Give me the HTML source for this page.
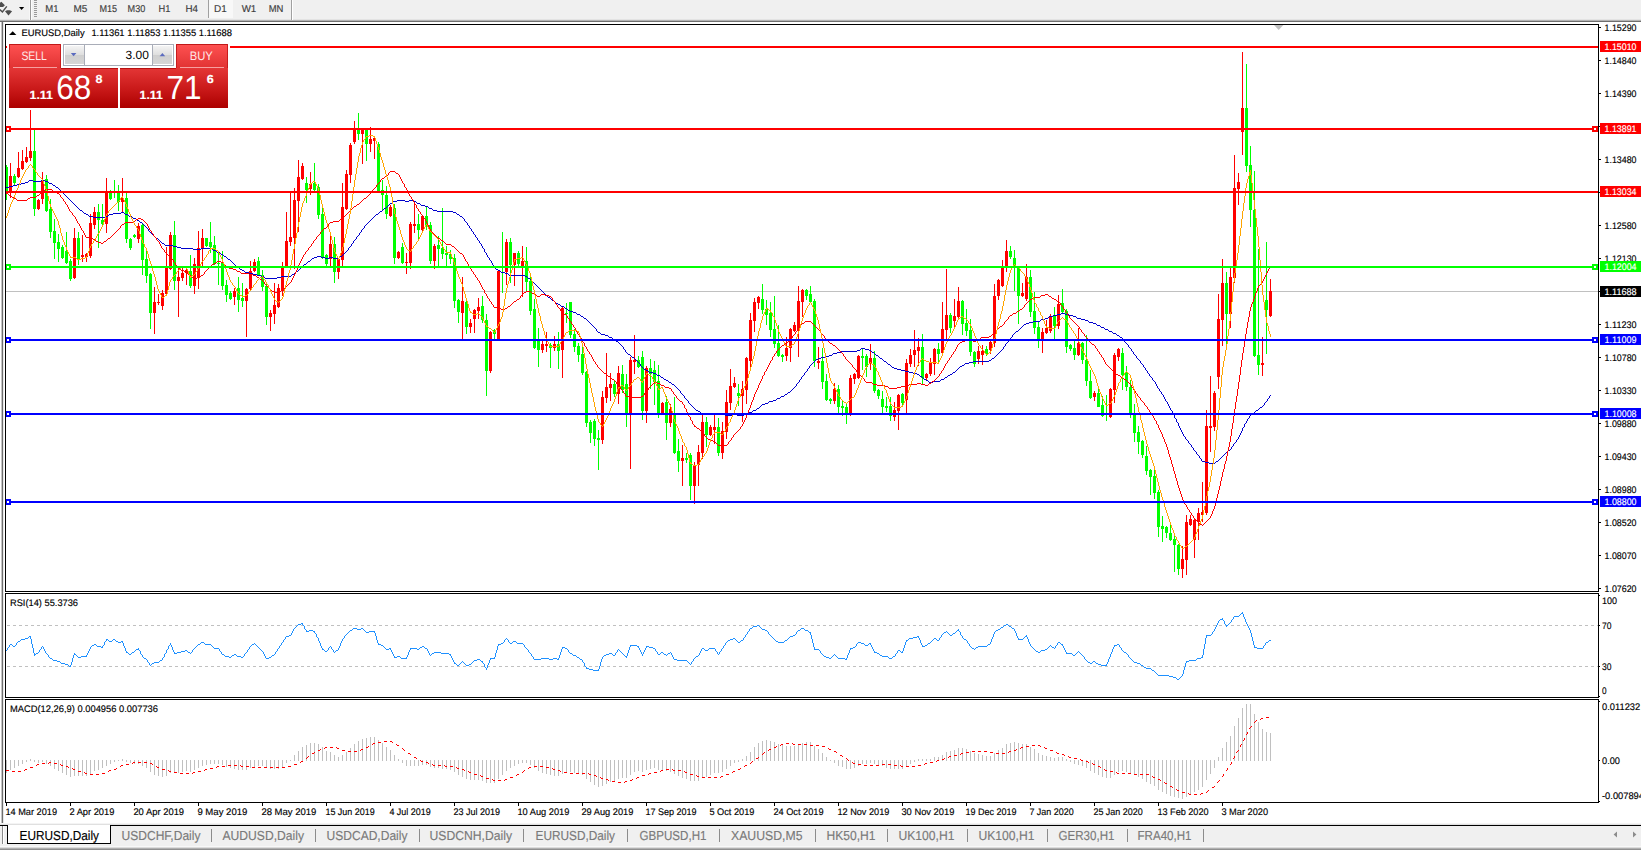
<!DOCTYPE html>
<html lang="en"><head><meta charset="utf-8"><title>EURUSD,Daily</title>
<style>
html,body{margin:0;padding:0;background:#fff;overflow:hidden}
svg{display:block;font-family:"Liberation Sans", sans-serif;}
svg text{white-space:pre}
</style></head><body>
<svg width="1641" height="850" viewBox="0 0 1641 850" shape-rendering="crispEdges" text-rendering="geometricPrecision">
<rect x="0" y="0" width="1641" height="850" fill="#ffffff" />
<clipPath id="cpMain"><rect x="6" y="25" width="1592" height="566"/></clipPath>
<g clip-path="url(#cpMain)">
<rect x="6" y="291" width="1592" height="1" fill="#c0c0c0" />
<rect x="6" y="165" width="1" height="35" fill="#00ff00" />
<rect x="5" y="167" width="3" height="26" fill="#00ff00" />
<rect x="10" y="163" width="1" height="35" fill="#ff0000" />
<rect x="9" y="176" width="3" height="17" fill="#ff0000" />
<rect x="14" y="174" width="1" height="11" fill="#00ff00" />
<rect x="13" y="176" width="3" height="7" fill="#00ff00" />
<rect x="18" y="152" width="1" height="26" fill="#ff0000" />
<rect x="17" y="168" width="3" height="9" fill="#ff0000" />
<rect x="22" y="150" width="1" height="20" fill="#ff0000" />
<rect x="21" y="161" width="3" height="8" fill="#ff0000" />
<rect x="26" y="147" width="1" height="16" fill="#ff0000" />
<rect x="25" y="157" width="3" height="5" fill="#ff0000" />
<rect x="30" y="110" width="1" height="51" fill="#ff0000" />
<rect x="29" y="151" width="3" height="7" fill="#ff0000" />
<rect x="34" y="130" width="1" height="86" fill="#00ff00" />
<rect x="33" y="151" width="3" height="58" fill="#00ff00" />
<rect x="38" y="199" width="1" height="11" fill="#ff0000" />
<rect x="37" y="200" width="3" height="9" fill="#ff0000" />
<rect x="42" y="172" width="1" height="32" fill="#ff0000" />
<rect x="41" y="180" width="3" height="19" fill="#ff0000" />
<rect x="46" y="175" width="1" height="37" fill="#00ff00" />
<rect x="45" y="179" width="3" height="32" fill="#00ff00" />
<rect x="50" y="199" width="1" height="39" fill="#00ff00" />
<rect x="49" y="209" width="3" height="23" fill="#00ff00" />
<rect x="54" y="219" width="1" height="40" fill="#00ff00" />
<rect x="53" y="231" width="3" height="12" fill="#00ff00" />
<rect x="58" y="234" width="1" height="28" fill="#00ff00" />
<rect x="57" y="242" width="3" height="7" fill="#00ff00" />
<rect x="62" y="245" width="1" height="14" fill="#00ff00" />
<rect x="61" y="247" width="3" height="11" fill="#00ff00" />
<rect x="66" y="232" width="1" height="32" fill="#00ff00" />
<rect x="65" y="251" width="3" height="12" fill="#00ff00" />
<rect x="70" y="259" width="1" height="22" fill="#00ff00" />
<rect x="69" y="261" width="3" height="18" fill="#00ff00" />
<rect x="74" y="228" width="1" height="51" fill="#ff0000" />
<rect x="73" y="238" width="3" height="40" fill="#ff0000" />
<rect x="78" y="232" width="1" height="33" fill="#00ff00" />
<rect x="77" y="238" width="3" height="21" fill="#00ff00" />
<rect x="82" y="235" width="1" height="27" fill="#ff0000" />
<rect x="81" y="255" width="3" height="2" fill="#ff0000" />
<rect x="86" y="253" width="1" height="9" fill="#ff0000" />
<rect x="85" y="254" width="3" height="3" fill="#ff0000" />
<rect x="90" y="214" width="1" height="44" fill="#ff0000" />
<rect x="89" y="223" width="3" height="33" fill="#ff0000" />
<rect x="94" y="207" width="1" height="22" fill="#ff0000" />
<rect x="93" y="212" width="3" height="13" fill="#ff0000" />
<rect x="98" y="204" width="1" height="44" fill="#00ff00" />
<rect x="97" y="212" width="3" height="8" fill="#00ff00" />
<rect x="102" y="204" width="1" height="21" fill="#00ff00" />
<rect x="101" y="220" width="3" height="4" fill="#00ff00" />
<rect x="106" y="178" width="1" height="55" fill="#ff0000" />
<rect x="105" y="192" width="3" height="32" fill="#ff0000" />
<rect x="110" y="190" width="1" height="10" fill="#00ff00" />
<rect x="109" y="191" width="3" height="8" fill="#00ff00" />
<rect x="114" y="180" width="1" height="18" fill="#00ff00" />
<rect x="113" y="192" width="3" height="1" fill="#00ff00" />
<rect x="118" y="185" width="1" height="26" fill="#00ff00" />
<rect x="117" y="193" width="3" height="9" fill="#00ff00" />
<rect x="122" y="178" width="1" height="34" fill="#ff0000" />
<rect x="121" y="198" width="3" height="4" fill="#ff0000" />
<rect x="126" y="193" width="1" height="50" fill="#00ff00" />
<rect x="125" y="198" width="3" height="41" fill="#00ff00" />
<rect x="130" y="238" width="1" height="12" fill="#00ff00" />
<rect x="129" y="239" width="3" height="9" fill="#00ff00" />
<rect x="134" y="234" width="1" height="4" fill="#00ff00" />
<rect x="133" y="235" width="3" height="2" fill="#00ff00" />
<rect x="138" y="223" width="1" height="20" fill="#ff0000" />
<rect x="137" y="226" width="3" height="13" fill="#ff0000" />
<rect x="142" y="224" width="1" height="51" fill="#00ff00" />
<rect x="141" y="225" width="3" height="35" fill="#00ff00" />
<rect x="146" y="248" width="1" height="35" fill="#00ff00" />
<rect x="145" y="259" width="3" height="17" fill="#00ff00" />
<rect x="150" y="273" width="1" height="56" fill="#00ff00" />
<rect x="149" y="274" width="3" height="39" fill="#00ff00" />
<rect x="154" y="287" width="1" height="47" fill="#ff0000" />
<rect x="153" y="302" width="3" height="11" fill="#ff0000" />
<rect x="158" y="294" width="1" height="11" fill="#ff0000" />
<rect x="157" y="302" width="3" height="1" fill="#ff0000" />
<rect x="162" y="290" width="1" height="20" fill="#ff0000" />
<rect x="161" y="293" width="3" height="13" fill="#ff0000" />
<rect x="166" y="247" width="1" height="48" fill="#ff0000" />
<rect x="165" y="267" width="3" height="27" fill="#ff0000" />
<rect x="170" y="232" width="1" height="38" fill="#ff0000" />
<rect x="169" y="235" width="3" height="34" fill="#ff0000" />
<rect x="174" y="221" width="1" height="69" fill="#00ff00" />
<rect x="173" y="235" width="3" height="46" fill="#00ff00" />
<rect x="178" y="268" width="1" height="49" fill="#ff0000" />
<rect x="177" y="277" width="3" height="4" fill="#ff0000" />
<rect x="182" y="268" width="1" height="13" fill="#ff0000" />
<rect x="181" y="273" width="3" height="5" fill="#ff0000" />
<rect x="186" y="269" width="1" height="16" fill="#ff0000" />
<rect x="185" y="270" width="3" height="3" fill="#ff0000" />
<rect x="190" y="255" width="1" height="33" fill="#00ff00" />
<rect x="189" y="271" width="3" height="15" fill="#00ff00" />
<rect x="194" y="258" width="1" height="36" fill="#ff0000" />
<rect x="193" y="264" width="3" height="22" fill="#ff0000" />
<rect x="198" y="231" width="1" height="58" fill="#ff0000" />
<rect x="197" y="248" width="3" height="30" fill="#ff0000" />
<rect x="202" y="229" width="1" height="37" fill="#ff0000" />
<rect x="201" y="238" width="3" height="10" fill="#ff0000" />
<rect x="206" y="238" width="1" height="9" fill="#00ff00" />
<rect x="205" y="238" width="3" height="8" fill="#00ff00" />
<rect x="210" y="222" width="1" height="31" fill="#00ff00" />
<rect x="209" y="242" width="3" height="5" fill="#00ff00" />
<rect x="214" y="236" width="1" height="29" fill="#00ff00" />
<rect x="213" y="245" width="3" height="19" fill="#00ff00" />
<rect x="218" y="252" width="1" height="33" fill="#00ff00" />
<rect x="217" y="263" width="3" height="1" fill="#00ff00" />
<rect x="222" y="251" width="1" height="39" fill="#00ff00" />
<rect x="221" y="262" width="3" height="24" fill="#00ff00" />
<rect x="226" y="280" width="1" height="22" fill="#00ff00" />
<rect x="225" y="285" width="3" height="10" fill="#00ff00" />
<rect x="230" y="291" width="1" height="9" fill="#00ff00" />
<rect x="229" y="293" width="3" height="6" fill="#00ff00" />
<rect x="234" y="288" width="1" height="17" fill="#ff0000" />
<rect x="233" y="291" width="3" height="6" fill="#ff0000" />
<rect x="238" y="277" width="1" height="35" fill="#00ff00" />
<rect x="237" y="288" width="3" height="12" fill="#00ff00" />
<rect x="242" y="283" width="1" height="24" fill="#00ff00" />
<rect x="241" y="298" width="3" height="3" fill="#00ff00" />
<rect x="246" y="288" width="1" height="49" fill="#ff0000" />
<rect x="245" y="289" width="3" height="12" fill="#ff0000" />
<rect x="250" y="261" width="1" height="29" fill="#ff0000" />
<rect x="249" y="271" width="3" height="18" fill="#ff0000" />
<rect x="254" y="259" width="1" height="13" fill="#ff0000" />
<rect x="253" y="262" width="3" height="9" fill="#ff0000" />
<rect x="258" y="257" width="1" height="19" fill="#00ff00" />
<rect x="257" y="261" width="3" height="14" fill="#00ff00" />
<rect x="262" y="270" width="1" height="21" fill="#00ff00" />
<rect x="261" y="275" width="3" height="12" fill="#00ff00" />
<rect x="266" y="284" width="1" height="41" fill="#00ff00" />
<rect x="265" y="286" width="3" height="31" fill="#00ff00" />
<rect x="270" y="310" width="1" height="21" fill="#ff0000" />
<rect x="269" y="313" width="3" height="4" fill="#ff0000" />
<rect x="274" y="283" width="1" height="41" fill="#ff0000" />
<rect x="273" y="305" width="3" height="9" fill="#ff0000" />
<rect x="278" y="284" width="1" height="24" fill="#ff0000" />
<rect x="277" y="288" width="3" height="19" fill="#ff0000" />
<rect x="282" y="262" width="1" height="34" fill="#ff0000" />
<rect x="281" y="266" width="3" height="25" fill="#ff0000" />
<rect x="286" y="212" width="1" height="55" fill="#ff0000" />
<rect x="285" y="241" width="3" height="25" fill="#ff0000" />
<rect x="290" y="193" width="1" height="53" fill="#ff0000" />
<rect x="289" y="237" width="3" height="5" fill="#ff0000" />
<rect x="294" y="188" width="1" height="81" fill="#ff0000" />
<rect x="293" y="200" width="3" height="38" fill="#ff0000" />
<rect x="298" y="160" width="1" height="72" fill="#ff0000" />
<rect x="297" y="177" width="3" height="24" fill="#ff0000" />
<rect x="302" y="163" width="1" height="17" fill="#ff0000" />
<rect x="301" y="166" width="3" height="13" fill="#ff0000" />
<rect x="306" y="177" width="1" height="26" fill="#00ff00" />
<rect x="305" y="183" width="3" height="7" fill="#00ff00" />
<rect x="310" y="172" width="1" height="23" fill="#ff0000" />
<rect x="309" y="184" width="3" height="5" fill="#ff0000" />
<rect x="314" y="163" width="1" height="28" fill="#00ff00" />
<rect x="313" y="183" width="3" height="7" fill="#00ff00" />
<rect x="318" y="184" width="1" height="35" fill="#00ff00" />
<rect x="317" y="187" width="3" height="28" fill="#00ff00" />
<rect x="322" y="208" width="1" height="51" fill="#00ff00" />
<rect x="321" y="214" width="3" height="43" fill="#00ff00" />
<rect x="326" y="254" width="1" height="12" fill="#00ff00" />
<rect x="325" y="255" width="3" height="9" fill="#00ff00" />
<rect x="330" y="236" width="1" height="30" fill="#ff0000" />
<rect x="329" y="244" width="3" height="15" fill="#ff0000" />
<rect x="334" y="237" width="1" height="46" fill="#00ff00" />
<rect x="333" y="244" width="3" height="28" fill="#00ff00" />
<rect x="338" y="258" width="1" height="21" fill="#ff0000" />
<rect x="337" y="259" width="3" height="13" fill="#ff0000" />
<rect x="342" y="183" width="1" height="84" fill="#ff0000" />
<rect x="341" y="207" width="3" height="53" fill="#ff0000" />
<rect x="346" y="170" width="1" height="40" fill="#ff0000" />
<rect x="345" y="174" width="3" height="35" fill="#ff0000" />
<rect x="350" y="143" width="1" height="40" fill="#ff0000" />
<rect x="349" y="145" width="3" height="30" fill="#ff0000" />
<rect x="354" y="121" width="1" height="23" fill="#ff0000" />
<rect x="353" y="129" width="3" height="13" fill="#ff0000" />
<rect x="358" y="113" width="1" height="27" fill="#00ff00" />
<rect x="357" y="129" width="3" height="5" fill="#00ff00" />
<rect x="362" y="128" width="1" height="36" fill="#ff0000" />
<rect x="361" y="129" width="3" height="5" fill="#ff0000" />
<rect x="366" y="128" width="1" height="33" fill="#00ff00" />
<rect x="365" y="129" width="3" height="15" fill="#00ff00" />
<rect x="370" y="127" width="1" height="25" fill="#ff0000" />
<rect x="369" y="139" width="3" height="5" fill="#ff0000" />
<rect x="374" y="137" width="1" height="22" fill="#ff0000" />
<rect x="373" y="138" width="3" height="3" fill="#ff0000" />
<rect x="378" y="142" width="1" height="50" fill="#00ff00" />
<rect x="377" y="144" width="3" height="47" fill="#00ff00" />
<rect x="382" y="180" width="1" height="31" fill="#00ff00" />
<rect x="381" y="190" width="3" height="5" fill="#00ff00" />
<rect x="386" y="186" width="1" height="33" fill="#00ff00" />
<rect x="385" y="195" width="3" height="19" fill="#00ff00" />
<rect x="390" y="205" width="1" height="12" fill="#ff0000" />
<rect x="389" y="207" width="3" height="9" fill="#ff0000" />
<rect x="394" y="204" width="1" height="60" fill="#00ff00" />
<rect x="393" y="208" width="3" height="50" fill="#00ff00" />
<rect x="398" y="251" width="1" height="8" fill="#ff0000" />
<rect x="397" y="252" width="3" height="6" fill="#ff0000" />
<rect x="402" y="243" width="1" height="21" fill="#00ff00" />
<rect x="401" y="247" width="3" height="16" fill="#00ff00" />
<rect x="406" y="253" width="1" height="21" fill="#ff0000" />
<rect x="405" y="262" width="3" height="1" fill="#ff0000" />
<rect x="410" y="222" width="1" height="47" fill="#ff0000" />
<rect x="409" y="224" width="3" height="39" fill="#ff0000" />
<rect x="414" y="202" width="1" height="31" fill="#ff0000" />
<rect x="413" y="224" width="3" height="2" fill="#ff0000" />
<rect x="418" y="214" width="1" height="25" fill="#00ff00" />
<rect x="417" y="224" width="3" height="6" fill="#00ff00" />
<rect x="422" y="215" width="1" height="16" fill="#ff0000" />
<rect x="421" y="216" width="3" height="14" fill="#ff0000" />
<rect x="426" y="207" width="1" height="23" fill="#00ff00" />
<rect x="425" y="216" width="3" height="10" fill="#00ff00" />
<rect x="430" y="222" width="1" height="42" fill="#00ff00" />
<rect x="429" y="225" width="3" height="36" fill="#00ff00" />
<rect x="434" y="244" width="1" height="25" fill="#ff0000" />
<rect x="433" y="246" width="3" height="15" fill="#ff0000" />
<rect x="438" y="236" width="1" height="30" fill="#00ff00" />
<rect x="437" y="245" width="3" height="4" fill="#00ff00" />
<rect x="442" y="208" width="1" height="51" fill="#00ff00" />
<rect x="441" y="248" width="3" height="6" fill="#00ff00" />
<rect x="446" y="246" width="1" height="20" fill="#00ff00" />
<rect x="445" y="253" width="3" height="2" fill="#00ff00" />
<rect x="450" y="250" width="1" height="14" fill="#00ff00" />
<rect x="449" y="254" width="3" height="5" fill="#00ff00" />
<rect x="454" y="254" width="1" height="54" fill="#00ff00" />
<rect x="453" y="258" width="3" height="43" fill="#00ff00" />
<rect x="458" y="299" width="1" height="24" fill="#00ff00" />
<rect x="457" y="300" width="3" height="12" fill="#00ff00" />
<rect x="462" y="277" width="1" height="62" fill="#ff0000" />
<rect x="461" y="301" width="3" height="12" fill="#ff0000" />
<rect x="466" y="301" width="1" height="33" fill="#00ff00" />
<rect x="465" y="302" width="3" height="25" fill="#00ff00" />
<rect x="470" y="319" width="1" height="14" fill="#ff0000" />
<rect x="469" y="323" width="3" height="4" fill="#ff0000" />
<rect x="474" y="309" width="1" height="24" fill="#ff0000" />
<rect x="473" y="310" width="3" height="9" fill="#ff0000" />
<rect x="478" y="298" width="1" height="21" fill="#ff0000" />
<rect x="477" y="307" width="3" height="4" fill="#ff0000" />
<rect x="482" y="296" width="1" height="27" fill="#00ff00" />
<rect x="481" y="306" width="3" height="14" fill="#00ff00" />
<rect x="486" y="314" width="1" height="82" fill="#00ff00" />
<rect x="485" y="320" width="3" height="51" fill="#00ff00" />
<rect x="490" y="331" width="1" height="42" fill="#ff0000" />
<rect x="489" y="332" width="3" height="39" fill="#ff0000" />
<rect x="494" y="329" width="1" height="10" fill="#00ff00" />
<rect x="493" y="330" width="3" height="4" fill="#00ff00" />
<rect x="498" y="270" width="1" height="70" fill="#ff0000" />
<rect x="497" y="271" width="3" height="68" fill="#ff0000" />
<rect x="502" y="232" width="1" height="61" fill="#00ff00" />
<rect x="501" y="267" width="3" height="1" fill="#00ff00" />
<rect x="506" y="239" width="1" height="46" fill="#ff0000" />
<rect x="505" y="242" width="3" height="30" fill="#ff0000" />
<rect x="510" y="238" width="1" height="45" fill="#00ff00" />
<rect x="509" y="242" width="3" height="23" fill="#00ff00" />
<rect x="514" y="253" width="1" height="33" fill="#ff0000" />
<rect x="513" y="253" width="3" height="12" fill="#ff0000" />
<rect x="518" y="251" width="1" height="15" fill="#00ff00" />
<rect x="517" y="253" width="3" height="11" fill="#00ff00" />
<rect x="522" y="246" width="1" height="51" fill="#ff0000" />
<rect x="521" y="261" width="3" height="5" fill="#ff0000" />
<rect x="526" y="247" width="1" height="45" fill="#00ff00" />
<rect x="525" y="261" width="3" height="21" fill="#00ff00" />
<rect x="530" y="276" width="1" height="39" fill="#00ff00" />
<rect x="529" y="281" width="3" height="30" fill="#00ff00" />
<rect x="534" y="299" width="1" height="50" fill="#00ff00" />
<rect x="533" y="309" width="3" height="39" fill="#00ff00" />
<rect x="538" y="328" width="1" height="39" fill="#00ff00" />
<rect x="537" y="341" width="3" height="9" fill="#00ff00" />
<rect x="542" y="340" width="1" height="13" fill="#ff0000" />
<rect x="541" y="344" width="3" height="6" fill="#ff0000" />
<rect x="546" y="332" width="1" height="20" fill="#ff0000" />
<rect x="545" y="344" width="3" height="2" fill="#ff0000" />
<rect x="550" y="343" width="1" height="25" fill="#00ff00" />
<rect x="549" y="345" width="3" height="3" fill="#00ff00" />
<rect x="554" y="336" width="1" height="15" fill="#ff0000" />
<rect x="553" y="344" width="3" height="4" fill="#ff0000" />
<rect x="558" y="332" width="1" height="37" fill="#00ff00" />
<rect x="557" y="344" width="3" height="7" fill="#00ff00" />
<rect x="562" y="307" width="1" height="71" fill="#ff0000" />
<rect x="561" y="308" width="3" height="42" fill="#ff0000" />
<rect x="566" y="303" width="1" height="20" fill="#00ff00" />
<rect x="565" y="313" width="3" height="1" fill="#00ff00" />
<rect x="570" y="302" width="1" height="36" fill="#00ff00" />
<rect x="569" y="302" width="3" height="33" fill="#00ff00" />
<rect x="574" y="329" width="1" height="23" fill="#00ff00" />
<rect x="573" y="334" width="3" height="13" fill="#00ff00" />
<rect x="578" y="343" width="1" height="19" fill="#00ff00" />
<rect x="577" y="346" width="3" height="9" fill="#00ff00" />
<rect x="582" y="347" width="1" height="28" fill="#00ff00" />
<rect x="581" y="354" width="3" height="19" fill="#00ff00" />
<rect x="586" y="371" width="1" height="56" fill="#00ff00" />
<rect x="585" y="372" width="3" height="51" fill="#00ff00" />
<rect x="590" y="420" width="1" height="23" fill="#00ff00" />
<rect x="589" y="422" width="3" height="11" fill="#00ff00" />
<rect x="594" y="419" width="1" height="27" fill="#00ff00" />
<rect x="593" y="421" width="3" height="18" fill="#00ff00" />
<rect x="598" y="430" width="1" height="40" fill="#00ff00" />
<rect x="597" y="438" width="3" height="2" fill="#00ff00" />
<rect x="602" y="391" width="1" height="53" fill="#ff0000" />
<rect x="601" y="397" width="3" height="43" fill="#ff0000" />
<rect x="606" y="353" width="1" height="50" fill="#ff0000" />
<rect x="605" y="387" width="3" height="11" fill="#ff0000" />
<rect x="610" y="373" width="1" height="28" fill="#ff0000" />
<rect x="609" y="384" width="3" height="4" fill="#ff0000" />
<rect x="614" y="381" width="1" height="16" fill="#00ff00" />
<rect x="613" y="384" width="3" height="10" fill="#00ff00" />
<rect x="618" y="366" width="1" height="38" fill="#ff0000" />
<rect x="617" y="373" width="3" height="21" fill="#ff0000" />
<rect x="622" y="365" width="1" height="28" fill="#00ff00" />
<rect x="621" y="374" width="3" height="16" fill="#00ff00" />
<rect x="626" y="374" width="1" height="53" fill="#00ff00" />
<rect x="625" y="384" width="3" height="29" fill="#00ff00" />
<rect x="630" y="357" width="1" height="112" fill="#ff0000" />
<rect x="629" y="360" width="3" height="53" fill="#ff0000" />
<rect x="634" y="335" width="1" height="39" fill="#ff0000" />
<rect x="633" y="360" width="3" height="2" fill="#ff0000" />
<rect x="638" y="356" width="1" height="12" fill="#00ff00" />
<rect x="637" y="360" width="3" height="7" fill="#00ff00" />
<rect x="642" y="351" width="1" height="69" fill="#00ff00" />
<rect x="641" y="357" width="3" height="54" fill="#00ff00" />
<rect x="646" y="366" width="1" height="57" fill="#ff0000" />
<rect x="645" y="368" width="3" height="43" fill="#ff0000" />
<rect x="650" y="359" width="1" height="30" fill="#00ff00" />
<rect x="649" y="368" width="3" height="6" fill="#00ff00" />
<rect x="654" y="361" width="1" height="44" fill="#00ff00" />
<rect x="653" y="370" width="3" height="12" fill="#00ff00" />
<rect x="658" y="365" width="1" height="53" fill="#00ff00" />
<rect x="657" y="381" width="3" height="32" fill="#00ff00" />
<rect x="662" y="402" width="1" height="12" fill="#ff0000" />
<rect x="661" y="403" width="3" height="10" fill="#ff0000" />
<rect x="666" y="396" width="1" height="44" fill="#00ff00" />
<rect x="665" y="402" width="3" height="21" fill="#00ff00" />
<rect x="670" y="404" width="1" height="23" fill="#ff0000" />
<rect x="669" y="409" width="3" height="14" fill="#ff0000" />
<rect x="674" y="397" width="1" height="57" fill="#00ff00" />
<rect x="673" y="415" width="3" height="38" fill="#00ff00" />
<rect x="678" y="439" width="1" height="33" fill="#00ff00" />
<rect x="677" y="451" width="3" height="10" fill="#00ff00" />
<rect x="682" y="445" width="1" height="41" fill="#ff0000" />
<rect x="681" y="458" width="3" height="3" fill="#ff0000" />
<rect x="686" y="453" width="1" height="10" fill="#00ff00" />
<rect x="685" y="458" width="3" height="2" fill="#00ff00" />
<rect x="690" y="453" width="1" height="47" fill="#00ff00" />
<rect x="689" y="455" width="3" height="31" fill="#00ff00" />
<rect x="694" y="462" width="1" height="42" fill="#ff0000" />
<rect x="693" y="465" width="3" height="21" fill="#ff0000" />
<rect x="698" y="445" width="1" height="41" fill="#ff0000" />
<rect x="697" y="452" width="3" height="13" fill="#ff0000" />
<rect x="702" y="415" width="1" height="44" fill="#ff0000" />
<rect x="701" y="422" width="3" height="31" fill="#ff0000" />
<rect x="706" y="417" width="1" height="30" fill="#00ff00" />
<rect x="705" y="422" width="3" height="13" fill="#00ff00" />
<rect x="710" y="425" width="1" height="11" fill="#ff0000" />
<rect x="709" y="427" width="3" height="8" fill="#ff0000" />
<rect x="714" y="415" width="1" height="29" fill="#ff0000" />
<rect x="713" y="427" width="3" height="3" fill="#ff0000" />
<rect x="718" y="418" width="1" height="38" fill="#00ff00" />
<rect x="717" y="427" width="3" height="26" fill="#00ff00" />
<rect x="722" y="422" width="1" height="37" fill="#ff0000" />
<rect x="721" y="431" width="3" height="22" fill="#ff0000" />
<rect x="726" y="390" width="1" height="49" fill="#ff0000" />
<rect x="725" y="402" width="3" height="30" fill="#ff0000" />
<rect x="730" y="369" width="1" height="41" fill="#ff0000" />
<rect x="729" y="386" width="3" height="17" fill="#ff0000" />
<rect x="734" y="377" width="1" height="11" fill="#ff0000" />
<rect x="733" y="383" width="3" height="4" fill="#ff0000" />
<rect x="738" y="384" width="1" height="22" fill="#00ff00" />
<rect x="737" y="393" width="3" height="3" fill="#00ff00" />
<rect x="742" y="381" width="1" height="41" fill="#ff0000" />
<rect x="741" y="389" width="3" height="7" fill="#ff0000" />
<rect x="746" y="357" width="1" height="47" fill="#ff0000" />
<rect x="745" y="358" width="3" height="32" fill="#ff0000" />
<rect x="750" y="313" width="1" height="54" fill="#ff0000" />
<rect x="749" y="320" width="3" height="41" fill="#ff0000" />
<rect x="754" y="298" width="1" height="34" fill="#ff0000" />
<rect x="753" y="302" width="3" height="19" fill="#ff0000" />
<rect x="758" y="296" width="1" height="13" fill="#ff0000" />
<rect x="757" y="297" width="3" height="6" fill="#ff0000" />
<rect x="762" y="284" width="1" height="30" fill="#00ff00" />
<rect x="761" y="299" width="3" height="11" fill="#00ff00" />
<rect x="766" y="300" width="1" height="25" fill="#00ff00" />
<rect x="765" y="309" width="3" height="6" fill="#00ff00" />
<rect x="770" y="302" width="1" height="35" fill="#00ff00" />
<rect x="769" y="313" width="3" height="17" fill="#00ff00" />
<rect x="774" y="296" width="1" height="52" fill="#00ff00" />
<rect x="773" y="329" width="3" height="15" fill="#00ff00" />
<rect x="778" y="325" width="1" height="32" fill="#00ff00" />
<rect x="777" y="343" width="3" height="13" fill="#00ff00" />
<rect x="782" y="354" width="1" height="8" fill="#00ff00" />
<rect x="781" y="355" width="3" height="2" fill="#00ff00" />
<rect x="786" y="337" width="1" height="24" fill="#ff0000" />
<rect x="785" y="348" width="3" height="8" fill="#ff0000" />
<rect x="790" y="328" width="1" height="34" fill="#ff0000" />
<rect x="789" y="329" width="3" height="19" fill="#ff0000" />
<rect x="794" y="322" width="1" height="10" fill="#ff0000" />
<rect x="793" y="325" width="3" height="6" fill="#ff0000" />
<rect x="798" y="286" width="1" height="71" fill="#ff0000" />
<rect x="797" y="301" width="3" height="28" fill="#ff0000" />
<rect x="802" y="289" width="1" height="28" fill="#ff0000" />
<rect x="801" y="290" width="3" height="12" fill="#ff0000" />
<rect x="806" y="289" width="1" height="11" fill="#00ff00" />
<rect x="805" y="290" width="3" height="6" fill="#00ff00" />
<rect x="810" y="286" width="1" height="17" fill="#00ff00" />
<rect x="809" y="294" width="3" height="8" fill="#00ff00" />
<rect x="814" y="299" width="1" height="68" fill="#00ff00" />
<rect x="813" y="301" width="3" height="60" fill="#00ff00" />
<rect x="818" y="347" width="1" height="22" fill="#ff0000" />
<rect x="817" y="361" width="3" height="2" fill="#ff0000" />
<rect x="822" y="348" width="1" height="41" fill="#00ff00" />
<rect x="821" y="361" width="3" height="21" fill="#00ff00" />
<rect x="826" y="374" width="1" height="27" fill="#00ff00" />
<rect x="825" y="381" width="3" height="19" fill="#00ff00" />
<rect x="830" y="398" width="1" height="6" fill="#00ff00" />
<rect x="829" y="399" width="3" height="2" fill="#00ff00" />
<rect x="834" y="383" width="1" height="21" fill="#ff0000" />
<rect x="833" y="389" width="3" height="12" fill="#ff0000" />
<rect x="838" y="385" width="1" height="28" fill="#00ff00" />
<rect x="837" y="389" width="3" height="18" fill="#00ff00" />
<rect x="842" y="401" width="1" height="15" fill="#00ff00" />
<rect x="841" y="406" width="3" height="2" fill="#00ff00" />
<rect x="846" y="403" width="1" height="21" fill="#00ff00" />
<rect x="845" y="407" width="3" height="7" fill="#00ff00" />
<rect x="850" y="375" width="1" height="41" fill="#ff0000" />
<rect x="849" y="378" width="3" height="36" fill="#ff0000" />
<rect x="854" y="373" width="1" height="11" fill="#ff0000" />
<rect x="853" y="374" width="3" height="5" fill="#ff0000" />
<rect x="858" y="355" width="1" height="24" fill="#ff0000" />
<rect x="857" y="356" width="3" height="22" fill="#ff0000" />
<rect x="862" y="349" width="1" height="21" fill="#00ff00" />
<rect x="861" y="356" width="3" height="2" fill="#00ff00" />
<rect x="866" y="354" width="1" height="23" fill="#00ff00" />
<rect x="865" y="356" width="3" height="11" fill="#00ff00" />
<rect x="870" y="344" width="1" height="26" fill="#ff0000" />
<rect x="869" y="358" width="3" height="6" fill="#ff0000" />
<rect x="874" y="351" width="1" height="42" fill="#00ff00" />
<rect x="873" y="358" width="3" height="33" fill="#00ff00" />
<rect x="878" y="389" width="1" height="10" fill="#00ff00" />
<rect x="877" y="390" width="3" height="6" fill="#00ff00" />
<rect x="882" y="391" width="1" height="22" fill="#00ff00" />
<rect x="881" y="399" width="3" height="8" fill="#00ff00" />
<rect x="886" y="397" width="1" height="15" fill="#00ff00" />
<rect x="885" y="406" width="3" height="2" fill="#00ff00" />
<rect x="890" y="397" width="1" height="24" fill="#00ff00" />
<rect x="889" y="406" width="3" height="10" fill="#00ff00" />
<rect x="894" y="402" width="1" height="19" fill="#ff0000" />
<rect x="893" y="410" width="3" height="7" fill="#ff0000" />
<rect x="898" y="394" width="1" height="36" fill="#ff0000" />
<rect x="897" y="395" width="3" height="16" fill="#ff0000" />
<rect x="902" y="393" width="1" height="12" fill="#00ff00" />
<rect x="901" y="394" width="3" height="9" fill="#00ff00" />
<rect x="906" y="359" width="1" height="54" fill="#ff0000" />
<rect x="905" y="363" width="3" height="37" fill="#ff0000" />
<rect x="910" y="349" width="1" height="18" fill="#ff0000" />
<rect x="909" y="355" width="3" height="9" fill="#ff0000" />
<rect x="914" y="330" width="1" height="37" fill="#ff0000" />
<rect x="913" y="350" width="3" height="5" fill="#ff0000" />
<rect x="918" y="338" width="1" height="28" fill="#ff0000" />
<rect x="917" y="347" width="3" height="4" fill="#ff0000" />
<rect x="922" y="334" width="1" height="51" fill="#00ff00" />
<rect x="921" y="347" width="3" height="31" fill="#00ff00" />
<rect x="926" y="373" width="1" height="7" fill="#ff0000" />
<rect x="925" y="374" width="3" height="4" fill="#ff0000" />
<rect x="930" y="358" width="1" height="18" fill="#ff0000" />
<rect x="929" y="363" width="3" height="11" fill="#ff0000" />
<rect x="934" y="348" width="1" height="27" fill="#ff0000" />
<rect x="933" y="349" width="3" height="15" fill="#ff0000" />
<rect x="938" y="343" width="1" height="21" fill="#00ff00" />
<rect x="937" y="349" width="3" height="5" fill="#00ff00" />
<rect x="942" y="302" width="1" height="52" fill="#ff0000" />
<rect x="941" y="329" width="3" height="24" fill="#ff0000" />
<rect x="946" y="269" width="1" height="70" fill="#ff0000" />
<rect x="945" y="315" width="3" height="15" fill="#ff0000" />
<rect x="950" y="313" width="1" height="20" fill="#00ff00" />
<rect x="949" y="315" width="3" height="13" fill="#00ff00" />
<rect x="954" y="299" width="1" height="29" fill="#ff0000" />
<rect x="953" y="316" width="3" height="5" fill="#ff0000" />
<rect x="958" y="287" width="1" height="31" fill="#ff0000" />
<rect x="957" y="301" width="3" height="16" fill="#ff0000" />
<rect x="962" y="300" width="1" height="35" fill="#00ff00" />
<rect x="961" y="301" width="3" height="23" fill="#00ff00" />
<rect x="966" y="309" width="1" height="27" fill="#00ff00" />
<rect x="965" y="323" width="3" height="8" fill="#00ff00" />
<rect x="970" y="319" width="1" height="37" fill="#00ff00" />
<rect x="969" y="330" width="3" height="22" fill="#00ff00" />
<rect x="974" y="351" width="1" height="16" fill="#00ff00" />
<rect x="973" y="352" width="3" height="12" fill="#00ff00" />
<rect x="978" y="346" width="1" height="18" fill="#ff0000" />
<rect x="977" y="351" width="3" height="8" fill="#ff0000" />
<rect x="982" y="345" width="1" height="20" fill="#ff0000" />
<rect x="981" y="351" width="3" height="4" fill="#ff0000" />
<rect x="986" y="346" width="1" height="10" fill="#00ff00" />
<rect x="985" y="349" width="3" height="5" fill="#00ff00" />
<rect x="990" y="341" width="1" height="13" fill="#ff0000" />
<rect x="989" y="342" width="3" height="8" fill="#ff0000" />
<rect x="994" y="284" width="1" height="63" fill="#ff0000" />
<rect x="993" y="296" width="3" height="47" fill="#ff0000" />
<rect x="998" y="279" width="1" height="21" fill="#ff0000" />
<rect x="997" y="280" width="3" height="16" fill="#ff0000" />
<rect x="1002" y="260" width="1" height="27" fill="#ff0000" />
<rect x="1001" y="268" width="3" height="18" fill="#ff0000" />
<rect x="1006" y="240" width="1" height="32" fill="#ff0000" />
<rect x="1005" y="251" width="3" height="17" fill="#ff0000" />
<rect x="1010" y="246" width="1" height="13" fill="#00ff00" />
<rect x="1009" y="251" width="3" height="6" fill="#00ff00" />
<rect x="1014" y="250" width="1" height="41" fill="#00ff00" />
<rect x="1013" y="258" width="3" height="7" fill="#00ff00" />
<rect x="1018" y="267" width="1" height="57" fill="#00ff00" />
<rect x="1017" y="268" width="3" height="28" fill="#00ff00" />
<rect x="1022" y="283" width="1" height="14" fill="#ff0000" />
<rect x="1021" y="293" width="3" height="3" fill="#ff0000" />
<rect x="1026" y="264" width="1" height="37" fill="#ff0000" />
<rect x="1025" y="277" width="3" height="22" fill="#ff0000" />
<rect x="1030" y="270" width="1" height="47" fill="#00ff00" />
<rect x="1029" y="277" width="3" height="35" fill="#00ff00" />
<rect x="1034" y="292" width="1" height="42" fill="#00ff00" />
<rect x="1033" y="311" width="3" height="17" fill="#00ff00" />
<rect x="1038" y="322" width="1" height="26" fill="#00ff00" />
<rect x="1037" y="327" width="3" height="13" fill="#00ff00" />
<rect x="1042" y="328" width="1" height="25" fill="#ff0000" />
<rect x="1041" y="332" width="3" height="8" fill="#ff0000" />
<rect x="1046" y="320" width="1" height="14" fill="#ff0000" />
<rect x="1045" y="328" width="3" height="5" fill="#ff0000" />
<rect x="1050" y="314" width="1" height="19" fill="#ff0000" />
<rect x="1049" y="316" width="3" height="15" fill="#ff0000" />
<rect x="1054" y="307" width="1" height="32" fill="#00ff00" />
<rect x="1053" y="316" width="3" height="10" fill="#00ff00" />
<rect x="1058" y="295" width="1" height="34" fill="#ff0000" />
<rect x="1057" y="304" width="3" height="22" fill="#ff0000" />
<rect x="1062" y="289" width="1" height="24" fill="#00ff00" />
<rect x="1061" y="303" width="3" height="9" fill="#00ff00" />
<rect x="1066" y="309" width="1" height="44" fill="#00ff00" />
<rect x="1065" y="311" width="3" height="36" fill="#00ff00" />
<rect x="1070" y="344" width="1" height="7" fill="#00ff00" />
<rect x="1069" y="345" width="3" height="4" fill="#00ff00" />
<rect x="1074" y="341" width="1" height="19" fill="#00ff00" />
<rect x="1073" y="348" width="3" height="7" fill="#00ff00" />
<rect x="1078" y="328" width="1" height="28" fill="#ff0000" />
<rect x="1077" y="343" width="3" height="12" fill="#ff0000" />
<rect x="1082" y="342" width="1" height="22" fill="#00ff00" />
<rect x="1081" y="343" width="3" height="17" fill="#00ff00" />
<rect x="1086" y="335" width="1" height="51" fill="#00ff00" />
<rect x="1085" y="360" width="3" height="21" fill="#00ff00" />
<rect x="1090" y="370" width="1" height="29" fill="#00ff00" />
<rect x="1089" y="381" width="3" height="17" fill="#00ff00" />
<rect x="1094" y="391" width="1" height="10" fill="#ff0000" />
<rect x="1093" y="393" width="3" height="4" fill="#ff0000" />
<rect x="1098" y="389" width="1" height="18" fill="#00ff00" />
<rect x="1097" y="393" width="3" height="14" fill="#00ff00" />
<rect x="1102" y="396" width="1" height="21" fill="#00ff00" />
<rect x="1101" y="405" width="3" height="11" fill="#00ff00" />
<rect x="1106" y="395" width="1" height="26" fill="#00ff00" />
<rect x="1105" y="413" width="3" height="2" fill="#00ff00" />
<rect x="1110" y="388" width="1" height="30" fill="#ff0000" />
<rect x="1109" y="389" width="3" height="28" fill="#ff0000" />
<rect x="1114" y="353" width="1" height="50" fill="#ff0000" />
<rect x="1113" y="355" width="3" height="35" fill="#ff0000" />
<rect x="1118" y="348" width="1" height="13" fill="#ff0000" />
<rect x="1117" y="349" width="3" height="8" fill="#ff0000" />
<rect x="1122" y="348" width="1" height="42" fill="#00ff00" />
<rect x="1121" y="353" width="3" height="22" fill="#00ff00" />
<rect x="1126" y="366" width="1" height="25" fill="#00ff00" />
<rect x="1125" y="373" width="3" height="14" fill="#00ff00" />
<rect x="1130" y="380" width="1" height="38" fill="#00ff00" />
<rect x="1129" y="387" width="3" height="26" fill="#00ff00" />
<rect x="1134" y="404" width="1" height="38" fill="#00ff00" />
<rect x="1133" y="413" width="3" height="20" fill="#00ff00" />
<rect x="1138" y="426" width="1" height="28" fill="#00ff00" />
<rect x="1137" y="432" width="3" height="10" fill="#00ff00" />
<rect x="1142" y="440" width="1" height="18" fill="#00ff00" />
<rect x="1141" y="441" width="3" height="14" fill="#00ff00" />
<rect x="1146" y="446" width="1" height="29" fill="#00ff00" />
<rect x="1145" y="456" width="3" height="15" fill="#00ff00" />
<rect x="1150" y="469" width="1" height="26" fill="#00ff00" />
<rect x="1149" y="470" width="3" height="7" fill="#00ff00" />
<rect x="1154" y="470" width="1" height="29" fill="#00ff00" />
<rect x="1153" y="476" width="3" height="17" fill="#00ff00" />
<rect x="1158" y="490" width="1" height="47" fill="#00ff00" />
<rect x="1157" y="492" width="3" height="35" fill="#00ff00" />
<rect x="1162" y="516" width="1" height="26" fill="#00ff00" />
<rect x="1161" y="526" width="3" height="3" fill="#00ff00" />
<rect x="1166" y="526" width="1" height="12" fill="#00ff00" />
<rect x="1165" y="527" width="3" height="6" fill="#00ff00" />
<rect x="1170" y="525" width="1" height="16" fill="#00ff00" />
<rect x="1169" y="533" width="3" height="7" fill="#00ff00" />
<rect x="1174" y="536" width="1" height="36" fill="#00ff00" />
<rect x="1173" y="539" width="3" height="6" fill="#00ff00" />
<rect x="1178" y="544" width="1" height="31" fill="#00ff00" />
<rect x="1177" y="545" width="3" height="24" fill="#00ff00" />
<rect x="1182" y="546" width="1" height="32" fill="#ff0000" />
<rect x="1181" y="559" width="3" height="10" fill="#ff0000" />
<rect x="1186" y="515" width="1" height="60" fill="#ff0000" />
<rect x="1185" y="522" width="3" height="38" fill="#ff0000" />
<rect x="1190" y="515" width="1" height="11" fill="#ff0000" />
<rect x="1189" y="519" width="3" height="6" fill="#ff0000" />
<rect x="1194" y="518" width="1" height="40" fill="#ff0000" />
<rect x="1193" y="520" width="3" height="20" fill="#ff0000" />
<rect x="1198" y="508" width="1" height="32" fill="#ff0000" />
<rect x="1197" y="513" width="3" height="9" fill="#ff0000" />
<rect x="1202" y="482" width="1" height="40" fill="#ff0000" />
<rect x="1201" y="512" width="3" height="3" fill="#ff0000" />
<rect x="1206" y="410" width="1" height="105" fill="#ff0000" />
<rect x="1205" y="426" width="3" height="87" fill="#ff0000" />
<rect x="1210" y="376" width="1" height="76" fill="#ff0000" />
<rect x="1209" y="426" width="3" height="2" fill="#ff0000" />
<rect x="1214" y="391" width="1" height="40" fill="#ff0000" />
<rect x="1213" y="393" width="3" height="34" fill="#ff0000" />
<rect x="1218" y="294" width="1" height="95" fill="#ff0000" />
<rect x="1217" y="319" width="3" height="58" fill="#ff0000" />
<rect x="1222" y="259" width="1" height="87" fill="#ff0000" />
<rect x="1221" y="283" width="3" height="37" fill="#ff0000" />
<rect x="1226" y="272" width="1" height="72" fill="#00ff00" />
<rect x="1225" y="283" width="3" height="31" fill="#00ff00" />
<rect x="1230" y="268" width="1" height="60" fill="#ff0000" />
<rect x="1229" y="277" width="3" height="37" fill="#ff0000" />
<rect x="1234" y="155" width="1" height="128" fill="#ff0000" />
<rect x="1233" y="188" width="3" height="90" fill="#ff0000" />
<rect x="1238" y="173" width="1" height="32" fill="#ff0000" />
<rect x="1237" y="182" width="3" height="7" fill="#ff0000" />
<rect x="1242" y="52" width="1" height="103" fill="#ff0000" />
<rect x="1241" y="108" width="3" height="24" fill="#ff0000" />
<rect x="1246" y="64" width="1" height="108" fill="#00ff00" />
<rect x="1245" y="108" width="3" height="58" fill="#00ff00" />
<rect x="1250" y="146" width="1" height="81" fill="#00ff00" />
<rect x="1249" y="165" width="3" height="45" fill="#00ff00" />
<rect x="1254" y="171" width="1" height="186" fill="#00ff00" />
<rect x="1253" y="210" width="3" height="146" fill="#00ff00" />
<rect x="1258" y="249" width="1" height="126" fill="#00ff00" />
<rect x="1257" y="355" width="3" height="10" fill="#00ff00" />
<rect x="1262" y="337" width="1" height="39" fill="#ff0000" />
<rect x="1261" y="363" width="3" height="2" fill="#ff0000" />
<rect x="1266" y="242" width="1" height="112" fill="#00ff00" />
<rect x="1265" y="300" width="3" height="10" fill="#00ff00" />
<rect x="1270" y="279" width="1" height="38" fill="#ff0000" />
<rect x="1269" y="291" width="3" height="25" fill="#ff0000" />
<path d="M6.5 187v1M7.5 187v1M8.5 187v1M9.5 186v1M10.5 186v1M11.5 186v1M12.5 186v1M13.5 185v1M14.5 185v1M15.5 185v1M16.5 185v1M17.5 184v1M18.5 184v1M19.5 184v1M20.5 184v1M21.5 183v1M22.5 183v1M23.5 183v1M24.5 183v1M25.5 182v1M26.5 182v1M27.5 182v1M28.5 181v1M29.5 180v1M30.5 180v1M31.5 180v1M32.5 180v1M33.5 181v1M34.5 181v1M35.5 181v1M36.5 181v1M37.5 181v1M38.5 181v1M39.5 181v1M40.5 181v1M41.5 180v1M42.5 180v1M43.5 180v1M44.5 180v1M45.5 181v1M46.5 181v1M47.5 181v1M48.5 182v1M49.5 183v1M50.5 183v1M51.5 183v1M52.5 184v1M53.5 185v1M54.5 185v1M55.5 186v1M56.5 187v1M57.5 187v1M58.5 188v1M59.5 189v1M60.5 190v1M61.5 191v1M62.5 192v1M63.5 193v1M64.5 194v1M65.5 195v1M66.5 196v1M67.5 197v1M68.5 198v1M69.5 199v1M70.5 200v1M71.5 201v1M72.5 202v1M73.5 203v1M74.5 204v1M75.5 205v1M76.5 206v1M77.5 207v1M78.5 208v1M79.5 209v1M80.5 210v1M81.5 210v1M82.5 211v1M83.5 212v1M84.5 213v1M85.5 213v1M86.5 214v1M87.5 214v1M88.5 215v1M89.5 216v1M90.5 216v1M91.5 216v1M92.5 216v1M93.5 217v1M94.5 217v1M95.5 217v1M96.5 217v1M97.5 217v1M98.5 217v1M99.5 217v1M100.5 217v1M101.5 217v1M102.5 217v1M103.5 217v1M104.5 217v1M105.5 216v1M106.5 216v1M107.5 216v1M108.5 215v1M109.5 214v1M110.5 214v1M111.5 214v1M112.5 214v1M113.5 213v1M114.5 213v1M115.5 213v1M116.5 213v1M117.5 213v1M118.5 213v1M119.5 213v1M120.5 213v1M121.5 212v1M122.5 212v1M123.5 212v1M124.5 213v1M125.5 214v1M126.5 214v1M127.5 214v1M128.5 215v1M129.5 216v1M130.5 216v1M131.5 216v1M132.5 217v1M133.5 218v1M134.5 218v1M135.5 218v1M136.5 219v1M137.5 220v1M138.5 220v1M139.5 221v1M140.5 222v1M141.5 222v1M142.5 223v1M143.5 224v1M144.5 225v1M145.5 226v1M146.5 227v1M147.5 228v1M148.5 229v2M149.5 231v1M150.5 232v1M151.5 233v1M152.5 234v1M153.5 235v1M154.5 236v1M155.5 237v1M156.5 238v1M157.5 238v1M158.5 239v1M159.5 240v1M160.5 241v1M161.5 242v1M162.5 243v1M163.5 243v1M164.5 244v1M165.5 245v1M166.5 245v1M167.5 245v1M168.5 245v1M169.5 245v1M170.5 245v1M171.5 245v1M172.5 245v1M173.5 246v1M174.5 246v1M175.5 246v1M176.5 246v1M177.5 247v1M178.5 247v1M179.5 247v1M180.5 247v1M181.5 248v1M182.5 248v1M183.5 248v1M184.5 248v1M185.5 248v1M186.5 248v1M187.5 248v1M188.5 248v1M189.5 248v1M190.5 248v1M191.5 248v1M192.5 248v1M193.5 249v1M194.5 249v1M195.5 249v1M196.5 249v1M197.5 249v1M198.5 249v1M199.5 249v1M200.5 249v1M201.5 248v1M202.5 248v1M203.5 248v1M204.5 248v1M205.5 248v1M206.5 248v1M207.5 248v1M208.5 248v1M209.5 248v1M210.5 248v1M211.5 248v1M212.5 249v1M213.5 250v1M214.5 250v1M215.5 250v1M216.5 251v1M217.5 252v1M218.5 252v1M219.5 252v1M220.5 253v1M221.5 254v1M222.5 254v1M223.5 255v1M224.5 256v1M225.5 256v1M226.5 257v1M227.5 258v1M228.5 259v1M229.5 259v1M230.5 260v1M231.5 261v1M232.5 262v1M233.5 263v1M234.5 264v1M235.5 265v1M236.5 266v1M237.5 266v1M238.5 267v1M239.5 268v1M240.5 269v1M241.5 269v1M242.5 270v1M243.5 270v1M244.5 271v1M245.5 272v1M246.5 272v1M247.5 272v1M248.5 272v1M249.5 273v1M250.5 273v1M251.5 273v1M252.5 273v1M253.5 274v1M254.5 274v1M255.5 274v1M256.5 274v1M257.5 275v1M258.5 275v1M259.5 275v1M260.5 275v1M261.5 276v1M262.5 276v1M263.5 276v1M264.5 277v1M265.5 278v1M266.5 278v1M267.5 278v1M268.5 278v1M269.5 278v1M270.5 278v1M271.5 278v1M272.5 278v1M273.5 278v1M274.5 278v1M275.5 278v1M276.5 278v1M277.5 277v1M278.5 277v1M279.5 277v1M280.5 277v1M281.5 276v1M282.5 276v1M283.5 276v1M284.5 276v1M285.5 276v1M286.5 276v1M287.5 276v1M288.5 276v1M289.5 276v1M290.5 276v1M291.5 275v1M292.5 274v1M293.5 274v1M294.5 273v1M295.5 272v1M296.5 271v1M297.5 271v1M298.5 270v1M299.5 269v1M300.5 268v1M301.5 267v1M302.5 266v1M303.5 265v1M304.5 264v1M305.5 264v1M306.5 263v1M307.5 262v1M308.5 261v1M309.5 261v1M310.5 260v1M311.5 259v1M312.5 258v1M313.5 258v1M314.5 257v1M315.5 257v1M316.5 257v1M317.5 256v1M318.5 256v1M319.5 256v1M320.5 256v1M321.5 257v1M322.5 257v1M323.5 257v1M324.5 257v1M325.5 258v1M326.5 258v1M327.5 258v1M328.5 258v1M329.5 257v1M330.5 257v1M331.5 257v1M332.5 257v1M333.5 258v1M334.5 258v1M335.5 258v1M336.5 258v1M337.5 258v1M338.5 258v1M339.5 257v1M340.5 256v1M341.5 256v1M342.5 255v1M343.5 254v1M344.5 253v1M345.5 252v1M346.5 251v1M347.5 250v1M348.5 248v2M349.5 247v1M350.5 246v1M351.5 244v2M352.5 243v1M353.5 241v2M354.5 240v1M355.5 239v1M356.5 237v2M357.5 236v1M358.5 235v1M359.5 233v2M360.5 232v1M361.5 230v2M362.5 229v1M363.5 228v1M364.5 226v2M365.5 225v1M366.5 224v1M367.5 223v1M368.5 222v1M369.5 221v1M370.5 220v1M371.5 219v1M372.5 218v1M373.5 217v1M374.5 216v1M375.5 215v1M376.5 214v1M377.5 214v1M378.5 213v1M379.5 212v1M380.5 211v1M381.5 211v1M382.5 210v1M383.5 209v1M384.5 208v1M385.5 208v1M386.5 207v1M387.5 206v1M388.5 205v1M389.5 204v1M390.5 203v1M391.5 203v1M392.5 202v1M393.5 201v1M394.5 201v1M395.5 201v1M396.5 201v1M397.5 200v1M398.5 200v1M399.5 200v1M400.5 200v1M401.5 200v1M402.5 200v1M403.5 200v1M404.5 200v1M405.5 201v1M406.5 201v1M407.5 201v1M408.5 201v1M409.5 200v1M410.5 200v1M411.5 200v1M412.5 200v1M413.5 201v1M414.5 201v1M415.5 201v1M416.5 202v1M417.5 203v1M418.5 203v1M419.5 203v1M420.5 204v1M421.5 205v1M422.5 205v1M423.5 205v1M424.5 205v1M425.5 206v1M426.5 206v1M427.5 206v1M428.5 207v1M429.5 208v1M430.5 208v1M431.5 208v1M432.5 209v1M433.5 210v1M434.5 210v1M435.5 210v1M436.5 210v1M437.5 211v1M438.5 211v1M439.5 211v1M440.5 211v1M441.5 211v1M442.5 211v1M443.5 211v1M444.5 211v1M445.5 211v1M446.5 211v1M447.5 211v1M448.5 211v1M449.5 211v1M450.5 211v1M451.5 211v1M452.5 211v1M453.5 212v1M454.5 212v1M455.5 212v1M456.5 213v1M457.5 214v1M458.5 214v1M459.5 215v1M460.5 216v1M461.5 216v1M462.5 217v1M463.5 218v1M464.5 219v2M465.5 221v1M466.5 222v1M467.5 223v2M468.5 225v1M469.5 226v2M470.5 228v1M471.5 229v2M472.5 231v1M473.5 232v2M474.5 234v1M475.5 235v2M476.5 237v1M477.5 238v2M478.5 240v1M479.5 241v2M480.5 243v1M481.5 244v2M482.5 246v2M483.5 248v1M484.5 249v3M485.5 252v1M486.5 253v2M487.5 255v2M488.5 257v1M489.5 258v2M490.5 260v1M491.5 261v2M492.5 263v2M493.5 265v2M494.5 267v1M495.5 268v1M496.5 269v1M497.5 269v1M498.5 270v1M499.5 270v1M500.5 271v1M501.5 272v1M502.5 272v1M503.5 272v1M504.5 272v1M505.5 273v1M506.5 273v1M507.5 273v1M508.5 274v1M509.5 275v1M510.5 275v1M511.5 275v1M512.5 275v1M513.5 275v1M514.5 275v1M515.5 275v1M516.5 275v1M517.5 275v1M518.5 275v1M519.5 275v1M520.5 275v1M521.5 275v1M522.5 275v1M523.5 275v1M524.5 275v1M525.5 276v1M526.5 276v1M527.5 277v1M528.5 278v1M529.5 278v1M530.5 279v1M531.5 280v1M532.5 281v1M533.5 282v1M534.5 283v1M535.5 284v1M536.5 285v1M537.5 286v1M538.5 287v1M539.5 288v1M540.5 289v1M541.5 290v1M542.5 291v1M543.5 292v1M544.5 293v1M545.5 294v1M546.5 295v1M547.5 296v1M548.5 297v1M549.5 297v1M550.5 298v1M551.5 299v1M552.5 300v1M553.5 300v1M554.5 301v1M555.5 302v1M556.5 303v1M557.5 303v1M558.5 304v1M559.5 304v1M560.5 305v1M561.5 306v1M562.5 306v1M563.5 306v1M564.5 307v1M565.5 308v1M566.5 308v1M567.5 309v1M568.5 310v1M569.5 310v1M570.5 311v1M571.5 311v1M572.5 311v1M573.5 312v1M574.5 312v1M575.5 312v1M576.5 313v1M577.5 314v1M578.5 314v1M579.5 314v1M580.5 315v1M581.5 316v1M582.5 316v1M583.5 317v1M584.5 318v1M585.5 318v1M586.5 319v1M587.5 320v1M588.5 321v1M589.5 322v1M590.5 323v1M591.5 324v1M592.5 325v1M593.5 326v1M594.5 327v1M595.5 328v1M596.5 329v2M597.5 331v1M598.5 332v1M599.5 332v1M600.5 333v1M601.5 334v1M602.5 334v1M603.5 334v1M604.5 334v1M605.5 335v1M606.5 335v1M607.5 335v1M608.5 336v1M609.5 337v1M610.5 337v1M611.5 337v1M612.5 338v1M613.5 339v1M614.5 339v1M615.5 340v1M616.5 341v1M617.5 341v1M618.5 342v1M619.5 343v1M620.5 344v1M621.5 345v1M622.5 346v1M623.5 347v2M624.5 349v1M625.5 350v2M626.5 352v1M627.5 353v1M628.5 354v1M629.5 354v1M630.5 355v1M631.5 356v1M632.5 357v1M633.5 357v1M634.5 358v1M635.5 359v1M636.5 360v1M637.5 361v1M638.5 362v1M639.5 363v1M640.5 364v2M641.5 366v1M642.5 367v1M643.5 368v1M644.5 369v1M645.5 369v1M646.5 370v1M647.5 370v1M648.5 371v1M649.5 372v1M650.5 372v1M651.5 372v1M652.5 372v1M653.5 373v1M654.5 373v1M655.5 373v1M656.5 374v1M657.5 375v1M658.5 375v1M659.5 375v1M660.5 376v1M661.5 377v1M662.5 377v1M663.5 378v1M664.5 379v1M665.5 379v1M666.5 380v1M667.5 380v1M668.5 381v1M669.5 382v1M670.5 382v1M671.5 383v1M672.5 384v1M673.5 384v1M674.5 385v1M675.5 386v1M676.5 387v1M677.5 388v1M678.5 389v1M679.5 390v1M680.5 391v2M681.5 393v1M682.5 394v1M683.5 395v1M684.5 396v2M685.5 398v1M686.5 399v1M687.5 400v1M688.5 401v2M689.5 403v1M690.5 404v1M691.5 405v1M692.5 406v1M693.5 407v1M694.5 408v1M695.5 409v1M696.5 410v1M697.5 410v1M698.5 411v1M699.5 411v1M700.5 412v1M701.5 413v1M702.5 413v1M703.5 413v1M704.5 413v1M705.5 413v1M706.5 413v1M707.5 413v1M708.5 413v1M709.5 413v1M710.5 413v1M711.5 413v1M712.5 413v1M713.5 413v1M714.5 413v1M715.5 413v1M716.5 413v1M717.5 413v1M718.5 413v1M719.5 413v1M720.5 413v1M721.5 414v1M722.5 414v1M723.5 414v1M724.5 414v1M725.5 415v1M726.5 415v1M727.5 415v1M728.5 415v1M729.5 415v1M730.5 415v1M731.5 415v1M732.5 415v1M733.5 414v1M734.5 414v1M735.5 414v1M736.5 414v1M737.5 415v1M738.5 415v1M739.5 415v1M740.5 415v1M741.5 415v1M742.5 415v1M743.5 415v1M744.5 414v1M745.5 413v1M746.5 413v1M747.5 413v1M748.5 413v1M749.5 412v1M750.5 412v1M751.5 412v1M752.5 411v1M753.5 410v1M754.5 410v1M755.5 410v1M756.5 409v1M757.5 408v1M758.5 408v1M759.5 407v1M760.5 406v1M761.5 405v1M762.5 404v1M763.5 404v1M764.5 404v1M765.5 403v1M766.5 403v1M767.5 403v1M768.5 402v1M769.5 401v1M770.5 401v1M771.5 401v1M772.5 401v1M773.5 400v1M774.5 400v1M775.5 400v1M776.5 399v1M777.5 398v1M778.5 398v1M779.5 398v1M780.5 397v1M781.5 396v1M782.5 396v1M783.5 396v1M784.5 395v1M785.5 394v1M786.5 394v1M787.5 393v1M788.5 392v1M789.5 392v1M790.5 391v1M791.5 390v1M792.5 389v1M793.5 388v1M794.5 387v1M795.5 386v1M796.5 384v2M797.5 383v1M798.5 382v1M799.5 380v2M800.5 379v1M801.5 377v2M802.5 376v1M803.5 375v1M804.5 373v2M805.5 372v1M806.5 371v1M807.5 369v2M808.5 368v1M809.5 366v2M810.5 365v1M811.5 364v1M812.5 363v1M813.5 362v1M814.5 361v1M815.5 360v1M816.5 359v1M817.5 359v1M818.5 358v1M819.5 358v1M820.5 358v1M821.5 357v1M822.5 357v1M823.5 357v1M824.5 357v1M825.5 356v1M826.5 356v1M827.5 356v1M828.5 356v1M829.5 355v1M830.5 355v1M831.5 355v1M832.5 354v1M833.5 353v1M834.5 353v1M835.5 353v1M836.5 353v1M837.5 352v1M838.5 352v1M839.5 352v1M840.5 352v1M841.5 351v1M842.5 351v1M843.5 351v1M844.5 351v1M845.5 351v1M846.5 351v1M847.5 351v1M848.5 351v1M849.5 351v1M850.5 351v1M851.5 351v1M852.5 351v1M853.5 351v1M854.5 351v1M855.5 351v1M856.5 351v1M857.5 350v1M858.5 350v1M859.5 350v1M860.5 349v1M861.5 348v1M862.5 348v1M863.5 348v1M864.5 348v1M865.5 349v1M866.5 349v1M867.5 349v1M868.5 349v1M869.5 350v1M870.5 350v1M871.5 351v1M872.5 352v1M873.5 352v1M874.5 353v1M875.5 354v1M876.5 355v1M877.5 355v1M878.5 356v1M879.5 357v1M880.5 358v1M881.5 358v1M882.5 359v1M883.5 360v1M884.5 361v1M885.5 361v1M886.5 362v1M887.5 363v1M888.5 364v1M889.5 364v1M890.5 365v1M891.5 366v1M892.5 367v1M893.5 367v1M894.5 368v1M895.5 368v1M896.5 368v1M897.5 369v1M898.5 369v1M899.5 369v1M900.5 369v1M901.5 370v1M902.5 370v1M903.5 370v1M904.5 370v1M905.5 371v1M906.5 371v1M907.5 371v1M908.5 371v1M909.5 372v1M910.5 372v1M911.5 372v1M912.5 372v1M913.5 373v1M914.5 373v1M915.5 373v1M916.5 373v1M917.5 374v1M918.5 374v1M919.5 375v1M920.5 376v1M921.5 376v1M922.5 377v1M923.5 378v1M924.5 379v1M925.5 379v1M926.5 380v1M927.5 380v1M928.5 381v1M929.5 382v1M930.5 382v1M931.5 382v1M932.5 382v1M933.5 381v1M934.5 381v1M935.5 381v1M936.5 381v1M937.5 381v1M938.5 381v1M939.5 381v1M940.5 380v1M941.5 379v1M942.5 379v1M943.5 379v1M944.5 378v1M945.5 377v1M946.5 377v1M947.5 376v1M948.5 375v1M949.5 375v1M950.5 374v1M951.5 374v1M952.5 373v1M953.5 372v1M954.5 372v1M955.5 371v1M956.5 370v1M957.5 369v1M958.5 368v1M959.5 367v1M960.5 366v1M961.5 366v1M962.5 365v1M963.5 365v1M964.5 364v1M965.5 363v1M966.5 363v1M967.5 363v1M968.5 363v1M969.5 362v1M970.5 362v1M971.5 362v1M972.5 362v1M973.5 361v1M974.5 361v1M975.5 361v1M976.5 361v1M977.5 361v1M978.5 361v1M979.5 361v1M980.5 361v1M981.5 361v1M982.5 361v1M983.5 361v1M984.5 361v1M985.5 361v1M986.5 361v1M987.5 361v1M988.5 361v1M989.5 360v1M990.5 360v1M991.5 359v1M992.5 358v1M993.5 358v1M994.5 357v1M995.5 356v1M996.5 355v1M997.5 354v1M998.5 353v1M999.5 352v1M1000.5 351v1M1001.5 350v1M1002.5 349v1M1003.5 347v2M1004.5 346v1M1005.5 344v2M1006.5 343v1M1007.5 342v1M1008.5 340v2M1009.5 339v1M1010.5 338v1M1011.5 337v1M1012.5 335v2M1013.5 334v1M1014.5 333v1M1015.5 332v1M1016.5 331v1M1017.5 331v1M1018.5 330v1M1019.5 329v1M1020.5 328v1M1021.5 327v1M1022.5 326v1M1023.5 325v1M1024.5 324v1M1025.5 324v1M1026.5 323v1M1027.5 323v1M1028.5 323v1M1029.5 322v1M1030.5 322v1M1031.5 322v1M1032.5 322v1M1033.5 321v1M1034.5 321v1M1035.5 321v1M1036.5 321v1M1037.5 321v1M1038.5 321v1M1039.5 321v1M1040.5 320v1M1041.5 319v1M1042.5 319v1M1043.5 319v1M1044.5 319v1M1045.5 318v1M1046.5 318v1M1047.5 318v1M1048.5 317v1M1049.5 316v1M1050.5 316v1M1051.5 316v1M1052.5 316v1M1053.5 315v1M1054.5 315v1M1055.5 315v1M1056.5 315v1M1057.5 314v1M1058.5 314v1M1059.5 314v1M1060.5 314v1M1061.5 313v1M1062.5 313v1M1063.5 313v1M1064.5 313v1M1065.5 314v1M1066.5 314v1M1067.5 314v1M1068.5 314v1M1069.5 315v1M1070.5 315v1M1071.5 315v1M1072.5 315v1M1073.5 316v1M1074.5 316v1M1075.5 316v1M1076.5 317v1M1077.5 318v1M1078.5 318v1M1079.5 318v1M1080.5 318v1M1081.5 319v1M1082.5 319v1M1083.5 319v1M1084.5 319v1M1085.5 320v1M1086.5 320v1M1087.5 320v1M1088.5 321v1M1089.5 322v1M1090.5 322v1M1091.5 322v1M1092.5 322v1M1093.5 323v1M1094.5 323v1M1095.5 323v1M1096.5 324v1M1097.5 325v1M1098.5 325v1M1099.5 325v1M1100.5 326v1M1101.5 327v1M1102.5 327v1M1103.5 327v1M1104.5 328v1M1105.5 329v1M1106.5 329v1M1107.5 329v1M1108.5 330v1M1109.5 331v1M1110.5 331v1M1111.5 331v1M1112.5 332v1M1113.5 333v1M1114.5 333v1M1115.5 333v1M1116.5 334v1M1117.5 335v1M1118.5 335v1M1119.5 336v1M1120.5 337v1M1121.5 337v1M1122.5 338v1M1123.5 339v1M1124.5 340v2M1125.5 342v1M1126.5 343v1M1127.5 344v1M1128.5 345v2M1129.5 347v1M1130.5 348v1M1131.5 349v2M1132.5 351v1M1133.5 352v2M1134.5 354v1M1135.5 355v1M1136.5 356v2M1137.5 358v1M1138.5 359v1M1139.5 360v1M1140.5 361v2M1141.5 363v1M1142.5 364v1M1143.5 365v2M1144.5 367v1M1145.5 368v2M1146.5 370v1M1147.5 371v2M1148.5 373v1M1149.5 374v2M1150.5 376v1M1151.5 377v1M1152.5 378v2M1153.5 380v1M1154.5 381v1M1155.5 382v2M1156.5 384v2M1157.5 386v2M1158.5 388v1M1159.5 389v2M1160.5 391v1M1161.5 392v2M1162.5 394v1M1163.5 395v2M1164.5 397v2M1165.5 399v2M1166.5 401v1M1167.5 402v2M1168.5 404v2M1169.5 406v2M1170.5 408v2M1171.5 410v1M1172.5 411v3M1173.5 414v1M1174.5 415v3M1175.5 418v1M1176.5 419v3M1177.5 422v1M1178.5 423v3M1179.5 426v2M1180.5 428v2M1181.5 430v2M1182.5 432v2M1183.5 434v2M1184.5 436v1M1185.5 437v2M1186.5 439v1M1187.5 440v1M1188.5 441v2M1189.5 443v1M1190.5 444v1M1191.5 445v2M1192.5 447v1M1193.5 448v2M1194.5 450v1M1195.5 451v1M1196.5 452v2M1197.5 454v1M1198.5 455v1M1199.5 456v2M1200.5 458v1M1201.5 459v2M1202.5 461v1M1203.5 461v1M1204.5 461v1M1205.5 462v1M1206.5 462v1M1207.5 462v1M1208.5 462v1M1209.5 463v1M1210.5 463v1M1211.5 463v1M1212.5 463v1M1213.5 463v1M1214.5 463v1M1215.5 462v1M1216.5 461v1M1217.5 461v1M1218.5 460v1M1219.5 459v1M1220.5 458v1M1221.5 457v1M1222.5 456v1M1223.5 455v1M1224.5 454v1M1225.5 453v1M1226.5 452v1M1227.5 451v1M1228.5 450v1M1229.5 450v1M1230.5 449v1M1231.5 447v2M1232.5 446v1M1233.5 444v2M1234.5 443v1M1235.5 442v1M1236.5 440v2M1237.5 439v1M1238.5 437v2M1239.5 435v2M1240.5 433v2M1241.5 431v2M1242.5 428v3M1243.5 427v1M1244.5 424v3M1245.5 423v1M1246.5 421v2M1247.5 419v2M1248.5 418v1M1249.5 416v2M1250.5 415v1M1251.5 414v1M1252.5 413v1M1253.5 413v1M1254.5 412v1M1255.5 411v1M1256.5 410v1M1257.5 410v1M1258.5 409v1M1259.5 408v1M1260.5 407v1M1261.5 407v1M1262.5 406v1M1263.5 405v1M1264.5 403v2M1265.5 402v1M1266.5 401v1M1267.5 399v2M1268.5 398v1M1269.5 396v2M1270.5 395v1" fill="none" stroke="#0000cd" stroke-width="1"/>
<path d="M6.5 193v1M7.5 193v1M8.5 194v1M9.5 195v1M10.5 195v1M11.5 196v1M12.5 197v1M13.5 197v1M14.5 198v1M15.5 198v1M16.5 199v1M17.5 200v1M18.5 200v1M19.5 200v1M20.5 200v1M21.5 200v1M22.5 200v1M23.5 200v1M24.5 200v1M25.5 200v1M26.5 200v1M27.5 199v1M28.5 198v1M29.5 198v1M30.5 197v1M31.5 197v1M32.5 197v1M33.5 197v1M34.5 197v1M35.5 197v1M36.5 196v1M37.5 195v1M38.5 195v1M39.5 194v1M40.5 193v1M41.5 192v1M42.5 191v1M43.5 191v1M44.5 190v1M45.5 189v1M46.5 189v1M47.5 189v1M48.5 189v1M49.5 189v1M50.5 189v1M51.5 189v1M52.5 190v1M53.5 191v1M54.5 191v1M55.5 191v1M56.5 192v1M57.5 193v1M58.5 193v1M59.5 194v1M60.5 195v2M61.5 197v1M62.5 198v1M63.5 199v2M64.5 201v1M65.5 202v2M66.5 204v1M67.5 205v2M68.5 207v2M69.5 209v2M70.5 211v1M71.5 212v1M72.5 213v2M73.5 215v1M74.5 216v1M75.5 217v2M76.5 219v2M77.5 221v2M78.5 223v1M79.5 224v2M80.5 226v2M81.5 228v2M82.5 230v1M83.5 231v2M84.5 233v2M85.5 235v2M86.5 237v1M87.5 237v1M88.5 237v1M89.5 238v1M90.5 238v1M91.5 238v1M92.5 238v1M93.5 239v1M94.5 239v1M95.5 240v1M96.5 241v1M97.5 241v1M98.5 242v1M99.5 242v1M100.5 242v1M101.5 243v1M102.5 243v1M103.5 242v1M104.5 241v1M105.5 241v1M106.5 240v1M107.5 239v1M108.5 238v1M109.5 238v1M110.5 237v1M111.5 236v1M112.5 235v1M113.5 234v1M114.5 233v1M115.5 232v1M116.5 231v1M117.5 230v1M118.5 229v1M119.5 228v1M120.5 226v2M121.5 225v1M122.5 224v1M123.5 224v1M124.5 223v1M125.5 222v1M126.5 222v1M127.5 222v1M128.5 222v1M129.5 222v1M130.5 222v1M131.5 222v1M132.5 222v1M133.5 221v1M134.5 221v1M135.5 220v1M136.5 219v1M137.5 219v1M138.5 218v1M139.5 218v1M140.5 218v1M141.5 219v1M142.5 219v1M143.5 220v1M144.5 221v1M145.5 222v1M146.5 223v1M147.5 224v2M148.5 226v2M149.5 228v2M150.5 230v1M151.5 231v2M152.5 233v1M153.5 234v2M154.5 236v1M155.5 237v1M156.5 238v2M157.5 240v1M158.5 241v1M159.5 242v2M160.5 244v2M161.5 246v2M162.5 248v1M163.5 249v1M164.5 250v2M165.5 252v1M166.5 253v1M167.5 254v1M168.5 255v1M169.5 255v1M170.5 256v1M171.5 257v2M172.5 259v1M173.5 260v2M174.5 262v1M175.5 263v2M176.5 265v1M177.5 266v2M178.5 268v1M179.5 268v1M180.5 269v1M181.5 270v1M182.5 270v1M183.5 270v1M184.5 271v1M185.5 272v1M186.5 272v1M187.5 273v1M188.5 274v1M189.5 274v1M190.5 275v1M191.5 276v1M192.5 277v1M193.5 277v1M194.5 278v1M195.5 278v1M196.5 278v1M197.5 277v1M198.5 277v1M199.5 277v1M200.5 276v1M201.5 275v1M202.5 275v1M203.5 274v1M204.5 272v2M205.5 271v1M206.5 270v1M207.5 269v1M208.5 268v1M209.5 267v1M210.5 266v1M211.5 265v1M212.5 264v1M213.5 264v1M214.5 263v1M215.5 263v1M216.5 262v1M217.5 261v1M218.5 261v1M219.5 261v1M220.5 261v1M221.5 262v1M222.5 262v1M223.5 263v1M224.5 264v1M225.5 265v1M226.5 266v1M227.5 266v1M228.5 267v1M229.5 268v1M230.5 268v1M231.5 268v1M232.5 268v1M233.5 269v1M234.5 269v1M235.5 269v1M236.5 270v1M237.5 271v1M238.5 271v1M239.5 271v1M240.5 272v1M241.5 273v1M242.5 273v1M243.5 273v1M244.5 273v1M245.5 273v1M246.5 273v1M247.5 273v1M248.5 273v1M249.5 274v1M250.5 274v1M251.5 274v1M252.5 274v1M253.5 275v1M254.5 275v1M255.5 275v1M256.5 276v1M257.5 277v1M258.5 277v1M259.5 278v1M260.5 279v1M261.5 279v1M262.5 280v1M263.5 281v1M264.5 282v2M265.5 284v1M266.5 285v1M267.5 286v1M268.5 287v1M269.5 288v1M270.5 289v1M271.5 290v1M272.5 291v1M273.5 291v1M274.5 292v1M275.5 292v1M276.5 292v1M277.5 292v1M278.5 292v1M279.5 292v1M280.5 291v1M281.5 290v1M282.5 290v1M283.5 289v1M284.5 288v1M285.5 287v1M286.5 286v1M287.5 285v1M288.5 284v1M289.5 283v1M290.5 282v1M291.5 280v2M292.5 278v2M293.5 276v2M294.5 274v2M295.5 272v2M296.5 270v2M297.5 268v2M298.5 265v3M299.5 263v2M300.5 261v2M301.5 259v2M302.5 257v2M303.5 255v2M304.5 254v1M305.5 252v2M306.5 251v1M307.5 250v1M308.5 248v2M309.5 247v1M310.5 246v1M311.5 244v2M312.5 243v1M313.5 241v2M314.5 240v1M315.5 239v1M316.5 237v2M317.5 236v1M318.5 235v1M319.5 234v1M320.5 232v2M321.5 231v1M322.5 230v1M323.5 229v1M324.5 228v1M325.5 228v1M326.5 227v1M327.5 226v1M328.5 224v2M329.5 223v1M330.5 222v1M331.5 222v1M332.5 222v1M333.5 221v1M334.5 221v1M335.5 221v1M336.5 221v1M337.5 221v1M338.5 221v1M339.5 220v1M340.5 219v1M341.5 219v1M342.5 218v1M343.5 217v1M344.5 216v1M345.5 215v1M346.5 214v1M347.5 213v1M348.5 212v1M349.5 211v1M350.5 210v1M351.5 209v1M352.5 208v1M353.5 207v1M354.5 206v1M355.5 206v1M356.5 205v1M357.5 204v1M358.5 204v1M359.5 203v1M360.5 202v1M361.5 201v1M362.5 200v1M363.5 199v1M364.5 198v1M365.5 198v1M366.5 197v1M367.5 196v1M368.5 195v1M369.5 194v1M370.5 193v1M371.5 192v1M372.5 190v2M373.5 189v1M374.5 188v1M375.5 187v1M376.5 185v2M377.5 184v1M378.5 183v1M379.5 182v1M380.5 180v2M381.5 179v1M382.5 178v1M383.5 178v1M384.5 177v1M385.5 176v1M386.5 176v1M387.5 175v1M388.5 173v2M389.5 172v1M390.5 171v1M391.5 171v1M392.5 171v1M393.5 171v1M394.5 171v1M395.5 172v1M396.5 173v1M397.5 173v1M398.5 174v1M399.5 175v2M400.5 177v2M401.5 179v2M402.5 181v2M403.5 183v1M404.5 184v3M405.5 187v1M406.5 188v2M407.5 190v2M408.5 192v2M409.5 194v2M410.5 196v1M411.5 197v2M412.5 199v1M413.5 200v2M414.5 202v2M415.5 204v1M416.5 205v3M417.5 208v1M418.5 209v2M419.5 211v1M420.5 212v2M421.5 214v1M422.5 215v1M423.5 216v2M424.5 218v1M425.5 219v2M426.5 221v2M427.5 223v2M428.5 225v2M429.5 227v2M430.5 229v2M431.5 231v1M432.5 232v1M433.5 233v1M434.5 234v1M435.5 235v1M436.5 236v1M437.5 237v1M438.5 238v1M439.5 238v1M440.5 239v1M441.5 240v1M442.5 240v1M443.5 241v1M444.5 242v1M445.5 243v1M446.5 244v1M447.5 244v1M448.5 244v1M449.5 244v1M450.5 244v1M451.5 245v1M452.5 246v1M453.5 246v1M454.5 247v1M455.5 248v1M456.5 249v1M457.5 250v1M458.5 251v1M459.5 252v1M460.5 253v1M461.5 253v1M462.5 254v1M463.5 255v2M464.5 257v2M465.5 259v2M466.5 261v1M467.5 262v2M468.5 264v2M469.5 266v2M470.5 268v1M471.5 269v2M472.5 271v1M473.5 272v2M474.5 274v1M475.5 275v2M476.5 277v1M477.5 278v2M478.5 280v1M479.5 281v2M480.5 283v2M481.5 285v2M482.5 287v2M483.5 289v1M484.5 290v3M485.5 293v1M486.5 294v2M487.5 296v2M488.5 298v1M489.5 299v2M490.5 301v1M491.5 302v2M492.5 304v1M493.5 305v2M494.5 307v1M495.5 307v1M496.5 307v1M497.5 308v1M498.5 308v1M499.5 308v1M500.5 308v1M501.5 309v1M502.5 309v1M503.5 309v1M504.5 309v1M505.5 308v1M506.5 308v1M507.5 307v1M508.5 306v1M509.5 306v1M510.5 305v1M511.5 304v1M512.5 303v1M513.5 302v1M514.5 301v1M515.5 301v1M516.5 300v1M517.5 299v1M518.5 299v1M519.5 298v1M520.5 296v2M521.5 295v1M522.5 294v1M523.5 293v1M524.5 292v1M525.5 292v1M526.5 291v1M527.5 291v1M528.5 291v1M529.5 291v1M530.5 291v1M531.5 292v1M532.5 293v1M533.5 293v1M534.5 294v1M535.5 294v1M536.5 295v1M537.5 296v1M538.5 296v1M539.5 296v1M540.5 295v1M541.5 294v1M542.5 294v1M543.5 294v1M544.5 294v1M545.5 295v1M546.5 295v1M547.5 295v1M548.5 295v1M549.5 296v1M550.5 296v1M551.5 297v1M552.5 298v2M553.5 300v1M554.5 301v1M555.5 302v2M556.5 304v1M557.5 305v2M558.5 307v1M559.5 308v1M560.5 309v2M561.5 311v1M562.5 312v1M563.5 313v1M564.5 314v1M565.5 314v1M566.5 315v1M567.5 316v2M568.5 318v1M569.5 319v2M570.5 321v1M571.5 322v2M572.5 324v1M573.5 325v2M574.5 327v1M575.5 328v2M576.5 330v2M577.5 332v2M578.5 334v1M579.5 335v2M580.5 337v1M581.5 338v2M582.5 340v2M583.5 342v1M584.5 343v3M585.5 346v1M586.5 347v2M587.5 349v2M588.5 351v1M589.5 352v2M590.5 354v1M591.5 355v2M592.5 357v2M593.5 359v2M594.5 361v1M595.5 362v2M596.5 364v1M597.5 365v2M598.5 367v1M599.5 368v1M600.5 369v1M601.5 370v1M602.5 371v1M603.5 372v1M604.5 373v1M605.5 373v1M606.5 374v1M607.5 375v1M608.5 376v1M609.5 376v1M610.5 377v1M611.5 378v1M612.5 379v1M613.5 379v1M614.5 380v1M615.5 381v1M616.5 382v2M617.5 384v1M618.5 385v1M619.5 386v1M620.5 387v2M621.5 389v1M622.5 390v1M623.5 391v2M624.5 393v1M625.5 394v2M626.5 396v1M627.5 396v1M628.5 396v1M629.5 397v1M630.5 397v1M631.5 397v1M632.5 397v1M633.5 397v1M634.5 397v1M635.5 397v1M636.5 397v1M637.5 397v1M638.5 397v1M639.5 397v1M640.5 397v1M641.5 396v1M642.5 396v1M643.5 395v1M644.5 393v2M645.5 392v1M646.5 391v1M647.5 390v1M648.5 388v2M649.5 387v1M650.5 386v1M651.5 385v1M652.5 384v1M653.5 383v1M654.5 382v1M655.5 382v1M656.5 382v1M657.5 383v1M658.5 383v1M659.5 383v1M660.5 384v1M661.5 385v1M662.5 385v1M663.5 385v1M664.5 386v1M665.5 387v1M666.5 387v1M667.5 387v1M668.5 387v1M669.5 388v1M670.5 388v1M671.5 389v2M672.5 391v1M673.5 392v2M674.5 394v1M675.5 395v1M676.5 396v2M677.5 398v1M678.5 399v1M679.5 400v1M680.5 401v1M681.5 401v1M682.5 402v2M683.5 404v1M684.5 405v3M685.5 408v1M686.5 409v3M687.5 412v1M688.5 413v3M689.5 416v1M690.5 417v3M691.5 420v1M692.5 421v3M693.5 424v1M694.5 425v2M695.5 426v1M696.5 427v1M697.5 428v1M698.5 428v1M699.5 429v1M700.5 430v1M701.5 431v1M702.5 432v1M703.5 433v1M704.5 434v2M705.5 436v1M706.5 437v1M707.5 438v1M708.5 439v1M709.5 439v1M710.5 440v1M711.5 440v1M712.5 440v1M713.5 441v1M714.5 441v1M715.5 442v1M716.5 443v1M717.5 444v1M718.5 445v1M719.5 445v1M720.5 445v1M721.5 445v1M722.5 445v1M723.5 445v1M724.5 445v1M725.5 445v1M726.5 445v1M727.5 444v1M728.5 442v2M729.5 441v1M730.5 440v1M731.5 438v2M732.5 437v1M733.5 435v2M734.5 434v1M735.5 433v1M736.5 432v1M737.5 431v1M738.5 430v1M739.5 429v1M740.5 427v2M741.5 426v1M742.5 424v2M743.5 422v2M744.5 420v2M745.5 418v2M746.5 415v3M747.5 413v2M748.5 410v3M749.5 408v2M750.5 405v3M751.5 402v3M752.5 400v2M753.5 397v3M754.5 394v3M755.5 392v2M756.5 390v2M757.5 388v2M758.5 385v3M759.5 383v2M760.5 381v2M761.5 379v2M762.5 376v3M763.5 375v1M764.5 372v3M765.5 371v1M766.5 369v2M767.5 367v2M768.5 365v2M769.5 363v2M770.5 361v2M771.5 360v1M772.5 357v3M773.5 356v1M774.5 354v2M775.5 353v1M776.5 351v2M777.5 350v1M778.5 349v1M779.5 348v1M780.5 347v1M781.5 346v1M782.5 345v1M783.5 345v1M784.5 344v1M785.5 343v1M786.5 343v1M787.5 342v1M788.5 341v1M789.5 340v1M790.5 339v1M791.5 338v1M792.5 336v2M793.5 335v1M794.5 334v1M795.5 332v2M796.5 331v1M797.5 329v2M798.5 328v1M799.5 327v1M800.5 325v2M801.5 324v1M802.5 323v1M803.5 323v1M804.5 322v1M805.5 321v1M806.5 321v1M807.5 321v1M808.5 321v1M809.5 321v1M810.5 321v1M811.5 322v1M812.5 323v1M813.5 324v1M814.5 325v1M815.5 326v1M816.5 327v1M817.5 328v1M818.5 329v1M819.5 330v1M820.5 331v2M821.5 333v1M822.5 334v1M823.5 335v1M824.5 336v2M825.5 338v1M826.5 339v1M827.5 340v1M828.5 341v1M829.5 342v1M830.5 343v1M831.5 343v1M832.5 344v1M833.5 345v1M834.5 345v1M835.5 346v1M836.5 347v1M837.5 348v1M838.5 349v1M839.5 350v1M840.5 351v1M841.5 352v1M842.5 353v1M843.5 354v2M844.5 356v1M845.5 357v2M846.5 359v1M847.5 360v1M848.5 361v1M849.5 362v1M850.5 363v1M851.5 364v1M852.5 365v2M853.5 367v1M854.5 368v1M855.5 369v1M856.5 370v2M857.5 372v1M858.5 373v1M859.5 374v1M860.5 375v1M861.5 376v1M862.5 377v1M863.5 378v1M864.5 379v2M865.5 381v1M866.5 382v1M867.5 382v1M868.5 382v1M869.5 382v1M870.5 382v1M871.5 382v1M872.5 383v1M873.5 384v1M874.5 384v1M875.5 384v1M876.5 384v1M877.5 385v1M878.5 385v1M879.5 385v1M880.5 385v1M881.5 385v1M882.5 385v1M883.5 385v1M884.5 385v1M885.5 386v1M886.5 386v1M887.5 386v1M888.5 387v1M889.5 388v1M890.5 388v1M891.5 388v1M892.5 388v1M893.5 388v1M894.5 388v1M895.5 388v1M896.5 388v1M897.5 387v1M898.5 387v1M899.5 387v1M900.5 387v1M901.5 386v1M902.5 386v1M903.5 386v1M904.5 386v1M905.5 385v1M906.5 385v1M907.5 385v1M908.5 385v1M909.5 384v1M910.5 384v1M911.5 384v1M912.5 384v1M913.5 384v1M914.5 384v1M915.5 384v1M916.5 384v1M917.5 383v1M918.5 383v1M919.5 383v1M920.5 383v1M921.5 384v1M922.5 384v1M923.5 384v1M924.5 384v1M925.5 385v1M926.5 385v1M927.5 385v1M928.5 384v1M929.5 383v1M930.5 383v1M931.5 382v1M932.5 381v1M933.5 381v1M934.5 380v1M935.5 379v1M936.5 378v1M937.5 377v1M938.5 376v1M939.5 374v2M940.5 373v1M941.5 371v2M942.5 370v1M943.5 368v2M944.5 366v2M945.5 364v2M946.5 363v1M947.5 361v2M948.5 360v1M949.5 358v2M950.5 357v1M951.5 355v2M952.5 354v1M953.5 352v2M954.5 351v1M955.5 349v2M956.5 347v2M957.5 345v2M958.5 344v1M959.5 343v1M960.5 342v1M961.5 342v1M962.5 341v1M963.5 341v1M964.5 341v1M965.5 340v1M966.5 340v1M967.5 340v1M968.5 340v1M969.5 340v1M970.5 340v1M971.5 340v1M972.5 340v1M973.5 341v1M974.5 341v1M975.5 341v1M976.5 340v1M977.5 339v1M978.5 339v1M979.5 339v1M980.5 338v1M981.5 337v1M982.5 337v1M983.5 337v1M984.5 337v1M985.5 337v1M986.5 337v1M987.5 337v1M988.5 337v1M989.5 336v1M990.5 336v1M991.5 335v1M992.5 334v1M993.5 333v1M994.5 332v1M995.5 331v1M996.5 330v1M997.5 329v1M998.5 328v1M999.5 327v1M1000.5 326v1M1001.5 326v1M1002.5 325v1M1003.5 324v1M1004.5 322v2M1005.5 321v1M1006.5 320v1M1007.5 319v1M1008.5 317v2M1009.5 316v1M1010.5 315v1M1011.5 315v1M1012.5 314v1M1013.5 313v1M1014.5 313v1M1015.5 313v1M1016.5 312v1M1017.5 311v1M1018.5 311v1M1019.5 310v1M1020.5 309v1M1021.5 309v1M1022.5 308v1M1023.5 307v1M1024.5 305v2M1025.5 304v1M1026.5 303v1M1027.5 302v1M1028.5 301v1M1029.5 300v1M1030.5 299v1M1031.5 299v1M1032.5 298v1M1033.5 297v1M1034.5 297v1M1035.5 297v1M1036.5 297v1M1037.5 297v1M1038.5 297v1M1039.5 297v1M1040.5 296v1M1041.5 295v1M1042.5 295v1M1043.5 295v1M1044.5 295v1M1045.5 294v1M1046.5 294v1M1047.5 294v1M1048.5 295v1M1049.5 296v1M1050.5 296v1M1051.5 297v1M1052.5 298v1M1053.5 298v1M1054.5 299v1M1055.5 299v1M1056.5 300v1M1057.5 301v1M1058.5 301v1M1059.5 302v1M1060.5 303v2M1061.5 305v1M1062.5 306v1M1063.5 307v2M1064.5 309v1M1065.5 310v2M1066.5 312v1M1067.5 313v2M1068.5 315v1M1069.5 316v2M1070.5 318v1M1071.5 319v1M1072.5 320v1M1073.5 321v1M1074.5 322v1M1075.5 323v1M1076.5 324v1M1077.5 325v1M1078.5 326v1M1079.5 327v2M1080.5 329v1M1081.5 330v2M1082.5 332v1M1083.5 333v1M1084.5 334v2M1085.5 336v1M1086.5 337v1M1087.5 338v1M1088.5 339v2M1089.5 341v1M1090.5 342v1M1091.5 343v1M1092.5 344v1M1093.5 344v1M1094.5 345v1M1095.5 346v2M1096.5 348v1M1097.5 349v2M1098.5 351v1M1099.5 352v2M1100.5 354v1M1101.5 355v2M1102.5 357v1M1103.5 358v2M1104.5 360v2M1105.5 362v2M1106.5 364v1M1107.5 365v1M1108.5 366v1M1109.5 367v1M1110.5 368v1M1111.5 369v1M1112.5 370v1M1113.5 371v1M1114.5 372v1M1115.5 373v1M1116.5 374v1M1117.5 374v1M1118.5 375v1M1119.5 375v1M1120.5 376v1M1121.5 377v1M1122.5 377v1M1123.5 378v1M1124.5 379v1M1125.5 379v1M1126.5 380v1M1127.5 381v1M1128.5 382v1M1129.5 383v1M1130.5 384v1M1131.5 385v2M1132.5 387v1M1133.5 388v2M1134.5 390v1M1135.5 391v2M1136.5 393v1M1137.5 394v2M1138.5 396v1M1139.5 397v1M1140.5 398v2M1141.5 400v1M1142.5 401v1M1143.5 402v1M1144.5 403v2M1145.5 405v1M1146.5 406v1M1147.5 407v2M1148.5 409v1M1149.5 410v2M1150.5 412v1M1151.5 413v2M1152.5 415v1M1153.5 416v2M1154.5 418v2M1155.5 420v1M1156.5 421v3M1157.5 424v1M1158.5 425v3M1159.5 428v2M1160.5 430v2M1161.5 432v2M1162.5 434v3M1163.5 437v2M1164.5 439v3M1165.5 442v2M1166.5 444v3M1167.5 447v3M1168.5 450v4M1169.5 454v3M1170.5 457v3M1171.5 460v4M1172.5 464v3M1173.5 467v4M1174.5 471v3M1175.5 474v4M1176.5 478v3M1177.5 481v4M1178.5 485v3M1179.5 488v3M1180.5 491v3M1181.5 494v3M1182.5 497v3M1183.5 500v1M1184.5 501v3M1185.5 504v1M1186.5 505v2M1187.5 507v2M1188.5 509v1M1189.5 510v2M1190.5 512v1M1191.5 513v2M1192.5 515v1M1193.5 516v2M1194.5 518v1M1195.5 519v1M1196.5 520v1M1197.5 521v1M1198.5 522v1M1199.5 523v1M1200.5 524v1M1201.5 524v1M1202.5 525v1M1203.5 524v1M1204.5 523v1M1205.5 522v1M1206.5 521v1M1207.5 520v1M1208.5 519v1M1209.5 518v1M1210.5 516v2M1211.5 514v2M1212.5 511v3M1213.5 509v2M1214.5 506v3M1215.5 502v4M1216.5 498v4M1217.5 494v4M1218.5 490v4M1219.5 486v4M1220.5 481v5M1221.5 477v4M1222.5 472v5M1223.5 469v3M1224.5 464v5M1225.5 461v3M1226.5 456v5M1227.5 451v5M1228.5 447v4M1229.5 442v5M1230.5 436v6M1231.5 429v7M1232.5 423v6M1233.5 416v7M1234.5 409v7M1235.5 402v7M1236.5 396v6M1237.5 389v7M1238.5 382v7M1239.5 375v7M1240.5 367v8M1241.5 360v7M1242.5 353v7M1243.5 347v6M1244.5 340v7M1245.5 334v6M1246.5 328v6M1247.5 322v6M1248.5 317v5M1249.5 311v6M1250.5 307v4M1251.5 304v3M1252.5 302v2M1253.5 299v3M1254.5 296v3M1255.5 293v3M1256.5 291v2M1257.5 288v3M1258.5 286v2M1259.5 285v1M1260.5 284v1M1261.5 283v1M1262.5 281v2M1263.5 279v2M1264.5 277v2M1265.5 275v2M1266.5 273v2M1267.5 271v2M1268.5 269v2M1269.5 267v2M1270.5 266v1" fill="none" stroke="#ff0000" stroke-width="1"/>
<path d="M6.5 216v2M7.5 213v3M8.5 210v3M9.5 207v3M10.5 204v3M11.5 202v2M12.5 200v2M13.5 198v2M14.5 195v3M15.5 193v2M16.5 190v3M17.5 188v2M18.5 185v3M19.5 183v2M20.5 180v3M21.5 178v2M22.5 176v2M23.5 174v2M24.5 172v2M25.5 170v2M26.5 169v1M27.5 168v1M28.5 166v2M29.5 165v1M30.5 164v1M31.5 165v1M32.5 166v2M33.5 168v1M34.5 169v1M35.5 170v2M36.5 172v1M37.5 173v2M38.5 175v1M39.5 176v1M40.5 177v1M41.5 178v1M42.5 179v2M43.5 181v3M44.5 184v2M45.5 186v3M46.5 189v4M47.5 193v3M48.5 196v5M49.5 201v3M50.5 204v3M51.5 207v2M52.5 209v2M53.5 211v2M54.5 213v2M55.5 215v2M56.5 217v2M57.5 219v2M58.5 221v4M59.5 225v3M60.5 228v5M61.5 233v3M62.5 236v4M63.5 240v2M64.5 242v3M65.5 245v2M66.5 247v3M67.5 250v2M68.5 252v2M69.5 254v2M70.5 256v2M71.5 257v1M72.5 257v1M73.5 257v1M74.5 257v1M75.5 257v1M76.5 258v1M77.5 259v1M78.5 259v1M79.5 259v1M80.5 259v1M81.5 258v1M82.5 258v1M83.5 258v1M84.5 258v1M85.5 257v1M86.5 256v2M87.5 253v3M88.5 251v2M89.5 248v3M90.5 246v2M91.5 244v2M92.5 243v1M93.5 241v2M94.5 240v1M95.5 238v2M96.5 236v2M97.5 234v2M98.5 233v1M99.5 231v2M100.5 229v2M101.5 227v2M102.5 225v2M103.5 222v3M104.5 219v3M105.5 216v3M106.5 214v2M107.5 213v1M108.5 211v2M109.5 210v1M110.5 209v1M111.5 208v1M112.5 207v1M113.5 206v1M114.5 205v1M115.5 204v1M116.5 203v1M117.5 202v1M118.5 201v1M119.5 200v1M120.5 198v2M121.5 197v1M122.5 196v2M123.5 198v2M124.5 200v2M125.5 202v2M126.5 204v3M127.5 207v2M128.5 209v3M129.5 212v2M130.5 214v3M131.5 217v2M132.5 219v2M133.5 221v2M134.5 223v2M135.5 225v1M136.5 226v2M137.5 228v1M138.5 229v2M139.5 231v3M140.5 234v3M141.5 237v3M142.5 240v3M143.5 243v1M144.5 244v3M145.5 247v1M146.5 248v3M147.5 251v3M148.5 254v4M149.5 258v3M150.5 261v3M151.5 264v3M152.5 267v4M153.5 271v3M154.5 274v3M155.5 277v4M156.5 281v4M157.5 285v4M158.5 289v2M159.5 291v2M160.5 293v2M161.5 295v2M162.5 297v1M163.5 297v1M164.5 296v1M165.5 295v1M166.5 294v2M167.5 290v4M168.5 286v4M169.5 282v4M170.5 280v2M171.5 279v1M172.5 277v2M173.5 276v1M174.5 275v1M175.5 274v1M176.5 272v2M177.5 271v1M178.5 270v1M179.5 269v1M180.5 268v1M181.5 267v1M182.5 266v1M183.5 266v1M184.5 266v1M185.5 267v1M186.5 267v2M187.5 269v2M188.5 271v3M189.5 274v2M190.5 276v2M191.5 276v1M192.5 275v1M193.5 275v1M194.5 274v1M195.5 272v2M196.5 271v1M197.5 269v2M198.5 268v1M199.5 266v2M200.5 264v2M201.5 262v2M202.5 261v1M203.5 260v1M204.5 258v2M205.5 257v1M206.5 255v2M207.5 254v1M208.5 251v3M209.5 250v1M210.5 248v2M211.5 248v1M212.5 248v1M213.5 248v1M214.5 248v1M215.5 249v1M216.5 250v1M217.5 250v1M218.5 251v2M219.5 253v2M220.5 255v2M221.5 257v2M222.5 259v3M223.5 262v2M224.5 264v3M225.5 267v2M226.5 269v3M227.5 272v3M228.5 275v2M229.5 277v3M230.5 280v2M231.5 282v1M232.5 283v2M233.5 285v1M234.5 286v1M235.5 287v2M236.5 289v2M237.5 291v2M238.5 293v1M239.5 294v1M240.5 295v1M241.5 295v1M242.5 296v1M243.5 296v1M244.5 296v1M245.5 295v1M246.5 295v1M247.5 294v1M248.5 292v2M249.5 291v1M250.5 290v1M251.5 288v2M252.5 287v1M253.5 285v2M254.5 284v1M255.5 283v1M256.5 281v2M257.5 280v1M258.5 279v1M259.5 278v1M260.5 277v1M261.5 277v1M262.5 276v1M263.5 277v2M264.5 279v1M265.5 280v2M266.5 282v2M267.5 284v1M268.5 285v3M269.5 288v1M270.5 289v3M271.5 292v2M272.5 294v2M273.5 296v2M274.5 298v2M275.5 300v1M276.5 301v1M277.5 301v1M278.5 302v1M279.5 301v1M280.5 300v1M281.5 299v1M282.5 297v2M283.5 293v4M284.5 289v4M285.5 285v4M286.5 281v4M287.5 278v3M288.5 273v5M289.5 270v3M290.5 265v5M291.5 260v5M292.5 254v6M293.5 249v5M294.5 244v5M295.5 238v6M296.5 233v5M297.5 227v6M298.5 222v5M299.5 217v5M300.5 212v5M301.5 207v5M302.5 203v4M303.5 201v2M304.5 198v3M305.5 196v2M306.5 193v3M307.5 190v3M308.5 188v2M309.5 185v3M310.5 183v2M311.5 183v1M312.5 182v1M313.5 181v1M314.5 181v1M315.5 182v2M316.5 184v2M317.5 186v2M318.5 188v3M319.5 191v4M320.5 195v5M321.5 200v4M322.5 204v4M323.5 208v4M324.5 212v4M325.5 216v4M326.5 220v3M327.5 223v3M328.5 226v3M329.5 229v3M330.5 232v4M331.5 236v4M332.5 240v4M333.5 244v4M334.5 248v4M335.5 252v2M336.5 254v2M337.5 256v2M338.5 258v2M339.5 256v2M340.5 253v3M341.5 251v2M342.5 247v4M343.5 243v4M344.5 238v5M345.5 234v4M346.5 229v5M347.5 224v5M348.5 219v5M349.5 214v5M350.5 208v6M351.5 201v7M352.5 194v7M353.5 187v7M354.5 180v7M355.5 174v6M356.5 168v6M357.5 162v6M358.5 156v6M359.5 153v3M360.5 148v5M361.5 145v3M362.5 142v3M363.5 140v2M364.5 139v1M365.5 137v2M366.5 136v1M367.5 136v1M368.5 136v1M369.5 135v1M370.5 135v1M371.5 135v1M372.5 135v1M373.5 136v1M374.5 136v2M375.5 138v3M376.5 141v3M377.5 144v3M378.5 147v3M379.5 150v3M380.5 153v4M381.5 157v3M382.5 160v3M383.5 163v4M384.5 167v3M385.5 170v4M386.5 174v3M387.5 177v3M388.5 180v4M389.5 184v3M390.5 187v5M391.5 192v5M392.5 197v7M393.5 204v5M394.5 209v5M395.5 214v3M396.5 217v4M397.5 221v3M398.5 224v3M399.5 227v3M400.5 230v4M401.5 234v3M402.5 237v3M403.5 240v2M404.5 242v3M405.5 245v2M406.5 247v2M407.5 249v1M408.5 250v1M409.5 250v1M410.5 251v1M411.5 249v2M412.5 248v1M413.5 246v2M414.5 245v1M415.5 244v1M416.5 242v2M417.5 241v1M418.5 239v2M419.5 237v2M420.5 235v2M421.5 233v2M422.5 231v2M423.5 229v2M424.5 227v2M425.5 225v2M426.5 224v1M427.5 225v2M428.5 227v2M429.5 229v2M430.5 231v1M431.5 232v1M432.5 233v1M433.5 234v1M434.5 235v1M435.5 236v1M436.5 237v1M437.5 238v1M438.5 239v1M439.5 240v2M440.5 242v2M441.5 244v2M442.5 246v1M443.5 247v2M444.5 249v1M445.5 250v2M446.5 252v1M447.5 252v1M448.5 252v1M449.5 252v1M450.5 252v2M451.5 254v3M452.5 257v2M453.5 259v3M454.5 262v3M455.5 265v3M456.5 268v3M457.5 271v3M458.5 274v3M459.5 277v2M460.5 279v3M461.5 282v2M462.5 284v3M463.5 287v4M464.5 291v3M465.5 294v4M466.5 298v3M467.5 301v3M468.5 304v4M469.5 308v3M470.5 311v2M471.5 312v1M472.5 313v1M473.5 314v1M474.5 314v1M475.5 314v1M476.5 314v1M477.5 313v1M478.5 313v1M479.5 314v1M480.5 315v1M481.5 316v1M482.5 317v2M483.5 319v2M484.5 321v2M485.5 323v2M486.5 325v2M487.5 326v1M488.5 327v1M489.5 328v1M490.5 328v1M491.5 329v1M492.5 330v1M493.5 331v1M494.5 332v1M495.5 330v2M496.5 328v2M497.5 326v2M498.5 324v2M499.5 322v2M500.5 319v3M501.5 317v2M502.5 312v5M503.5 306v6M504.5 299v7M505.5 293v6M506.5 288v5M507.5 284v4M508.5 281v3M509.5 277v4M510.5 273v4M511.5 270v3M512.5 265v5M513.5 262v3M514.5 259v3M515.5 259v1M516.5 259v1M517.5 258v1M518.5 258v1M519.5 258v1M520.5 258v1M521.5 257v1M522.5 257v1M523.5 258v2M524.5 260v2M525.5 262v2M526.5 264v2M527.5 266v2M528.5 268v3M529.5 271v2M530.5 273v4M531.5 277v4M532.5 281v5M533.5 286v4M534.5 290v5M535.5 295v4M536.5 299v5M537.5 304v4M538.5 308v5M539.5 313v3M540.5 316v5M541.5 321v3M542.5 324v4M543.5 328v3M544.5 331v4M545.5 335v3M546.5 338v2M547.5 340v2M548.5 342v2M549.5 344v2M550.5 346v1M551.5 346v1M552.5 346v1M553.5 346v1M554.5 346v1M555.5 346v1M556.5 346v1M557.5 346v1M558.5 346v1M559.5 344v2M560.5 342v2M561.5 340v2M562.5 339v1M563.5 337v2M564.5 335v2M565.5 333v2M566.5 332v1M567.5 332v1M568.5 331v1M569.5 330v1M570.5 330v1M571.5 330v1M572.5 330v1M573.5 330v1M574.5 330v1M575.5 330v1M576.5 330v1M577.5 331v1M578.5 331v2M579.5 333v3M580.5 336v4M581.5 340v3M582.5 343v4M583.5 347v6M584.5 353v5M585.5 358v6M586.5 364v5M587.5 369v5M588.5 374v4M589.5 378v5M590.5 383v5M591.5 388v5M592.5 393v4M593.5 397v5M594.5 402v5M595.5 407v4M596.5 411v4M597.5 415v4M598.5 419v3M599.5 422v1M600.5 423v2M601.5 425v1M602.5 426v1M603.5 424v2M604.5 422v2M605.5 420v2M606.5 418v2M607.5 416v2M608.5 413v3M609.5 411v2M610.5 408v3M611.5 406v2M612.5 404v2M613.5 402v2M614.5 399v3M615.5 396v3M616.5 392v4M617.5 389v3M618.5 387v2M619.5 387v1M620.5 386v1M621.5 385v1M622.5 385v1M623.5 386v1M624.5 387v2M625.5 389v1M626.5 390v1M627.5 389v1M628.5 387v2M629.5 386v1M630.5 385v1M631.5 383v2M632.5 382v1M633.5 380v2M634.5 379v1M635.5 379v1M636.5 378v1M637.5 377v1M638.5 377v1M639.5 378v1M640.5 379v2M641.5 381v1M642.5 381v2M643.5 379v2M644.5 377v2M645.5 375v2M646.5 373v2M647.5 373v1M648.5 374v1M649.5 375v1M650.5 375v1M651.5 376v1M652.5 377v2M653.5 379v1M654.5 380v2M655.5 382v2M656.5 384v2M657.5 386v2M658.5 388v2M659.5 389v1M660.5 388v1M661.5 387v1M662.5 387v2M663.5 389v3M664.5 392v2M665.5 394v3M666.5 397v2M667.5 399v2M668.5 401v2M669.5 403v2M670.5 405v2M671.5 407v4M672.5 411v4M673.5 415v4M674.5 419v3M675.5 422v2M676.5 424v2M677.5 426v2M678.5 428v3M679.5 431v3M680.5 434v2M681.5 436v3M682.5 439v3M683.5 442v1M684.5 443v3M685.5 446v1M686.5 447v3M687.5 450v4M688.5 454v4M689.5 458v4M690.5 462v2M691.5 463v1M692.5 464v1M693.5 465v1M694.5 465v1M695.5 465v1M696.5 465v1M697.5 464v1M698.5 464v1M699.5 462v2M700.5 460v2M701.5 458v2M702.5 457v1M703.5 456v1M704.5 454v2M705.5 453v1M706.5 451v2M707.5 448v3M708.5 445v3M709.5 442v3M710.5 439v3M711.5 438v1M712.5 435v3M713.5 434v1M714.5 432v2M715.5 432v1M716.5 432v1M717.5 432v1M718.5 432v1M719.5 432v1M720.5 433v1M721.5 434v1M722.5 434v1M723.5 432v2M724.5 431v1M725.5 429v2M726.5 427v2M727.5 426v1M728.5 423v3M729.5 422v1M730.5 419v3M731.5 417v2M732.5 415v2M733.5 413v2M734.5 410v3M735.5 407v3M736.5 404v3M737.5 401v3M738.5 398v3M739.5 397v1M740.5 394v3M741.5 393v1M742.5 390v3M743.5 388v2M744.5 386v2M745.5 384v2M746.5 381v3M747.5 378v3M748.5 374v4M749.5 371v3M750.5 367v4M751.5 364v3M752.5 359v5M753.5 356v3M754.5 351v5M755.5 346v5M756.5 341v5M757.5 336v5M758.5 331v5M759.5 328v3M760.5 323v5M761.5 320v3M762.5 316v4M763.5 314v2M764.5 312v2M765.5 310v2M766.5 308v2M767.5 308v1M768.5 309v1M769.5 310v1M770.5 310v2M771.5 312v1M772.5 313v3M773.5 316v1M774.5 317v3M775.5 320v3M776.5 323v3M777.5 326v3M778.5 329v3M779.5 332v2M780.5 334v2M781.5 336v2M782.5 338v2M783.5 340v2M784.5 342v2M785.5 344v2M786.5 346v1M787.5 346v1M788.5 346v1M789.5 346v1M790.5 346v1M791.5 345v1M792.5 344v1M793.5 344v1M794.5 342v2M795.5 339v3M796.5 337v2M797.5 334v3M798.5 331v3M799.5 328v3M800.5 324v4M801.5 321v3M802.5 318v3M803.5 315v3M804.5 313v2M805.5 310v3M806.5 308v2M807.5 306v2M808.5 305v1M809.5 303v2M810.5 302v1M811.5 303v2M812.5 305v2M813.5 307v2M814.5 309v2M815.5 311v3M816.5 314v3M817.5 317v3M818.5 320v4M819.5 324v5M820.5 329v4M821.5 333v5M822.5 338v5M823.5 343v5M824.5 348v5M825.5 353v5M826.5 358v5M827.5 363v5M828.5 368v5M829.5 373v5M830.5 378v3M831.5 381v2M832.5 383v1M833.5 384v2M834.5 386v2M835.5 388v2M836.5 390v2M837.5 392v2M838.5 394v2M839.5 396v1M840.5 397v2M841.5 399v1M842.5 400v1M843.5 401v1M844.5 402v1M845.5 402v1M846.5 403v1M847.5 402v1M848.5 401v1M849.5 400v1M850.5 399v1M851.5 398v1M852.5 397v1M853.5 397v1M854.5 395v2M855.5 393v2M856.5 390v3M857.5 388v2M858.5 385v3M859.5 383v2M860.5 380v3M861.5 378v2M862.5 375v3M863.5 373v2M864.5 370v3M865.5 368v2M866.5 366v2M867.5 365v1M868.5 364v1M869.5 363v1M870.5 362v1M871.5 363v1M872.5 364v1M873.5 364v1M874.5 365v2M875.5 367v1M876.5 368v3M877.5 371v1M878.5 372v3M879.5 375v2M880.5 377v3M881.5 380v2M882.5 382v3M883.5 385v1M884.5 386v3M885.5 389v1M886.5 390v3M887.5 393v3M888.5 396v3M889.5 399v3M890.5 402v2M891.5 404v1M892.5 405v1M893.5 406v1M894.5 407v1M895.5 407v1M896.5 407v1M897.5 407v1M898.5 407v1M899.5 407v1M900.5 407v1M901.5 406v1M902.5 405v2M903.5 403v2M904.5 401v2M905.5 399v2M906.5 396v3M907.5 393v3M908.5 390v3M909.5 387v3M910.5 384v3M911.5 381v3M912.5 378v3M913.5 375v3M914.5 372v3M915.5 370v2M916.5 367v3M917.5 365v2M918.5 363v2M919.5 362v1M920.5 360v2M921.5 359v1M922.5 358v1M923.5 359v1M924.5 360v1M925.5 360v1M926.5 361v1M927.5 361v1M928.5 361v1M929.5 362v1M930.5 362v1M931.5 362v1M932.5 362v1M933.5 362v1M934.5 362v1M935.5 362v1M936.5 362v1M937.5 363v1M938.5 362v2M939.5 360v2M940.5 358v2M941.5 356v2M942.5 353v3M943.5 350v3M944.5 347v3M945.5 344v3M946.5 342v2M947.5 340v2M948.5 338v2M949.5 336v2M950.5 335v1M951.5 333v2M952.5 331v2M953.5 329v2M954.5 327v2M955.5 325v2M956.5 322v3M957.5 320v2M958.5 318v2M959.5 318v1M960.5 317v1M961.5 316v1M962.5 316v1M963.5 317v1M964.5 318v1M965.5 318v1M966.5 319v1M967.5 320v1M968.5 321v2M969.5 323v1M970.5 324v2M971.5 326v2M972.5 328v3M973.5 331v2M974.5 333v3M975.5 336v2M976.5 338v3M977.5 341v2M978.5 343v2M979.5 345v1M980.5 346v2M981.5 348v1M982.5 349v1M983.5 350v1M984.5 351v2M985.5 353v1M986.5 354v1M987.5 354v1M988.5 353v1M989.5 352v1M990.5 351v2M991.5 348v3M992.5 344v4M993.5 341v3M994.5 338v3M995.5 334v4M996.5 330v4M997.5 326v4M998.5 322v4M999.5 319v3M1000.5 314v5M1001.5 311v3M1002.5 306v5M1003.5 301v5M1004.5 295v6M1005.5 290v5M1006.5 285v5M1007.5 281v4M1008.5 277v4M1009.5 273v4M1010.5 270v3M1011.5 268v2M1012.5 267v1M1013.5 265v2M1014.5 264v1M1015.5 265v1M1016.5 266v1M1017.5 266v1M1018.5 267v1M1019.5 268v1M1020.5 269v2M1021.5 271v1M1022.5 272v1M1023.5 273v1M1024.5 274v2M1025.5 276v1M1026.5 277v2M1027.5 279v3M1028.5 282v2M1029.5 284v3M1030.5 287v3M1031.5 290v3M1032.5 293v4M1033.5 297v3M1034.5 300v3M1035.5 303v1M1036.5 304v3M1037.5 307v1M1038.5 308v3M1039.5 311v1M1040.5 312v3M1041.5 315v1M1042.5 316v3M1043.5 319v2M1044.5 321v3M1045.5 324v2M1046.5 326v2M1047.5 327v1M1048.5 327v1M1049.5 328v1M1050.5 328v1M1051.5 328v1M1052.5 328v1M1053.5 328v1M1054.5 328v1M1055.5 326v2M1056.5 324v2M1057.5 322v2M1058.5 321v1M1059.5 320v1M1060.5 319v1M1061.5 318v1M1062.5 317v1M1063.5 318v1M1064.5 319v1M1065.5 319v1M1066.5 320v1M1067.5 321v2M1068.5 323v2M1069.5 325v2M1070.5 327v1M1071.5 328v2M1072.5 330v1M1073.5 331v2M1074.5 333v1M1075.5 334v2M1076.5 336v2M1077.5 338v2M1078.5 340v2M1079.5 342v2M1080.5 344v3M1081.5 347v2M1082.5 349v2M1083.5 351v2M1084.5 353v2M1085.5 355v2M1086.5 357v2M1087.5 359v2M1088.5 361v3M1089.5 364v2M1090.5 366v2M1091.5 368v2M1092.5 370v2M1093.5 372v2M1094.5 374v2M1095.5 376v3M1096.5 379v4M1097.5 383v3M1098.5 386v3M1099.5 389v3M1100.5 392v2M1101.5 394v3M1102.5 397v2M1103.5 399v2M1104.5 401v2M1105.5 403v2M1106.5 405v1M1107.5 405v1M1108.5 404v1M1109.5 403v1M1110.5 403v1M1111.5 401v2M1112.5 399v2M1113.5 397v2M1114.5 395v2M1115.5 392v3M1116.5 389v3M1117.5 386v3M1118.5 383v3M1119.5 382v1M1120.5 379v3M1121.5 378v1M1122.5 376v2M1123.5 375v1M1124.5 373v2M1125.5 372v1M1126.5 371v1M1127.5 372v1M1128.5 373v1M1129.5 374v1M1130.5 375v3M1131.5 378v3M1132.5 381v5M1133.5 386v3M1134.5 389v5M1135.5 394v4M1136.5 398v5M1137.5 403v4M1138.5 407v5M1139.5 412v3M1140.5 415v5M1141.5 420v3M1142.5 423v5M1143.5 428v4M1144.5 432v4M1145.5 436v4M1146.5 440v4M1147.5 444v3M1148.5 447v4M1149.5 451v3M1150.5 454v3M1151.5 457v3M1152.5 460v3M1153.5 463v3M1154.5 466v4M1155.5 470v4M1156.5 474v4M1157.5 478v4M1158.5 482v4M1159.5 486v4M1160.5 490v3M1161.5 493v4M1162.5 497v3M1163.5 500v3M1164.5 503v4M1165.5 507v3M1166.5 510v3M1167.5 513v3M1168.5 516v3M1169.5 519v3M1170.5 522v3M1171.5 525v3M1172.5 528v2M1173.5 530v3M1174.5 533v3M1175.5 536v1M1176.5 537v3M1177.5 540v1M1178.5 541v2M1179.5 543v2M1180.5 545v1M1181.5 546v2M1182.5 548v1M1183.5 548v1M1184.5 547v1M1185.5 546v1M1186.5 546v1M1187.5 545v1M1188.5 544v1M1189.5 543v1M1190.5 542v1M1191.5 541v1M1192.5 540v1M1193.5 539v1M1194.5 537v2M1195.5 534v3M1196.5 532v2M1197.5 529v3M1198.5 526v3M1199.5 524v2M1200.5 521v3M1201.5 519v2M1202.5 515v4M1203.5 510v5M1204.5 506v4M1205.5 501v5M1206.5 496v5M1207.5 491v5M1208.5 487v4M1209.5 482v5M1210.5 476v6M1211.5 470v6M1212.5 464v6M1213.5 458v6M1214.5 450v8M1215.5 440v10M1216.5 430v10M1217.5 420v10M1218.5 410v10M1219.5 398v12M1220.5 387v11M1221.5 375v12M1222.5 367v8M1223.5 361v6M1224.5 356v5M1225.5 350v6M1226.5 344v6M1227.5 336v8M1228.5 329v7M1229.5 321v8M1230.5 312v9M1231.5 302v10M1232.5 292v10M1233.5 282v10M1234.5 273v9M1235.5 266v7M1236.5 260v6M1237.5 253v7M1238.5 245v8M1239.5 236v9M1240.5 228v8M1241.5 219v9M1242.5 211v8M1243.5 203v8M1244.5 196v7M1245.5 188v8M1246.5 183v5M1247.5 179v4M1248.5 176v3M1249.5 172v4M1250.5 170v5M1251.5 175v8M1252.5 183v9M1253.5 192v8M1254.5 200v9M1255.5 209v9M1256.5 218v9M1257.5 227v9M1258.5 236v11M1259.5 247v13M1260.5 260v12M1261.5 272v13M1262.5 285v10M1263.5 295v7M1264.5 302v8M1265.5 310v7M1266.5 317v6M1267.5 323v3M1268.5 326v5M1269.5 331v3M1270.5 334v3" fill="none" stroke="#ffa500" stroke-width="1"/>
<rect x="6" y="46" width="1592" height="2" fill="#ff0000" />
<rect x="6" y="128" width="1592" height="2" fill="#ff0000" />
<rect x="5" y="126" width="6" height="6" fill="#ff0000" />
<rect x="7" y="128" width="2" height="2" fill="#fff" />
<rect x="1592" y="126" width="6" height="6" fill="#ff0000" />
<rect x="1594" y="128" width="2" height="2" fill="#fff" />
<rect x="6" y="191" width="1592" height="2" fill="#ff0000" />
<rect x="6" y="266" width="1592" height="2" fill="#00ff00" />
<rect x="5" y="264" width="6" height="6" fill="#00ff00" />
<rect x="7" y="266" width="2" height="2" fill="#fff" />
<rect x="1592" y="264" width="6" height="6" fill="#00ff00" />
<rect x="1594" y="266" width="2" height="2" fill="#fff" />
<rect x="6" y="339" width="1592" height="2" fill="#0000ff" />
<rect x="5" y="337" width="6" height="6" fill="#0000ff" />
<rect x="7" y="339" width="2" height="2" fill="#fff" />
<rect x="1592" y="337" width="6" height="6" fill="#0000ff" />
<rect x="1594" y="339" width="2" height="2" fill="#fff" />
<rect x="6" y="413" width="1592" height="2" fill="#0000ff" />
<rect x="5" y="411" width="6" height="6" fill="#0000ff" />
<rect x="7" y="413" width="2" height="2" fill="#fff" />
<rect x="1592" y="411" width="6" height="6" fill="#0000ff" />
<rect x="1594" y="413" width="2" height="2" fill="#fff" />
<rect x="6" y="501" width="1592" height="2" fill="#0000ff" />
<rect x="5" y="499" width="6" height="6" fill="#0000ff" />
<rect x="7" y="501" width="2" height="2" fill="#fff" />
<rect x="1592" y="499" width="6" height="6" fill="#0000ff" />
<rect x="1594" y="501" width="2" height="2" fill="#fff" />
</g>
<clipPath id="cpRsi"><rect x="6" y="594" width="1592" height="103"/></clipPath>
<g clip-path="url(#cpRsi)">
<line x1="7" x2="1598" y1="625.5" y2="625.5" stroke="#c0c0c0" stroke-width="1" stroke-dasharray="3,3"/>
<line x1="7" x2="1598" y1="666.5" y2="666.5" stroke="#c0c0c0" stroke-width="1" stroke-dasharray="3,3"/>
<path d="M6.5 650v1M7.5 648v2M8.5 647v1M9.5 645v2M10.5 644v1M11.5 644v1M12.5 645v1M13.5 646v1M14.5 646v1M15.5 645v1M16.5 643v2M17.5 642v1M18.5 641v1M19.5 641v1M20.5 640v1M21.5 639v1M22.5 639v1M23.5 639v1M24.5 639v1M25.5 638v1M26.5 638v1M27.5 638v1M28.5 637v1M29.5 636v1M30.5 636v3M31.5 639v5M32.5 644v4M33.5 648v5M34.5 653v3M35.5 654v1M36.5 653v1M37.5 653v1M38.5 652v1M39.5 650v2M40.5 649v1M41.5 647v2M42.5 646v1M43.5 647v2M44.5 649v2M45.5 651v2M46.5 653v1M47.5 654v1M48.5 655v2M49.5 657v1M50.5 658v1M51.5 658v1M52.5 659v1M53.5 660v1M54.5 660v1M55.5 660v1M56.5 660v1M57.5 661v1M58.5 661v1M59.5 661v1M60.5 662v1M61.5 663v1M62.5 663v1M63.5 663v1M64.5 663v1M65.5 664v1M66.5 664v1M67.5 664v1M68.5 665v1M69.5 666v1M70.5 665v2M71.5 662v3M72.5 658v4M73.5 655v3M74.5 653v2M75.5 654v1M76.5 655v1M77.5 656v1M78.5 657v1M79.5 657v1M80.5 657v1M81.5 656v1M82.5 656v1M83.5 656v1M84.5 656v1M85.5 656v1M86.5 655v2M87.5 653v2M88.5 651v2M89.5 649v2M90.5 647v2M91.5 646v1M92.5 645v1M93.5 645v1M94.5 644v1M95.5 644v1M96.5 645v1M97.5 646v1M98.5 646v1M99.5 646v1M100.5 646v1M101.5 647v1M102.5 646v2M103.5 645v1M104.5 642v3M105.5 641v1M106.5 639v2M107.5 639v1M108.5 640v1M109.5 641v1M110.5 641v1M111.5 641v1M112.5 640v1M113.5 639v1M114.5 639v1M115.5 640v1M116.5 641v1M117.5 641v1M118.5 642v1M119.5 642v1M120.5 642v1M121.5 641v1M122.5 641v2M123.5 643v3M124.5 646v2M125.5 648v3M126.5 651v2M127.5 652v1M128.5 653v1M129.5 654v1M130.5 654v1M131.5 653v1M132.5 652v1M133.5 652v1M134.5 651v1M135.5 650v1M136.5 649v1M137.5 649v1M138.5 648v2M139.5 650v1M140.5 651v3M141.5 654v1M142.5 655v2M143.5 657v1M144.5 658v1M145.5 658v1M146.5 659v1M147.5 660v2M148.5 662v1M149.5 663v2M150.5 665v1M151.5 664v1M152.5 663v1M153.5 663v1M154.5 662v1M155.5 662v1M156.5 662v1M157.5 662v1M158.5 662v1M159.5 661v1M160.5 660v1M161.5 660v1M162.5 658v2M163.5 657v1M164.5 654v3M165.5 653v1M166.5 650v3M167.5 649v1M168.5 646v3M169.5 645v1M170.5 643v2M171.5 645v2M172.5 647v3M173.5 650v2M174.5 652v2M175.5 653v1M176.5 653v1M177.5 652v1M178.5 652v1M179.5 652v1M180.5 652v1M181.5 651v1M182.5 651v1M183.5 651v1M184.5 651v1M185.5 650v1M186.5 650v1M187.5 651v1M188.5 652v1M189.5 652v1M190.5 653v1M191.5 652v1M192.5 650v2M193.5 649v1M194.5 648v1M195.5 647v1M196.5 646v1M197.5 645v1M198.5 644v1M199.5 644v1M200.5 643v1M201.5 642v1M202.5 642v1M203.5 642v1M204.5 643v1M205.5 644v1M206.5 644v1M207.5 644v1M208.5 644v1M209.5 644v1M210.5 644v1M211.5 645v1M212.5 646v1M213.5 647v1M214.5 648v1M215.5 648v1M216.5 648v1M217.5 648v1M218.5 648v1M219.5 649v2M220.5 651v1M221.5 652v2M222.5 654v1M223.5 654v1M224.5 655v1M225.5 656v1M226.5 656v1M227.5 656v1M228.5 656v1M229.5 657v1M230.5 657v1M231.5 656v1M232.5 655v1M233.5 655v1M234.5 654v1M235.5 654v1M236.5 655v1M237.5 656v1M238.5 656v1M239.5 656v1M240.5 656v1M241.5 657v1M242.5 657v1M243.5 656v1M244.5 654v2M245.5 653v1M246.5 652v1M247.5 650v2M248.5 649v1M249.5 647v2M250.5 646v1M251.5 645v1M252.5 644v1M253.5 644v1M254.5 643v1M255.5 644v1M256.5 645v1M257.5 646v1M258.5 647v1M259.5 648v1M260.5 649v1M261.5 650v1M262.5 651v1M263.5 652v2M264.5 654v2M265.5 656v2M266.5 658v1M267.5 658v1M268.5 658v1M269.5 657v1M270.5 657v1M271.5 656v1M272.5 655v1M273.5 655v1M274.5 654v1M275.5 652v2M276.5 651v1M277.5 649v2M278.5 648v1M279.5 646v2M280.5 645v1M281.5 643v2M282.5 642v1M283.5 640v2M284.5 639v1M285.5 637v2M286.5 636v1M287.5 636v1M288.5 636v1M289.5 635v1M290.5 635v1M291.5 633v2M292.5 631v2M293.5 629v2M294.5 628v1M295.5 627v1M296.5 626v1M297.5 625v1M298.5 624v1M299.5 624v1M300.5 624v1M301.5 623v1M302.5 623v2M303.5 625v1M304.5 626v3M305.5 629v1M306.5 630v2M307.5 631v1M308.5 631v1M309.5 630v1M310.5 630v1M311.5 630v1M312.5 630v1M313.5 631v1M314.5 631v2M315.5 633v1M316.5 634v3M317.5 637v1M318.5 638v3M319.5 641v2M320.5 643v3M321.5 646v2M322.5 648v2M323.5 649v1M324.5 650v1M325.5 651v1M326.5 651v1M327.5 650v1M328.5 648v2M329.5 647v1M330.5 646v1M331.5 647v2M332.5 649v1M333.5 650v2M334.5 652v1M335.5 651v1M336.5 650v1M337.5 650v1M338.5 648v2M339.5 646v2M340.5 643v3M341.5 641v2M342.5 639v2M343.5 638v1M344.5 636v2M345.5 635v1M346.5 634v1M347.5 633v1M348.5 632v1M349.5 631v1M350.5 630v1M351.5 630v1M352.5 629v1M353.5 628v1M354.5 628v1M355.5 628v1M356.5 628v1M357.5 629v1M358.5 629v1M359.5 629v1M360.5 629v1M361.5 628v1M362.5 628v1M363.5 629v1M364.5 630v1M365.5 631v1M366.5 632v1M367.5 632v1M368.5 632v1M369.5 631v1M370.5 631v1M371.5 631v1M372.5 631v1M373.5 631v1M374.5 631v2M375.5 633v3M376.5 636v4M377.5 640v3M378.5 643v2M379.5 644v1M380.5 644v1M381.5 645v1M382.5 645v1M383.5 646v1M384.5 647v1M385.5 648v1M386.5 649v1M387.5 649v1M388.5 649v1M389.5 648v1M390.5 648v2M391.5 650v2M392.5 652v2M393.5 654v2M394.5 656v2M395.5 657v1M396.5 657v1M397.5 656v1M398.5 656v1M399.5 656v1M400.5 657v1M401.5 658v1M402.5 658v1M403.5 658v1M404.5 658v1M405.5 658v1M406.5 657v2M407.5 655v2M408.5 652v3M409.5 650v2M410.5 648v2M411.5 648v1M412.5 648v1M413.5 648v1M414.5 648v1M415.5 648v1M416.5 648v1M417.5 649v1M418.5 649v1M419.5 648v1M420.5 647v1M421.5 647v1M422.5 646v1M423.5 646v1M424.5 647v1M425.5 648v1M426.5 648v1M427.5 649v2M428.5 651v2M429.5 653v2M430.5 655v1M431.5 654v1M432.5 653v1M433.5 653v1M434.5 652v1M435.5 652v1M436.5 652v1M437.5 652v1M438.5 652v1M439.5 652v1M440.5 652v1M441.5 653v1M442.5 653v1M443.5 653v1M444.5 653v1M445.5 653v1M446.5 653v1M447.5 653v1M448.5 653v1M449.5 654v1M450.5 654v2M451.5 656v2M452.5 658v2M453.5 660v2M454.5 662v2M455.5 663v1M456.5 664v1M457.5 665v1M458.5 665v1M459.5 664v1M460.5 663v1M461.5 662v1M462.5 661v1M463.5 662v1M464.5 663v1M465.5 664v1M466.5 665v1M467.5 665v1M468.5 665v1M469.5 664v1M470.5 664v1M471.5 663v1M472.5 662v1M473.5 661v1M474.5 660v1M475.5 660v1M476.5 660v1M477.5 659v1M478.5 659v1M479.5 659v1M480.5 660v1M481.5 661v1M482.5 661v2M483.5 663v1M484.5 664v3M485.5 667v1M486.5 668v2M487.5 665v3M488.5 663v2M489.5 660v3M490.5 658v2M491.5 658v1M492.5 658v1M493.5 658v1M494.5 657v2M495.5 653v4M496.5 650v3M497.5 646v4M498.5 644v2M499.5 644v1M500.5 644v1M501.5 643v1M502.5 643v1M503.5 642v1M504.5 640v2M505.5 639v1M506.5 638v1M507.5 639v1M508.5 640v2M509.5 642v1M510.5 643v1M511.5 643v1M512.5 642v1M513.5 641v1M514.5 641v1M515.5 641v1M516.5 642v1M517.5 643v1M518.5 643v1M519.5 643v1M520.5 643v1M521.5 643v1M522.5 643v1M523.5 644v1M524.5 645v2M525.5 647v1M526.5 648v1M527.5 649v1M528.5 650v2M529.5 652v1M530.5 653v1M531.5 654v2M532.5 656v1M533.5 657v2M534.5 659v1M535.5 659v1M536.5 659v1M537.5 659v1M538.5 659v1M539.5 659v1M540.5 659v1M541.5 658v1M542.5 658v1M543.5 658v1M544.5 658v1M545.5 658v1M546.5 658v1M547.5 658v1M548.5 658v1M549.5 659v1M550.5 659v1M551.5 659v1M552.5 659v1M553.5 658v1M554.5 658v1M555.5 658v1M556.5 658v1M557.5 659v1M558.5 658v2M559.5 655v3M560.5 652v3M561.5 649v3M562.5 647v2M563.5 647v1M564.5 647v1M565.5 648v1M566.5 648v1M567.5 649v1M568.5 650v2M569.5 652v1M570.5 653v1M571.5 653v1M572.5 654v1M573.5 655v1M574.5 655v1M575.5 655v1M576.5 656v1M577.5 657v1M578.5 657v1M579.5 658v1M580.5 659v1M581.5 659v1M582.5 660v2M583.5 662v1M584.5 663v3M585.5 666v1M586.5 667v2M587.5 668v1M588.5 668v1M589.5 669v1M590.5 669v1M591.5 669v1M592.5 669v1M593.5 670v1M594.5 670v1M595.5 670v1M596.5 670v1M597.5 670v1M598.5 669v2M599.5 666v3M600.5 662v4M601.5 659v3M602.5 657v2M603.5 656v1M604.5 655v1M605.5 655v1M606.5 654v1M607.5 654v1M608.5 654v1M609.5 653v1M610.5 653v1M611.5 653v1M612.5 654v1M613.5 655v1M614.5 655v1M615.5 653v2M616.5 652v1M617.5 650v2M618.5 649v1M619.5 650v1M620.5 651v1M621.5 652v1M622.5 653v1M623.5 654v1M624.5 655v1M625.5 656v1M626.5 656v2M627.5 653v3M628.5 650v3M629.5 647v3M630.5 645v2M631.5 645v1M632.5 645v1M633.5 645v1M634.5 645v1M635.5 645v1M636.5 645v1M637.5 646v1M638.5 646v2M639.5 648v2M640.5 650v2M641.5 652v2M642.5 654v2M643.5 652v2M644.5 650v2M645.5 648v2M646.5 646v2M647.5 646v1M648.5 646v1M649.5 647v1M650.5 647v1M651.5 647v1M652.5 647v1M653.5 648v1M654.5 648v1M655.5 649v2M656.5 651v1M657.5 652v2M658.5 654v1M659.5 654v1M660.5 653v1M661.5 652v1M662.5 652v1M663.5 653v1M664.5 654v1M665.5 654v1M666.5 655v1M667.5 654v1M668.5 653v1M669.5 653v1M670.5 652v1M671.5 653v2M672.5 655v2M673.5 657v2M674.5 659v1M675.5 659v1M676.5 659v1M677.5 660v1M678.5 660v1M679.5 660v1M680.5 660v1M681.5 660v1M682.5 660v1M683.5 660v1M684.5 660v1M685.5 660v1M686.5 660v1M687.5 661v1M688.5 662v1M689.5 663v1M690.5 664v1M691.5 662v2M692.5 661v1M693.5 659v2M694.5 658v1M695.5 657v1M696.5 656v1M697.5 656v1M698.5 655v1M699.5 653v2M700.5 651v2M701.5 649v2M702.5 648v1M703.5 648v1M704.5 649v1M705.5 650v1M706.5 650v1M707.5 650v1M708.5 649v1M709.5 648v1M710.5 648v1M711.5 648v1M712.5 648v1M713.5 648v1M714.5 648v1M715.5 649v2M716.5 651v1M717.5 652v2M718.5 654v1M719.5 652v2M720.5 651v1M721.5 649v2M722.5 648v1M723.5 646v2M724.5 645v1M725.5 643v2M726.5 642v1M727.5 641v1M728.5 640v1M729.5 640v1M730.5 639v1M731.5 639v1M732.5 639v1M733.5 638v1M734.5 638v1M735.5 639v1M736.5 640v1M737.5 641v1M738.5 642v1M739.5 642v1M740.5 641v1M741.5 640v1M742.5 640v1M743.5 638v2M744.5 637v1M745.5 635v2M746.5 634v1M747.5 632v2M748.5 631v1M749.5 629v2M750.5 628v1M751.5 628v1M752.5 627v1M753.5 626v1M754.5 626v1M755.5 626v1M756.5 626v1M757.5 625v1M758.5 625v1M759.5 626v1M760.5 627v1M761.5 628v1M762.5 629v1M763.5 629v1M764.5 629v1M765.5 630v1M766.5 630v1M767.5 631v1M768.5 632v2M769.5 634v1M770.5 635v1M771.5 636v1M772.5 637v1M773.5 638v1M774.5 639v1M775.5 640v1M776.5 641v1M777.5 641v1M778.5 642v1M779.5 642v1M780.5 642v1M781.5 642v1M782.5 642v1M783.5 642v1M784.5 641v1M785.5 640v1M786.5 640v1M787.5 639v1M788.5 638v1M789.5 637v1M790.5 636v1M791.5 636v1M792.5 636v1M793.5 635v1M794.5 635v1M795.5 634v1M796.5 632v2M797.5 631v1M798.5 630v1M799.5 630v1M800.5 629v1M801.5 628v1M802.5 628v1M803.5 628v1M804.5 629v1M805.5 630v1M806.5 630v1M807.5 630v1M808.5 631v1M809.5 632v1M810.5 632v3M811.5 635v4M812.5 639v4M813.5 643v4M814.5 647v3M815.5 649v1M816.5 649v1M817.5 649v1M818.5 649v1M819.5 650v1M820.5 651v2M821.5 653v1M822.5 654v1M823.5 655v1M824.5 656v1M825.5 656v1M826.5 657v1M827.5 657v1M828.5 657v1M829.5 658v1M830.5 658v1M831.5 657v1M832.5 656v1M833.5 655v1M834.5 654v1M835.5 655v1M836.5 656v1M837.5 657v1M838.5 658v1M839.5 658v1M840.5 658v1M841.5 658v1M842.5 658v1M843.5 658v1M844.5 658v1M845.5 659v1M846.5 658v2M847.5 655v3M848.5 653v2M849.5 650v3M850.5 648v2M851.5 648v1M852.5 648v1M853.5 647v1M854.5 647v1M855.5 646v1M856.5 644v2M857.5 643v1M858.5 642v1M859.5 642v1M860.5 642v1M861.5 643v1M862.5 643v1M863.5 643v1M864.5 644v1M865.5 645v1M866.5 645v1M867.5 645v1M868.5 644v1M869.5 643v1M870.5 643v2M871.5 645v2M872.5 647v2M873.5 649v2M874.5 651v2M875.5 652v1M876.5 652v1M877.5 653v1M878.5 653v1M879.5 654v1M880.5 655v1M881.5 655v1M882.5 656v1M883.5 656v1M884.5 656v1M885.5 656v1M886.5 656v1M887.5 656v1M888.5 657v1M889.5 658v1M890.5 658v1M891.5 658v1M892.5 657v1M893.5 656v1M894.5 656v1M895.5 654v2M896.5 653v1M897.5 651v2M898.5 650v1M899.5 650v1M900.5 651v1M901.5 652v1M902.5 651v2M903.5 648v3M904.5 645v3M905.5 642v3M906.5 640v2M907.5 640v1M908.5 639v1M909.5 638v1M910.5 638v1M911.5 638v1M912.5 638v1M913.5 637v1M914.5 637v1M915.5 637v1M916.5 637v1M917.5 636v1M918.5 636v2M919.5 638v2M920.5 640v3M921.5 643v2M922.5 645v2M923.5 646v1M924.5 646v1M925.5 645v1M926.5 645v1M927.5 644v1M928.5 643v1M929.5 643v1M930.5 642v1M931.5 641v1M932.5 640v1M933.5 639v1M934.5 638v1M935.5 638v1M936.5 639v1M937.5 640v1M938.5 640v1M939.5 638v2M940.5 637v1M941.5 635v2M942.5 634v1M943.5 633v1M944.5 632v1M945.5 632v1M946.5 631v1M947.5 632v1M948.5 633v1M949.5 634v1M950.5 635v1M951.5 635v1M952.5 634v1M953.5 633v1M954.5 633v1M955.5 632v1M956.5 631v1M957.5 630v1M958.5 629v2M959.5 631v1M960.5 632v3M961.5 635v1M962.5 636v2M963.5 638v1M964.5 639v1M965.5 639v1M966.5 640v1M967.5 641v2M968.5 643v1M969.5 644v2M970.5 646v1M971.5 647v1M972.5 648v1M973.5 648v1M974.5 649v1M975.5 648v1M976.5 647v1M977.5 647v1M978.5 646v1M979.5 646v1M980.5 646v1M981.5 646v1M982.5 646v1M983.5 646v1M984.5 646v1M985.5 646v1M986.5 646v1M987.5 645v1M988.5 644v1M989.5 644v1M990.5 642v2M991.5 639v3M992.5 637v2M993.5 634v3M994.5 632v2M995.5 631v1M996.5 630v1M997.5 630v1M998.5 629v1M999.5 629v1M1000.5 628v1M1001.5 627v1M1002.5 627v1M1003.5 626v1M1004.5 625v1M1005.5 625v1M1006.5 624v1M1007.5 624v1M1008.5 625v1M1009.5 626v1M1010.5 626v1M1011.5 627v1M1012.5 628v1M1013.5 628v1M1014.5 629v2M1015.5 631v2M1016.5 633v3M1017.5 636v2M1018.5 638v2M1019.5 639v1M1020.5 639v1M1021.5 639v1M1022.5 639v1M1023.5 638v1M1024.5 637v1M1025.5 636v1M1026.5 635v2M1027.5 637v2M1028.5 639v3M1029.5 642v2M1030.5 644v2M1031.5 646v1M1032.5 647v1M1033.5 648v1M1034.5 649v1M1035.5 650v1M1036.5 651v1M1037.5 651v1M1038.5 652v1M1039.5 652v1M1040.5 651v1M1041.5 650v1M1042.5 650v1M1043.5 650v1M1044.5 650v1M1045.5 649v1M1046.5 649v1M1047.5 648v1M1048.5 647v1M1049.5 646v1M1050.5 645v1M1051.5 646v1M1052.5 647v1M1053.5 647v1M1054.5 648v1M1055.5 646v2M1056.5 645v1M1057.5 643v2M1058.5 642v1M1059.5 642v1M1060.5 643v1M1061.5 644v1M1062.5 644v2M1063.5 646v2M1064.5 648v2M1065.5 650v2M1066.5 652v2M1067.5 653v1M1068.5 653v1M1069.5 653v1M1070.5 653v1M1071.5 653v1M1072.5 654v1M1073.5 655v1M1074.5 655v1M1075.5 654v1M1076.5 653v1M1077.5 652v1M1078.5 651v1M1079.5 652v1M1080.5 653v1M1081.5 654v1M1082.5 655v1M1083.5 656v1M1084.5 657v2M1085.5 659v1M1086.5 660v1M1087.5 661v1M1088.5 662v1M1089.5 662v1M1090.5 663v1M1091.5 663v1M1092.5 662v1M1093.5 661v1M1094.5 661v1M1095.5 662v1M1096.5 663v1M1097.5 663v1M1098.5 664v1M1099.5 664v1M1100.5 664v1M1101.5 665v1M1102.5 665v1M1103.5 665v1M1104.5 665v1M1105.5 665v1M1106.5 664v2M1107.5 662v2M1108.5 659v3M1109.5 657v2M1110.5 654v3M1111.5 652v2M1112.5 649v3M1113.5 647v2M1114.5 645v2M1115.5 645v1M1116.5 645v1M1117.5 644v1M1118.5 644v1M1119.5 645v2M1120.5 647v1M1121.5 648v2M1122.5 650v1M1123.5 651v1M1124.5 652v1M1125.5 652v1M1126.5 653v1M1127.5 654v1M1128.5 655v2M1129.5 657v1M1130.5 658v1M1131.5 659v1M1132.5 660v1M1133.5 661v1M1134.5 662v1M1135.5 662v1M1136.5 662v1M1137.5 663v1M1138.5 663v1M1139.5 663v1M1140.5 664v1M1141.5 665v1M1142.5 665v1M1143.5 666v1M1144.5 667v1M1145.5 667v1M1146.5 668v1M1147.5 668v1M1148.5 668v1M1149.5 668v1M1150.5 668v1M1151.5 669v1M1152.5 670v1M1153.5 670v1M1154.5 671v1M1155.5 672v1M1156.5 673v1M1157.5 674v1M1158.5 675v1M1159.5 675v1M1160.5 675v1M1161.5 675v1M1162.5 675v1M1163.5 675v1M1164.5 675v1M1165.5 675v1M1166.5 675v1M1167.5 675v1M1168.5 675v1M1169.5 676v1M1170.5 676v1M1171.5 676v1M1172.5 676v1M1173.5 677v1M1174.5 677v1M1175.5 677v1M1176.5 678v1M1177.5 679v1M1178.5 679v1M1179.5 678v1M1180.5 677v1M1181.5 676v1M1182.5 674v2M1183.5 670v4M1184.5 667v3M1185.5 663v4M1186.5 661v2M1187.5 661v1M1188.5 661v1M1189.5 660v1M1190.5 660v1M1191.5 660v1M1192.5 660v1M1193.5 660v1M1194.5 660v1M1195.5 660v1M1196.5 659v1M1197.5 658v1M1198.5 658v1M1199.5 658v1M1200.5 658v1M1201.5 657v1M1202.5 655v3M1203.5 649v6M1204.5 644v5M1205.5 638v6M1206.5 635v3M1207.5 635v1M1208.5 635v1M1209.5 635v1M1210.5 635v1M1211.5 634v1M1212.5 632v2M1213.5 631v1M1214.5 629v2M1215.5 627v2M1216.5 625v2M1217.5 623v2M1218.5 621v2M1219.5 620v1M1220.5 619v1M1221.5 619v1M1222.5 618v2M1223.5 620v1M1224.5 621v3M1225.5 624v1M1226.5 625v2M1227.5 625v1M1228.5 624v1M1229.5 623v1M1230.5 622v1M1231.5 620v2M1232.5 619v1M1233.5 617v2M1234.5 616v1M1235.5 616v1M1236.5 616v1M1237.5 616v1M1238.5 616v1M1239.5 615v1M1240.5 614v1M1241.5 613v1M1242.5 612v2M1243.5 614v3M1244.5 617v2M1245.5 619v3M1246.5 622v2M1247.5 624v2M1248.5 626v2M1249.5 628v2M1250.5 630v3M1251.5 633v4M1252.5 637v4M1253.5 641v4M1254.5 645v3M1255.5 647v1M1256.5 647v1M1257.5 648v1M1258.5 648v1M1259.5 648v1M1260.5 648v1M1261.5 648v1M1262.5 648v1M1263.5 646v2M1264.5 645v1M1265.5 643v2M1266.5 642v1M1267.5 642v1M1268.5 641v1M1269.5 640v1M1270.5 640v1" fill="none" stroke="#1e90ff" stroke-width="1"/>
</g>
<clipPath id="cpMacd"><rect x="6" y="700" width="1592" height="102"/></clipPath>
<g clip-path="url(#cpMacd)">
<rect x="6" y="760" width="1" height="13" fill="#c0c0c0" />
<rect x="10" y="760" width="1" height="10" fill="#c0c0c0" />
<rect x="14" y="760" width="1" height="8" fill="#c0c0c0" />
<rect x="18" y="760" width="1" height="6" fill="#c0c0c0" />
<rect x="22" y="760" width="1" height="4" fill="#c0c0c0" />
<rect x="26" y="760" width="1" height="2" fill="#c0c0c0" />
<rect x="30" y="759" width="1" height="2" fill="#c0c0c0" />
<rect x="34" y="760" width="1" height="2" fill="#c0c0c0" />
<rect x="38" y="760" width="1" height="3" fill="#c0c0c0" />
<rect x="42" y="760" width="1" height="2" fill="#c0c0c0" />
<rect x="46" y="760" width="1" height="4" fill="#c0c0c0" />
<rect x="50" y="760" width="1" height="6" fill="#c0c0c0" />
<rect x="54" y="760" width="1" height="9" fill="#c0c0c0" />
<rect x="58" y="760" width="1" height="11" fill="#c0c0c0" />
<rect x="62" y="760" width="1" height="13" fill="#c0c0c0" />
<rect x="66" y="760" width="1" height="15" fill="#c0c0c0" />
<rect x="70" y="760" width="1" height="17" fill="#c0c0c0" />
<rect x="74" y="760" width="1" height="16" fill="#c0c0c0" />
<rect x="78" y="760" width="1" height="16" fill="#c0c0c0" />
<rect x="82" y="760" width="1" height="16" fill="#c0c0c0" />
<rect x="86" y="760" width="1" height="16" fill="#c0c0c0" />
<rect x="90" y="760" width="1" height="14" fill="#c0c0c0" />
<rect x="94" y="760" width="1" height="11" fill="#c0c0c0" />
<rect x="98" y="760" width="1" height="10" fill="#c0c0c0" />
<rect x="102" y="760" width="1" height="8" fill="#c0c0c0" />
<rect x="106" y="760" width="1" height="6" fill="#c0c0c0" />
<rect x="110" y="760" width="1" height="4" fill="#c0c0c0" />
<rect x="114" y="760" width="1" height="2" fill="#c0c0c0" />
<rect x="118" y="760" width="1" height="1" fill="#c0c0c0" />
<rect x="122" y="759" width="1" height="2" fill="#c0c0c0" />
<rect x="126" y="760" width="1" height="2" fill="#c0c0c0" />
<rect x="130" y="760" width="1" height="3" fill="#c0c0c0" />
<rect x="134" y="760" width="1" height="4" fill="#c0c0c0" />
<rect x="138" y="760" width="1" height="4" fill="#c0c0c0" />
<rect x="142" y="760" width="1" height="6" fill="#c0c0c0" />
<rect x="146" y="760" width="1" height="8" fill="#c0c0c0" />
<rect x="150" y="760" width="1" height="12" fill="#c0c0c0" />
<rect x="154" y="760" width="1" height="15" fill="#c0c0c0" />
<rect x="158" y="760" width="1" height="16" fill="#c0c0c0" />
<rect x="162" y="760" width="1" height="17" fill="#c0c0c0" />
<rect x="166" y="760" width="1" height="16" fill="#c0c0c0" />
<rect x="170" y="760" width="1" height="13" fill="#c0c0c0" />
<rect x="174" y="760" width="1" height="13" fill="#c0c0c0" />
<rect x="178" y="760" width="1" height="13" fill="#c0c0c0" />
<rect x="182" y="760" width="1" height="12" fill="#c0c0c0" />
<rect x="186" y="760" width="1" height="11" fill="#c0c0c0" />
<rect x="190" y="760" width="1" height="12" fill="#c0c0c0" />
<rect x="194" y="760" width="1" height="10" fill="#c0c0c0" />
<rect x="198" y="760" width="1" height="8" fill="#c0c0c0" />
<rect x="202" y="760" width="1" height="6" fill="#c0c0c0" />
<rect x="206" y="760" width="1" height="5" fill="#c0c0c0" />
<rect x="210" y="760" width="1" height="4" fill="#c0c0c0" />
<rect x="214" y="760" width="1" height="4" fill="#c0c0c0" />
<rect x="218" y="760" width="1" height="4" fill="#c0c0c0" />
<rect x="222" y="760" width="1" height="5" fill="#c0c0c0" />
<rect x="226" y="760" width="1" height="7" fill="#c0c0c0" />
<rect x="230" y="760" width="1" height="8" fill="#c0c0c0" />
<rect x="234" y="760" width="1" height="9" fill="#c0c0c0" />
<rect x="238" y="760" width="1" height="10" fill="#c0c0c0" />
<rect x="242" y="760" width="1" height="10" fill="#c0c0c0" />
<rect x="246" y="760" width="1" height="10" fill="#c0c0c0" />
<rect x="250" y="760" width="1" height="8" fill="#c0c0c0" />
<rect x="254" y="760" width="1" height="7" fill="#c0c0c0" />
<rect x="258" y="760" width="1" height="6" fill="#c0c0c0" />
<rect x="262" y="760" width="1" height="6" fill="#c0c0c0" />
<rect x="266" y="760" width="1" height="8" fill="#c0c0c0" />
<rect x="270" y="760" width="1" height="9" fill="#c0c0c0" />
<rect x="274" y="760" width="1" height="9" fill="#c0c0c0" />
<rect x="278" y="760" width="1" height="9" fill="#c0c0c0" />
<rect x="282" y="760" width="1" height="7" fill="#c0c0c0" />
<rect x="286" y="760" width="1" height="3" fill="#c0c0c0" />
<rect x="290" y="760" width="1" height="1" fill="#c0c0c0" />
<rect x="294" y="755" width="1" height="6" fill="#c0c0c0" />
<rect x="298" y="751" width="1" height="10" fill="#c0c0c0" />
<rect x="302" y="747" width="1" height="14" fill="#c0c0c0" />
<rect x="306" y="745" width="1" height="16" fill="#c0c0c0" />
<rect x="310" y="743" width="1" height="18" fill="#c0c0c0" />
<rect x="314" y="743" width="1" height="18" fill="#c0c0c0" />
<rect x="318" y="744" width="1" height="17" fill="#c0c0c0" />
<rect x="322" y="747" width="1" height="14" fill="#c0c0c0" />
<rect x="326" y="751" width="1" height="10" fill="#c0c0c0" />
<rect x="330" y="752" width="1" height="9" fill="#c0c0c0" />
<rect x="334" y="755" width="1" height="6" fill="#c0c0c0" />
<rect x="338" y="757" width="1" height="4" fill="#c0c0c0" />
<rect x="342" y="755" width="1" height="6" fill="#c0c0c0" />
<rect x="346" y="752" width="1" height="9" fill="#c0c0c0" />
<rect x="350" y="748" width="1" height="13" fill="#c0c0c0" />
<rect x="354" y="744" width="1" height="17" fill="#c0c0c0" />
<rect x="358" y="741" width="1" height="20" fill="#c0c0c0" />
<rect x="362" y="739" width="1" height="22" fill="#c0c0c0" />
<rect x="366" y="738" width="1" height="23" fill="#c0c0c0" />
<rect x="370" y="737" width="1" height="24" fill="#c0c0c0" />
<rect x="374" y="737" width="1" height="24" fill="#c0c0c0" />
<rect x="378" y="740" width="1" height="21" fill="#c0c0c0" />
<rect x="382" y="743" width="1" height="18" fill="#c0c0c0" />
<rect x="386" y="747" width="1" height="14" fill="#c0c0c0" />
<rect x="390" y="750" width="1" height="11" fill="#c0c0c0" />
<rect x="394" y="755" width="1" height="6" fill="#c0c0c0" />
<rect x="398" y="759" width="1" height="2" fill="#c0c0c0" />
<rect x="402" y="760" width="1" height="3" fill="#c0c0c0" />
<rect x="406" y="760" width="1" height="6" fill="#c0c0c0" />
<rect x="410" y="760" width="1" height="6" fill="#c0c0c0" />
<rect x="414" y="760" width="1" height="6" fill="#c0c0c0" />
<rect x="418" y="760" width="1" height="6" fill="#c0c0c0" />
<rect x="422" y="760" width="1" height="5" fill="#c0c0c0" />
<rect x="426" y="760" width="1" height="5" fill="#c0c0c0" />
<rect x="430" y="760" width="1" height="7" fill="#c0c0c0" />
<rect x="434" y="760" width="1" height="8" fill="#c0c0c0" />
<rect x="438" y="760" width="1" height="8" fill="#c0c0c0" />
<rect x="442" y="760" width="1" height="9" fill="#c0c0c0" />
<rect x="446" y="760" width="1" height="9" fill="#c0c0c0" />
<rect x="450" y="760" width="1" height="10" fill="#c0c0c0" />
<rect x="454" y="760" width="1" height="12" fill="#c0c0c0" />
<rect x="458" y="760" width="1" height="15" fill="#c0c0c0" />
<rect x="462" y="760" width="1" height="17" fill="#c0c0c0" />
<rect x="466" y="760" width="1" height="19" fill="#c0c0c0" />
<rect x="470" y="760" width="1" height="20" fill="#c0c0c0" />
<rect x="474" y="760" width="1" height="20" fill="#c0c0c0" />
<rect x="478" y="760" width="1" height="20" fill="#c0c0c0" />
<rect x="482" y="760" width="1" height="21" fill="#c0c0c0" />
<rect x="486" y="760" width="1" height="23" fill="#c0c0c0" />
<rect x="490" y="760" width="1" height="23" fill="#c0c0c0" />
<rect x="494" y="760" width="1" height="23" fill="#c0c0c0" />
<rect x="498" y="760" width="1" height="19" fill="#c0c0c0" />
<rect x="502" y="760" width="1" height="15" fill="#c0c0c0" />
<rect x="506" y="760" width="1" height="11" fill="#c0c0c0" />
<rect x="510" y="760" width="1" height="8" fill="#c0c0c0" />
<rect x="514" y="760" width="1" height="6" fill="#c0c0c0" />
<rect x="518" y="760" width="1" height="4" fill="#c0c0c0" />
<rect x="522" y="760" width="1" height="3" fill="#c0c0c0" />
<rect x="526" y="760" width="1" height="3" fill="#c0c0c0" />
<rect x="530" y="760" width="1" height="5" fill="#c0c0c0" />
<rect x="534" y="760" width="1" height="8" fill="#c0c0c0" />
<rect x="538" y="760" width="1" height="11" fill="#c0c0c0" />
<rect x="542" y="760" width="1" height="13" fill="#c0c0c0" />
<rect x="546" y="760" width="1" height="14" fill="#c0c0c0" />
<rect x="550" y="760" width="1" height="15" fill="#c0c0c0" />
<rect x="554" y="760" width="1" height="16" fill="#c0c0c0" />
<rect x="558" y="760" width="1" height="16" fill="#c0c0c0" />
<rect x="562" y="760" width="1" height="14" fill="#c0c0c0" />
<rect x="566" y="760" width="1" height="12" fill="#c0c0c0" />
<rect x="570" y="760" width="1" height="12" fill="#c0c0c0" />
<rect x="574" y="760" width="1" height="13" fill="#c0c0c0" />
<rect x="578" y="760" width="1" height="13" fill="#c0c0c0" />
<rect x="582" y="760" width="1" height="15" fill="#c0c0c0" />
<rect x="586" y="760" width="1" height="19" fill="#c0c0c0" />
<rect x="590" y="760" width="1" height="22" fill="#c0c0c0" />
<rect x="594" y="760" width="1" height="25" fill="#c0c0c0" />
<rect x="598" y="760" width="1" height="27" fill="#c0c0c0" />
<rect x="602" y="760" width="1" height="26" fill="#c0c0c0" />
<rect x="606" y="760" width="1" height="24" fill="#c0c0c0" />
<rect x="610" y="760" width="1" height="22" fill="#c0c0c0" />
<rect x="614" y="760" width="1" height="21" fill="#c0c0c0" />
<rect x="618" y="760" width="1" height="19" fill="#c0c0c0" />
<rect x="622" y="760" width="1" height="18" fill="#c0c0c0" />
<rect x="626" y="760" width="1" height="18" fill="#c0c0c0" />
<rect x="630" y="760" width="1" height="15" fill="#c0c0c0" />
<rect x="634" y="760" width="1" height="12" fill="#c0c0c0" />
<rect x="638" y="760" width="1" height="11" fill="#c0c0c0" />
<rect x="642" y="760" width="1" height="12" fill="#c0c0c0" />
<rect x="646" y="760" width="1" height="10" fill="#c0c0c0" />
<rect x="650" y="760" width="1" height="9" fill="#c0c0c0" />
<rect x="654" y="760" width="1" height="8" fill="#c0c0c0" />
<rect x="658" y="760" width="1" height="10" fill="#c0c0c0" />
<rect x="662" y="760" width="1" height="10" fill="#c0c0c0" />
<rect x="666" y="760" width="1" height="11" fill="#c0c0c0" />
<rect x="670" y="760" width="1" height="12" fill="#c0c0c0" />
<rect x="674" y="760" width="1" height="14" fill="#c0c0c0" />
<rect x="678" y="760" width="1" height="16" fill="#c0c0c0" />
<rect x="682" y="760" width="1" height="18" fill="#c0c0c0" />
<rect x="686" y="760" width="1" height="19" fill="#c0c0c0" />
<rect x="690" y="760" width="1" height="21" fill="#c0c0c0" />
<rect x="694" y="760" width="1" height="21" fill="#c0c0c0" />
<rect x="698" y="760" width="1" height="21" fill="#c0c0c0" />
<rect x="702" y="760" width="1" height="18" fill="#c0c0c0" />
<rect x="706" y="760" width="1" height="17" fill="#c0c0c0" />
<rect x="710" y="760" width="1" height="15" fill="#c0c0c0" />
<rect x="714" y="760" width="1" height="13" fill="#c0c0c0" />
<rect x="718" y="760" width="1" height="13" fill="#c0c0c0" />
<rect x="722" y="760" width="1" height="12" fill="#c0c0c0" />
<rect x="726" y="760" width="1" height="9" fill="#c0c0c0" />
<rect x="730" y="760" width="1" height="6" fill="#c0c0c0" />
<rect x="734" y="760" width="1" height="3" fill="#c0c0c0" />
<rect x="738" y="760" width="1" height="2" fill="#c0c0c0" />
<rect x="742" y="759" width="1" height="2" fill="#c0c0c0" />
<rect x="746" y="756" width="1" height="5" fill="#c0c0c0" />
<rect x="750" y="752" width="1" height="9" fill="#c0c0c0" />
<rect x="754" y="747" width="1" height="14" fill="#c0c0c0" />
<rect x="758" y="743" width="1" height="18" fill="#c0c0c0" />
<rect x="762" y="741" width="1" height="20" fill="#c0c0c0" />
<rect x="766" y="740" width="1" height="21" fill="#c0c0c0" />
<rect x="770" y="741" width="1" height="20" fill="#c0c0c0" />
<rect x="774" y="742" width="1" height="19" fill="#c0c0c0" />
<rect x="778" y="744" width="1" height="17" fill="#c0c0c0" />
<rect x="782" y="745" width="1" height="16" fill="#c0c0c0" />
<rect x="786" y="746" width="1" height="15" fill="#c0c0c0" />
<rect x="790" y="746" width="1" height="15" fill="#c0c0c0" />
<rect x="794" y="746" width="1" height="15" fill="#c0c0c0" />
<rect x="798" y="745" width="1" height="16" fill="#c0c0c0" />
<rect x="802" y="743" width="1" height="18" fill="#c0c0c0" />
<rect x="806" y="742" width="1" height="19" fill="#c0c0c0" />
<rect x="810" y="742" width="1" height="19" fill="#c0c0c0" />
<rect x="814" y="746" width="1" height="15" fill="#c0c0c0" />
<rect x="818" y="749" width="1" height="12" fill="#c0c0c0" />
<rect x="822" y="753" width="1" height="8" fill="#c0c0c0" />
<rect x="826" y="757" width="1" height="4" fill="#c0c0c0" />
<rect x="830" y="760" width="1" height="1" fill="#c0c0c0" />
<rect x="834" y="760" width="1" height="3" fill="#c0c0c0" />
<rect x="838" y="760" width="1" height="6" fill="#c0c0c0" />
<rect x="842" y="760" width="1" height="7" fill="#c0c0c0" />
<rect x="846" y="760" width="1" height="9" fill="#c0c0c0" />
<rect x="850" y="760" width="1" height="9" fill="#c0c0c0" />
<rect x="854" y="760" width="1" height="8" fill="#c0c0c0" />
<rect x="858" y="760" width="1" height="6" fill="#c0c0c0" />
<rect x="862" y="760" width="1" height="4" fill="#c0c0c0" />
<rect x="866" y="760" width="1" height="4" fill="#c0c0c0" />
<rect x="870" y="760" width="1" height="3" fill="#c0c0c0" />
<rect x="874" y="760" width="1" height="4" fill="#c0c0c0" />
<rect x="878" y="760" width="1" height="5" fill="#c0c0c0" />
<rect x="882" y="760" width="1" height="6" fill="#c0c0c0" />
<rect x="886" y="760" width="1" height="8" fill="#c0c0c0" />
<rect x="890" y="760" width="1" height="9" fill="#c0c0c0" />
<rect x="894" y="760" width="1" height="9" fill="#c0c0c0" />
<rect x="898" y="760" width="1" height="9" fill="#c0c0c0" />
<rect x="902" y="760" width="1" height="9" fill="#c0c0c0" />
<rect x="906" y="760" width="1" height="6" fill="#c0c0c0" />
<rect x="910" y="760" width="1" height="4" fill="#c0c0c0" />
<rect x="914" y="760" width="1" height="2" fill="#c0c0c0" />
<rect x="918" y="759" width="1" height="2" fill="#c0c0c0" />
<rect x="922" y="759" width="1" height="2" fill="#c0c0c0" />
<rect x="926" y="759" width="1" height="2" fill="#c0c0c0" />
<rect x="930" y="759" width="1" height="2" fill="#c0c0c0" />
<rect x="934" y="757" width="1" height="4" fill="#c0c0c0" />
<rect x="938" y="757" width="1" height="4" fill="#c0c0c0" />
<rect x="942" y="755" width="1" height="6" fill="#c0c0c0" />
<rect x="946" y="752" width="1" height="9" fill="#c0c0c0" />
<rect x="950" y="751" width="1" height="10" fill="#c0c0c0" />
<rect x="954" y="750" width="1" height="11" fill="#c0c0c0" />
<rect x="958" y="748" width="1" height="13" fill="#c0c0c0" />
<rect x="962" y="748" width="1" height="13" fill="#c0c0c0" />
<rect x="966" y="749" width="1" height="12" fill="#c0c0c0" />
<rect x="970" y="751" width="1" height="10" fill="#c0c0c0" />
<rect x="974" y="753" width="1" height="8" fill="#c0c0c0" />
<rect x="978" y="754" width="1" height="7" fill="#c0c0c0" />
<rect x="982" y="755" width="1" height="6" fill="#c0c0c0" />
<rect x="986" y="756" width="1" height="5" fill="#c0c0c0" />
<rect x="990" y="756" width="1" height="5" fill="#c0c0c0" />
<rect x="994" y="753" width="1" height="8" fill="#c0c0c0" />
<rect x="998" y="750" width="1" height="11" fill="#c0c0c0" />
<rect x="1002" y="748" width="1" height="13" fill="#c0c0c0" />
<rect x="1006" y="744" width="1" height="17" fill="#c0c0c0" />
<rect x="1010" y="743" width="1" height="18" fill="#c0c0c0" />
<rect x="1014" y="742" width="1" height="19" fill="#c0c0c0" />
<rect x="1018" y="743" width="1" height="18" fill="#c0c0c0" />
<rect x="1022" y="744" width="1" height="17" fill="#c0c0c0" />
<rect x="1026" y="744" width="1" height="17" fill="#c0c0c0" />
<rect x="1030" y="747" width="1" height="14" fill="#c0c0c0" />
<rect x="1034" y="749" width="1" height="12" fill="#c0c0c0" />
<rect x="1038" y="753" width="1" height="8" fill="#c0c0c0" />
<rect x="1042" y="755" width="1" height="6" fill="#c0c0c0" />
<rect x="1046" y="756" width="1" height="5" fill="#c0c0c0" />
<rect x="1050" y="757" width="1" height="4" fill="#c0c0c0" />
<rect x="1054" y="758" width="1" height="3" fill="#c0c0c0" />
<rect x="1058" y="757" width="1" height="4" fill="#c0c0c0" />
<rect x="1062" y="757" width="1" height="4" fill="#c0c0c0" />
<rect x="1066" y="759" width="1" height="2" fill="#c0c0c0" />
<rect x="1070" y="760" width="1" height="2" fill="#c0c0c0" />
<rect x="1074" y="760" width="1" height="4" fill="#c0c0c0" />
<rect x="1078" y="760" width="1" height="5" fill="#c0c0c0" />
<rect x="1082" y="760" width="1" height="6" fill="#c0c0c0" />
<rect x="1086" y="760" width="1" height="8" fill="#c0c0c0" />
<rect x="1090" y="760" width="1" height="11" fill="#c0c0c0" />
<rect x="1094" y="760" width="1" height="13" fill="#c0c0c0" />
<rect x="1098" y="760" width="1" height="15" fill="#c0c0c0" />
<rect x="1102" y="760" width="1" height="17" fill="#c0c0c0" />
<rect x="1106" y="760" width="1" height="18" fill="#c0c0c0" />
<rect x="1110" y="760" width="1" height="18" fill="#c0c0c0" />
<rect x="1114" y="760" width="1" height="15" fill="#c0c0c0" />
<rect x="1118" y="760" width="1" height="12" fill="#c0c0c0" />
<rect x="1122" y="760" width="1" height="11" fill="#c0c0c0" />
<rect x="1126" y="760" width="1" height="12" fill="#c0c0c0" />
<rect x="1130" y="760" width="1" height="13" fill="#c0c0c0" />
<rect x="1134" y="760" width="1" height="15" fill="#c0c0c0" />
<rect x="1138" y="760" width="1" height="17" fill="#c0c0c0" />
<rect x="1142" y="760" width="1" height="19" fill="#c0c0c0" />
<rect x="1146" y="760" width="1" height="22" fill="#c0c0c0" />
<rect x="1150" y="760" width="1" height="24" fill="#c0c0c0" />
<rect x="1154" y="760" width="1" height="26" fill="#c0c0c0" />
<rect x="1158" y="760" width="1" height="30" fill="#c0c0c0" />
<rect x="1162" y="760" width="1" height="32" fill="#c0c0c0" />
<rect x="1166" y="760" width="1" height="34" fill="#c0c0c0" />
<rect x="1170" y="760" width="1" height="36" fill="#c0c0c0" />
<rect x="1174" y="760" width="1" height="37" fill="#c0c0c0" />
<rect x="1178" y="760" width="1" height="38" fill="#c0c0c0" />
<rect x="1182" y="760" width="1" height="39" fill="#c0c0c0" />
<rect x="1186" y="760" width="1" height="37" fill="#c0c0c0" />
<rect x="1190" y="760" width="1" height="34" fill="#c0c0c0" />
<rect x="1194" y="760" width="1" height="32" fill="#c0c0c0" />
<rect x="1198" y="760" width="1" height="30" fill="#c0c0c0" />
<rect x="1202" y="760" width="1" height="27" fill="#c0c0c0" />
<rect x="1206" y="760" width="1" height="20" fill="#c0c0c0" />
<rect x="1210" y="760" width="1" height="14" fill="#c0c0c0" />
<rect x="1214" y="760" width="1" height="8" fill="#c0c0c0" />
<rect x="1218" y="757" width="1" height="4" fill="#c0c0c0" />
<rect x="1222" y="748" width="1" height="13" fill="#c0c0c0" />
<rect x="1226" y="742" width="1" height="19" fill="#c0c0c0" />
<rect x="1230" y="736" width="1" height="25" fill="#c0c0c0" />
<rect x="1234" y="726" width="1" height="35" fill="#c0c0c0" />
<rect x="1238" y="718" width="1" height="43" fill="#c0c0c0" />
<rect x="1242" y="708" width="1" height="53" fill="#c0c0c0" />
<rect x="1246" y="704" width="1" height="57" fill="#c0c0c0" />
<rect x="1250" y="704" width="1" height="57" fill="#c0c0c0" />
<rect x="1254" y="714" width="1" height="47" fill="#c0c0c0" />
<rect x="1258" y="722" width="1" height="39" fill="#c0c0c0" />
<rect x="1262" y="729" width="1" height="32" fill="#c0c0c0" />
<rect x="1266" y="732" width="1" height="29" fill="#c0c0c0" />
<rect x="1270" y="733" width="1" height="28" fill="#c0c0c0" />
<path d="M6.5 770v1M7.5 770v1M8.5 770v1M12.5 771v1M13.5 771v1M14.5 771v1M18.5 771v1M19.5 771v1M20.5 771v1M24.5 770v1M25.5 769v1M26.5 769v1M30.5 767v1M31.5 767v1M32.5 767v1M36.5 765v1M37.5 764v1M38.5 764v1M42.5 763v1M43.5 763v1M44.5 763v1M48.5 763v1M49.5 762v1M50.5 762v1M54.5 763v1M55.5 763v1M56.5 763v1M60.5 764v1M61.5 765v1M62.5 765v1M66.5 766v1M67.5 766v1M68.5 767v1M72.5 768v1M73.5 769v1M74.5 769v1M78.5 771v1M79.5 771v1M80.5 771v1M84.5 772v1M85.5 773v1M86.5 773v1M90.5 774v1M91.5 774v1M92.5 774v1M96.5 774v1M97.5 774v1M98.5 774v1M102.5 773v1M103.5 773v1M104.5 773v1M108.5 771v1M109.5 770v1M110.5 770v1M114.5 769v1M115.5 769v1M116.5 768v1M120.5 766v1M121.5 765v1M122.5 765v1M126.5 764v1M127.5 764v1M128.5 764v1M132.5 763v1M133.5 762v1M134.5 762v1M138.5 762v1M139.5 762v1M140.5 762v1M144.5 762v1M145.5 762v1M146.5 762v1M150.5 763v1M151.5 763v1M152.5 764v1M156.5 766v1M157.5 767v1M158.5 767v1M162.5 769v1M163.5 769v1M164.5 769v1M168.5 770v1M169.5 771v1M170.5 771v1M174.5 772v1M175.5 772v1M176.5 772v1M180.5 773v1M181.5 773v1M182.5 773v1M186.5 773v1M187.5 773v1M188.5 773v1M192.5 773v1M193.5 772v1M194.5 772v1M198.5 771v1M199.5 771v1M200.5 771v1M204.5 770v1M205.5 769v1M206.5 769v1M210.5 768v1M211.5 768v1M212.5 768v1M216.5 767v1M217.5 766v1M218.5 766v1M222.5 766v1M223.5 766v1M224.5 766v1M228.5 765v1M229.5 765v1M230.5 765v1M234.5 765v1M235.5 765v1M236.5 765v1M240.5 765v1M241.5 766v1M242.5 766v1M246.5 766v1M247.5 766v1M248.5 766v1M252.5 767v1M253.5 767v1M254.5 767v1M258.5 767v1M259.5 767v1M260.5 767v1M264.5 767v1M265.5 767v1M266.5 767v1M270.5 767v1M271.5 767v1M272.5 767v1M276.5 767v1M277.5 767v1M278.5 767v1M282.5 767v1M283.5 767v1M284.5 767v1M288.5 766v1M289.5 766v1M290.5 766v1M294.5 764v1M295.5 764v1M296.5 764v1M300.5 762v1M301.5 761v1M302.5 761v1M306.5 758v1M307.5 757v1M308.5 756v1M312.5 753v1M313.5 753v1M314.5 752v1M318.5 750v1M319.5 750v1M320.5 749v1M324.5 748v1M325.5 747v1M326.5 747v1M330.5 747v1M331.5 747v1M332.5 747v1M336.5 747v1M337.5 748v1M338.5 748v1M342.5 750v1M343.5 750v1M344.5 750v1M348.5 751v1M349.5 751v1M350.5 751v1M354.5 751v1M355.5 751v1M356.5 751v1M360.5 750v1M361.5 749v1M362.5 749v1M366.5 747v1M367.5 747v1M368.5 746v1M372.5 744v1M373.5 743v1M374.5 743v1M378.5 742v1M379.5 742v1M380.5 742v1M384.5 741v1M385.5 741v1M386.5 741v1M390.5 741v1M391.5 741v1M392.5 742v1M396.5 744v1M397.5 745v1M398.5 745v1M402.5 748v1M403.5 749v1M404.5 750v1M408.5 753v1M409.5 753v1M410.5 754v1M414.5 757v1M415.5 757v1M416.5 758v1M420.5 760v1M421.5 761v1M422.5 761v1M426.5 762v1M427.5 762v1M428.5 763v1M432.5 764v1M433.5 765v1M434.5 765v1M438.5 765v1M439.5 765v1M440.5 765v1M444.5 765v1M445.5 766v1M446.5 766v1M450.5 766v1M451.5 766v1M452.5 766v1M456.5 767v1M457.5 768v1M458.5 768v1M462.5 769v1M463.5 769v1M464.5 770v1M468.5 771v1M469.5 772v1M470.5 772v1M474.5 774v1M475.5 774v1M476.5 774v1M480.5 775v1M481.5 776v1M482.5 776v1M486.5 778v1M487.5 778v1M488.5 778v1M492.5 779v1M493.5 780v1M494.5 780v1M498.5 780v1M499.5 780v1M500.5 780v1M504.5 780v1M505.5 779v1M506.5 779v1M510.5 777v1M511.5 777v1M512.5 777v1M516.5 775v1M517.5 774v1M518.5 774v1M522.5 772v1M523.5 771v1M524.5 770v1M528.5 768v1M529.5 767v1M530.5 767v1M534.5 766v1M535.5 766v1M536.5 766v1M540.5 766v1M541.5 766v1M542.5 766v1M546.5 767v1M547.5 767v1M548.5 767v1M552.5 768v1M553.5 769v1M554.5 769v1M558.5 770v1M559.5 770v1M560.5 771v1M564.5 772v1M565.5 772v1M566.5 772v1M570.5 773v1M571.5 773v1M572.5 773v1M576.5 773v1M577.5 773v1M578.5 773v1M582.5 773v1M583.5 773v1M584.5 773v1M588.5 773v1M589.5 774v1M590.5 774v1M594.5 775v1M595.5 775v1M596.5 776v1M600.5 777v1M601.5 778v1M602.5 778v1M606.5 779v1M607.5 779v1M608.5 780v1M612.5 781v1M613.5 781v1M614.5 781v1M618.5 782v1M619.5 782v1M620.5 782v1M624.5 782v1M625.5 781v1M626.5 781v1M630.5 780v1M631.5 780v1M632.5 779v1M636.5 778v1M637.5 777v1M638.5 777v1M642.5 775v1M643.5 775v1M644.5 775v1M648.5 774v1M649.5 773v1M650.5 773v1M654.5 772v1M655.5 772v1M656.5 772v1M660.5 771v1M661.5 770v1M662.5 770v1M666.5 769v1M667.5 769v1M668.5 769v1M672.5 769v1M673.5 770v1M674.5 770v1M678.5 770v1M679.5 770v1M680.5 770v1M684.5 771v1M685.5 772v1M686.5 772v1M690.5 774v1M691.5 774v1M692.5 774v1M696.5 775v1M697.5 776v1M698.5 776v1M702.5 777v1M703.5 777v1M704.5 777v1M708.5 777v1M709.5 777v1M710.5 777v1M714.5 777v1M715.5 777v1M716.5 777v1M720.5 777v1M721.5 776v1M722.5 776v1M726.5 774v1M727.5 774v1M728.5 774v1M732.5 772v1M733.5 771v1M734.5 771v1M738.5 769v1M739.5 769v1M740.5 768v1M744.5 766v1M745.5 765v1M746.5 765v1M750.5 763v1M751.5 762v1M752.5 761v1M756.5 758v1M757.5 758v1M758.5 757v1M762.5 754v1M763.5 753v1M764.5 752v1M768.5 750v1M769.5 749v1M770.5 749v1M774.5 747v1M775.5 747v1M776.5 746v1M780.5 745v1M781.5 744v1M782.5 744v1M786.5 743v1M787.5 743v1M788.5 743v1M792.5 743v1M793.5 744v1M794.5 744v1M798.5 744v1M799.5 744v1M800.5 744v1M804.5 744v1M805.5 744v1M806.5 744v1M810.5 745v1M811.5 745v1M812.5 745v1M816.5 745v1M817.5 745v1M818.5 745v1M822.5 746v1M823.5 746v1M824.5 746v1M828.5 748v1M829.5 749v1M830.5 749v1M834.5 751v1M835.5 751v1M836.5 752v1M840.5 755v1M841.5 755v1M842.5 756v1M846.5 758v1M847.5 759v1M848.5 760v1M852.5 762v1M853.5 763v1M854.5 763v1M858.5 764v1M859.5 764v1M860.5 764v1M864.5 765v1M865.5 765v1M866.5 765v1M870.5 765v1M871.5 765v1M872.5 765v1M876.5 765v1M877.5 765v1M878.5 765v1M882.5 764v1M883.5 764v1M884.5 764v1M888.5 764v1M889.5 764v1M890.5 764v1M894.5 765v1M895.5 765v1M896.5 765v1M900.5 765v1M901.5 766v1M902.5 766v1M906.5 766v1M907.5 766v1M908.5 766v1M912.5 766v1M913.5 766v1M914.5 766v1M918.5 765v1M919.5 765v1M920.5 765v1M924.5 764v1M925.5 763v1M926.5 763v1M930.5 762v1M931.5 762v1M932.5 762v1M936.5 761v1M937.5 760v1M938.5 760v1M942.5 759v1M943.5 759v1M944.5 758v1M948.5 757v1M949.5 756v1M950.5 756v1M954.5 755v1M955.5 755v1M956.5 755v1M960.5 754v1M961.5 753v1M962.5 753v1M966.5 752v1M967.5 752v1M968.5 752v1M972.5 751v1M973.5 751v1M974.5 751v1M978.5 751v1M979.5 751v1M980.5 751v1M984.5 751v1M985.5 751v1M986.5 751v1M990.5 752v1M991.5 752v1M992.5 752v1M996.5 753v1M997.5 753v1M998.5 753v1M1002.5 753v1M1003.5 753v1M1004.5 753v1M1008.5 752v1M1009.5 751v1M1010.5 751v1M1014.5 750v1M1015.5 750v1M1016.5 749v1M1020.5 748v1M1021.5 747v1M1022.5 747v1M1026.5 746v1M1027.5 746v1M1028.5 746v1M1032.5 745v1M1033.5 745v1M1034.5 745v1M1038.5 745v1M1039.5 745v1M1040.5 746v1M1044.5 747v1M1045.5 748v1M1046.5 748v1M1050.5 750v1M1051.5 750v1M1052.5 750v1M1056.5 752v1M1057.5 753v1M1058.5 753v1M1062.5 754v1M1063.5 754v1M1064.5 755v1M1068.5 756v1M1069.5 757v1M1070.5 757v1M1074.5 758v1M1075.5 758v1M1076.5 758v1M1080.5 759v1M1081.5 760v1M1082.5 760v1M1086.5 761v1M1087.5 761v1M1088.5 762v1M1092.5 763v1M1093.5 764v1M1094.5 764v1M1098.5 766v1M1099.5 766v1M1100.5 767v1M1104.5 769v1M1105.5 770v1M1106.5 770v1M1110.5 771v1M1111.5 771v1M1112.5 771v1M1116.5 772v1M1117.5 773v1M1118.5 773v1M1122.5 773v1M1123.5 773v1M1124.5 773v1M1128.5 773v1M1129.5 773v1M1130.5 773v1M1134.5 774v1M1135.5 774v1M1136.5 774v1M1140.5 774v1M1141.5 774v1M1142.5 774v1M1146.5 774v1M1147.5 774v1M1148.5 774v1M1152.5 776v1M1153.5 777v1M1154.5 777v1M1158.5 779v1M1159.5 779v1M1160.5 780v1M1164.5 782v1M1165.5 783v1M1166.5 783v1M1170.5 786v1M1171.5 786v1M1172.5 787v1M1176.5 789v1M1177.5 790v1M1178.5 790v1M1182.5 792v1M1183.5 792v1M1184.5 792v1M1188.5 793v1M1189.5 794v1M1190.5 794v1M1194.5 794v1M1195.5 794v1M1196.5 794v1M1200.5 794v1M1201.5 793v1M1202.5 793v1M1206.5 792v1M1207.5 791v1M1208.5 790v1M1212.5 787v1M1213.5 787v1M1214.5 786v1M1217.5 782v1M1218.5 781v1M1219.5 780v1M1222.5 776v1M1223.5 774v2M1226.5 770v1M1227.5 768v2M1230.5 764v1M1231.5 762v2M1233.5 758v1M1234.5 756v2M1236.5 752v1M1237.5 751v1M1238.5 750v1M1240.5 745v2M1241.5 744v1M1243.5 740v1M1244.5 738v2M1246.5 734v1M1247.5 732v2M1249.5 728v1M1250.5 727v1M1251.5 726v1M1254.5 722v1M1255.5 721v1M1256.5 720v1M1260.5 719v1M1261.5 718v1M1262.5 718v1M1266.5 717v1M1267.5 717v1M1268.5 717v1" fill="none" stroke="#ff0000" stroke-width="1"/>
</g>
<rect x="5" y="24" width="1594" height="1" fill="#000" />
<rect x="5" y="591" width="1594" height="1" fill="#000" />
<rect x="5" y="24" width="1" height="568" fill="#000" />
<rect x="1598" y="24" width="1" height="568" fill="#000" />
<rect x="5" y="593" width="1594" height="1" fill="#000" />
<rect x="5" y="697" width="1594" height="1" fill="#000" />
<rect x="5" y="593" width="1" height="105" fill="#000" />
<rect x="1598" y="593" width="1" height="105" fill="#000" />
<rect x="5" y="699" width="1594" height="1" fill="#000" />
<rect x="5" y="802" width="1594" height="1" fill="#000" />
<rect x="5" y="699" width="1" height="104" fill="#000" />
<rect x="1598" y="699" width="1" height="104" fill="#000" />
<rect x="1" y="20" width="1" height="803" fill="#c6c6c6" />
<rect x="2" y="20" width="1" height="803" fill="#6e6e6e" />
<rect x="3" y="21" width="1" height="802" fill="#e8e8e8" />
<path d="M9 35 L16.4 35 L12.7 31.2 Z" fill="#000" shape-rendering="geometricPrecision"/>
<text x="21.4" y="35.8" font-size="9.5" fill="#000" textLength="63.2" lengthAdjust="spacingAndGlyphs" stroke="#000" stroke-width="0.15" >EURUSD,Daily</text>
<text x="91.4" y="35.8" font-size="9.5" fill="#000" textLength="140.6" lengthAdjust="spacingAndGlyphs" stroke="#000" stroke-width="0.15" >1.11361 1.11853 1.11355 1.11688</text>
<text x="10" y="606" font-size="9.5" fill="#000" textLength="68" lengthAdjust="spacingAndGlyphs" stroke="#000" stroke-width="0.15" >RSI(14) 55.3736</text>
<text x="10" y="712" font-size="9.5" fill="#000" textLength="148" lengthAdjust="spacingAndGlyphs" stroke="#000" stroke-width="0.15" >MACD(12,26,9) 0.004956 0.007736</text>
<path d="M1274 25 L1283.4 25 L1278.7 30 Z" fill="#c0c0c0" shape-rendering="geometricPrecision"/>
<defs><linearGradient id="gTab" x1="0" y1="0" x2="0" y2="1"><stop offset="0" stop-color="#ff5252"/><stop offset="1" stop-color="#e13333"/></linearGradient><linearGradient id="gBig" x1="0" y1="0" x2="0" y2="1"><stop offset="0" stop-color="#e43636"/><stop offset="0.55" stop-color="#c81818"/><stop offset="1" stop-color="#ac0000"/></linearGradient><linearGradient id="gBtn" x1="0" y1="0" x2="0" y2="1"><stop offset="0" stop-color="#f4f4f4"/><stop offset="0.5" stop-color="#dedede"/><stop offset="0.5" stop-color="#cfcfcf"/><stop offset="1" stop-color="#d6d6d6"/></linearGradient></defs>
<rect x="7" y="43" width="223" height="66" fill="#fff" />
<rect x="9" y="44" width="52" height="24" fill="url(#gTab)" />
<rect x="176" y="44" width="52" height="24" fill="url(#gTab)" />
<rect x="9" y="44" width="52" height="1" fill="#c01818" />
<rect x="176" y="44" width="52" height="1" fill="#c01818" />
<rect x="9" y="44" width="1" height="24" fill="#c81c1c" />
<rect x="60" y="44" width="1" height="24" fill="#c81c1c" />
<rect x="176" y="44" width="1" height="24" fill="#c81c1c" />
<rect x="227" y="44" width="1" height="24" fill="#c81c1c" />
<rect x="9" y="68" width="109" height="40" fill="url(#gBig)" />
<rect x="120" y="68" width="108" height="40" fill="url(#gBig)" />
<rect x="61" y="68" width="57" height="1" fill="#b81010" />
<rect x="120" y="68" width="56" height="1" fill="#b81010" />
<rect x="13" y="67" width="44" height="1" fill="#f7a0a0" />
<rect x="180" y="67" width="44" height="1" fill="#f7a0a0" />
<rect x="63" y="44" width="110" height="21" fill="#fff" stroke="#a9adb8" stroke-width="1" transform="translate(0.5,0.5)"/>
<rect x="65" y="46" width="19" height="18" fill="url(#gBtn)" />
<rect x="84" y="45" width="1" height="20" fill="#a9adb8" />
<rect x="153" y="46" width="19" height="18" fill="url(#gBtn)" />
<rect x="152" y="45" width="1" height="20" fill="#a9adb8" />
<g shape-rendering="geometricPrecision" fill="#5b6bbf"><path d="M70.8 53 L76.4 53 L73.6 56.2 Z"/><path d="M159.6 56.2 L165.2 56.2 L162.4 52.9 Z"/></g>
<text x="125.5" y="58.8" font-size="12" fill="#000" textLength="23.3" lengthAdjust="spacingAndGlyphs" >3.00</text>
<text x="21.4" y="59.8" font-size="12.3" fill="#ffe8e8" textLength="25.4" lengthAdjust="spacingAndGlyphs" >SELL</text>
<text x="189.7" y="59.8" font-size="12.3" fill="#ffe8e8" textLength="23.1" lengthAdjust="spacingAndGlyphs" >BUY</text>
<text x="29.5" y="98.8" font-size="12" fill="#fff" textLength="23.5" lengthAdjust="spacingAndGlyphs" font-weight="bold" stroke="#fff" stroke-width="0.15" >1.11</text>
<text x="56.2" y="98.8" font-size="33.5" fill="#fff" textLength="35" lengthAdjust="spacingAndGlyphs" >68</text>
<text x="95.6" y="82.9" font-size="11.6" fill="#fff" textLength="7" lengthAdjust="spacingAndGlyphs" font-weight="bold" stroke="#fff" stroke-width="0.15" >8</text>
<text x="139.6" y="98.8" font-size="12" fill="#fff" textLength="23.1" lengthAdjust="spacingAndGlyphs" font-weight="bold" stroke="#fff" stroke-width="0.15" >1.11</text>
<text x="166.5" y="98.8" font-size="33.5" fill="#fff" textLength="35" lengthAdjust="spacingAndGlyphs" >71</text>
<text x="206.8" y="82.9" font-size="11.6" fill="#fff" textLength="7" lengthAdjust="spacingAndGlyphs" font-weight="bold" stroke="#fff" stroke-width="0.15" >6</text>
<rect x="1599" y="27" width="2" height="1" fill="#000" />
<text x="1604.5" y="31.1" font-size="9.5" fill="#000" textLength="32" lengthAdjust="spacingAndGlyphs" stroke="#000" stroke-width="0.15" >1.15290</text>
<rect x="1599" y="60" width="2" height="1" fill="#000" />
<text x="1604.5" y="64.1" font-size="9.5" fill="#000" textLength="32" lengthAdjust="spacingAndGlyphs" stroke="#000" stroke-width="0.15" >1.14840</text>
<rect x="1599" y="93" width="2" height="1" fill="#000" />
<text x="1604.5" y="97.1" font-size="9.5" fill="#000" textLength="32" lengthAdjust="spacingAndGlyphs" stroke="#000" stroke-width="0.15" >1.14390</text>
<rect x="1599" y="126" width="2" height="1" fill="#000" />
<text x="1604.5" y="130.1" font-size="9.5" fill="#000" textLength="32" lengthAdjust="spacingAndGlyphs" stroke="#000" stroke-width="0.15" >1.13940</text>
<rect x="1599" y="159" width="2" height="1" fill="#000" />
<text x="1604.5" y="163.1" font-size="9.5" fill="#000" textLength="32" lengthAdjust="spacingAndGlyphs" stroke="#000" stroke-width="0.15" >1.13480</text>
<rect x="1599" y="192" width="2" height="1" fill="#000" />
<text x="1604.5" y="196.1" font-size="9.5" fill="#000" textLength="32" lengthAdjust="spacingAndGlyphs" stroke="#000" stroke-width="0.15" >1.13030</text>
<rect x="1599" y="225" width="2" height="1" fill="#000" />
<text x="1604.5" y="229.1" font-size="9.5" fill="#000" textLength="32" lengthAdjust="spacingAndGlyphs" stroke="#000" stroke-width="0.15" >1.12580</text>
<rect x="1599" y="258" width="2" height="1" fill="#000" />
<text x="1604.5" y="262.1" font-size="9.5" fill="#000" textLength="32" lengthAdjust="spacingAndGlyphs" stroke="#000" stroke-width="0.15" >1.12130</text>
<rect x="1599" y="291" width="2" height="1" fill="#000" />
<text x="1604.5" y="295.1" font-size="9.5" fill="#000" textLength="32" lengthAdjust="spacingAndGlyphs" stroke="#000" stroke-width="0.15" >1.11680</text>
<rect x="1599" y="324" width="2" height="1" fill="#000" />
<text x="1604.5" y="328.1" font-size="9.5" fill="#000" textLength="32" lengthAdjust="spacingAndGlyphs" stroke="#000" stroke-width="0.15" >1.11230</text>
<rect x="1599" y="357" width="2" height="1" fill="#000" />
<text x="1604.5" y="361.1" font-size="9.5" fill="#000" textLength="32" lengthAdjust="spacingAndGlyphs" stroke="#000" stroke-width="0.15" >1.10780</text>
<rect x="1599" y="390" width="2" height="1" fill="#000" />
<text x="1604.5" y="394.1" font-size="9.5" fill="#000" textLength="32" lengthAdjust="spacingAndGlyphs" stroke="#000" stroke-width="0.15" >1.10330</text>
<rect x="1599" y="423" width="2" height="1" fill="#000" />
<text x="1604.5" y="427.1" font-size="9.5" fill="#000" textLength="32" lengthAdjust="spacingAndGlyphs" stroke="#000" stroke-width="0.15" >1.09880</text>
<rect x="1599" y="456" width="2" height="1" fill="#000" />
<text x="1604.5" y="460.1" font-size="9.5" fill="#000" textLength="32" lengthAdjust="spacingAndGlyphs" stroke="#000" stroke-width="0.15" >1.09430</text>
<rect x="1599" y="489" width="2" height="1" fill="#000" />
<text x="1604.5" y="493.1" font-size="9.5" fill="#000" textLength="32" lengthAdjust="spacingAndGlyphs" stroke="#000" stroke-width="0.15" >1.08980</text>
<rect x="1599" y="522" width="2" height="1" fill="#000" />
<text x="1604.5" y="526.1" font-size="9.5" fill="#000" textLength="32" lengthAdjust="spacingAndGlyphs" stroke="#000" stroke-width="0.15" >1.08520</text>
<rect x="1599" y="555" width="2" height="1" fill="#000" />
<text x="1604.5" y="559.1" font-size="9.5" fill="#000" textLength="32" lengthAdjust="spacingAndGlyphs" stroke="#000" stroke-width="0.15" >1.08070</text>
<rect x="1599" y="588" width="2" height="1" fill="#000" />
<text x="1604.5" y="592.1" font-size="9.5" fill="#000" textLength="32" lengthAdjust="spacingAndGlyphs" stroke="#000" stroke-width="0.15" >1.07620</text>
<text x="1602" y="604.1" font-size="9.5" fill="#000" textLength="15" lengthAdjust="spacingAndGlyphs" stroke="#000" stroke-width="0.15" >100</text>
<text x="1602" y="629.1" font-size="9.5" fill="#000" textLength="9.5" lengthAdjust="spacingAndGlyphs" stroke="#000" stroke-width="0.15" >70</text>
<text x="1602" y="670.1" font-size="9.5" fill="#000" textLength="9.5" lengthAdjust="spacingAndGlyphs" stroke="#000" stroke-width="0.15" >30</text>
<text x="1602" y="694.1" font-size="9.5" fill="#000" textLength="4.6" lengthAdjust="spacingAndGlyphs" stroke="#000" stroke-width="0.15" >0</text>
<rect x="1599" y="595" width="1" height="1" fill="#000" />
<rect x="1599" y="625" width="1" height="1" fill="#000" />
<rect x="1599" y="666" width="1" height="1" fill="#000" />
<rect x="1599" y="696" width="1" height="1" fill="#000" />
<text x="1602" y="710.1" font-size="9.5" fill="#000" textLength="38.2" lengthAdjust="spacingAndGlyphs" stroke="#000" stroke-width="0.15" >0.011232</text>
<text x="1602" y="764.1" font-size="9.5" fill="#000" textLength="18" lengthAdjust="spacingAndGlyphs" stroke="#000" stroke-width="0.15" >0.00</text>
<text x="1602" y="799.1" font-size="9.5" fill="#000" textLength="42" lengthAdjust="spacingAndGlyphs" stroke="#000" stroke-width="0.15" >-0.007894</text>
<rect x="1599" y="701" width="1" height="1" fill="#000" />
<rect x="1599" y="760" width="1" height="1" fill="#000" />
<rect x="1599" y="801" width="1" height="1" fill="#000" />
<rect x="1600" y="41" width="41" height="11" fill="#ff0000" />
<text x="1604.5" y="50.1" font-size="9.5" fill="#fff" textLength="32" lengthAdjust="spacingAndGlyphs" stroke="#fff" stroke-width="0.15" >1.15010</text>
<rect x="1600" y="123" width="41" height="11" fill="#ff0000" />
<text x="1604.5" y="132.1" font-size="9.5" fill="#fff" textLength="32" lengthAdjust="spacingAndGlyphs" stroke="#fff" stroke-width="0.15" >1.13891</text>
<rect x="1600" y="186" width="41" height="11" fill="#ff0000" />
<text x="1604.5" y="195.1" font-size="9.5" fill="#fff" textLength="32" lengthAdjust="spacingAndGlyphs" stroke="#fff" stroke-width="0.15" >1.13034</text>
<rect x="1600" y="261" width="41" height="11" fill="#00ff00" />
<text x="1604.5" y="270.1" font-size="9.5" fill="#fff" textLength="32" lengthAdjust="spacingAndGlyphs" stroke="#fff" stroke-width="0.15" >1.12004</text>
<rect x="1600" y="286" width="41" height="11" fill="#000000" />
<text x="1604.5" y="295.1" font-size="9.5" fill="#fff" textLength="32" lengthAdjust="spacingAndGlyphs" stroke="#fff" stroke-width="0.15" >1.11688</text>
<rect x="1600" y="334" width="41" height="11" fill="#0000ff" />
<text x="1604.5" y="343.1" font-size="9.5" fill="#fff" textLength="32" lengthAdjust="spacingAndGlyphs" stroke="#fff" stroke-width="0.15" >1.11009</text>
<rect x="1600" y="408" width="41" height="11" fill="#0000ff" />
<text x="1604.5" y="417.1" font-size="9.5" fill="#fff" textLength="32" lengthAdjust="spacingAndGlyphs" stroke="#fff" stroke-width="0.15" >1.10008</text>
<rect x="1600" y="496" width="41" height="11" fill="#0000ff" />
<text x="1604.5" y="505.1" font-size="9.5" fill="#fff" textLength="32" lengthAdjust="spacingAndGlyphs" stroke="#fff" stroke-width="0.15" >1.08800</text>
<rect x="6" y="803" width="1" height="3" fill="#000" />
<text x="5.4" y="814.7" font-size="9.5" fill="#000" textLength="51.7" lengthAdjust="spacingAndGlyphs" stroke="#000" stroke-width="0.15" >14 Mar 2019</text>
<rect x="70" y="803" width="1" height="3" fill="#000" />
<text x="69.4" y="814.7" font-size="9.5" fill="#000" textLength="45" lengthAdjust="spacingAndGlyphs" stroke="#000" stroke-width="0.15" >2 Apr 2019</text>
<rect x="134" y="803" width="1" height="3" fill="#000" />
<text x="133.4" y="814.7" font-size="9.5" fill="#000" textLength="50.7" lengthAdjust="spacingAndGlyphs" stroke="#000" stroke-width="0.15" >20 Apr 2019</text>
<rect x="198" y="803" width="1" height="3" fill="#000" />
<text x="197.4" y="814.7" font-size="9.5" fill="#000" textLength="50" lengthAdjust="spacingAndGlyphs" stroke="#000" stroke-width="0.15" >9 May 2019</text>
<rect x="262" y="803" width="1" height="3" fill="#000" />
<text x="261.4" y="814.7" font-size="9.5" fill="#000" textLength="55" lengthAdjust="spacingAndGlyphs" stroke="#000" stroke-width="0.15" >28 May 2019</text>
<rect x="326" y="803" width="1" height="3" fill="#000" />
<text x="325.4" y="814.7" font-size="9.5" fill="#000" textLength="49.4" lengthAdjust="spacingAndGlyphs" stroke="#000" stroke-width="0.15" >15 Jun 2019</text>
<rect x="390" y="803" width="1" height="3" fill="#000" />
<text x="389.4" y="814.7" font-size="9.5" fill="#000" textLength="41.3" lengthAdjust="spacingAndGlyphs" stroke="#000" stroke-width="0.15" >4 Jul 2019</text>
<rect x="454" y="803" width="1" height="3" fill="#000" />
<text x="453.4" y="814.7" font-size="9.5" fill="#000" textLength="46.6" lengthAdjust="spacingAndGlyphs" stroke="#000" stroke-width="0.15" >23 Jul 2019</text>
<rect x="518" y="803" width="1" height="3" fill="#000" />
<text x="517.4" y="814.7" font-size="9.5" fill="#000" textLength="52" lengthAdjust="spacingAndGlyphs" stroke="#000" stroke-width="0.15" >10 Aug 2019</text>
<rect x="582" y="803" width="1" height="3" fill="#000" />
<text x="581.4" y="814.7" font-size="9.5" fill="#000" textLength="52" lengthAdjust="spacingAndGlyphs" stroke="#000" stroke-width="0.15" >29 Aug 2019</text>
<rect x="646" y="803" width="1" height="3" fill="#000" />
<text x="645.4" y="814.7" font-size="9.5" fill="#000" textLength="51.2" lengthAdjust="spacingAndGlyphs" stroke="#000" stroke-width="0.15" >17 Sep 2019</text>
<rect x="710" y="803" width="1" height="3" fill="#000" />
<text x="709.4" y="814.7" font-size="9.5" fill="#000" textLength="45" lengthAdjust="spacingAndGlyphs" stroke="#000" stroke-width="0.15" >5 Oct 2019</text>
<rect x="774" y="803" width="1" height="3" fill="#000" />
<text x="773.4" y="814.7" font-size="9.5" fill="#000" textLength="50.2" lengthAdjust="spacingAndGlyphs" stroke="#000" stroke-width="0.15" >24 Oct 2019</text>
<rect x="838" y="803" width="1" height="3" fill="#000" />
<text x="837.4" y="814.7" font-size="9.5" fill="#000" textLength="52" lengthAdjust="spacingAndGlyphs" stroke="#000" stroke-width="0.15" >12 Nov 2019</text>
<rect x="902" y="803" width="1" height="3" fill="#000" />
<text x="901.4" y="814.7" font-size="9.5" fill="#000" textLength="53" lengthAdjust="spacingAndGlyphs" stroke="#000" stroke-width="0.15" >30 Nov 2019</text>
<rect x="966" y="803" width="1" height="3" fill="#000" />
<text x="965.4" y="814.7" font-size="9.5" fill="#000" textLength="51.2" lengthAdjust="spacingAndGlyphs" stroke="#000" stroke-width="0.15" >19 Dec 2019</text>
<rect x="1030" y="803" width="1" height="3" fill="#000" />
<text x="1029.4" y="814.7" font-size="9.5" fill="#000" textLength="44.3" lengthAdjust="spacingAndGlyphs" stroke="#000" stroke-width="0.15" >7 Jan 2020</text>
<rect x="1094" y="803" width="1" height="3" fill="#000" />
<text x="1093.4" y="814.7" font-size="9.5" fill="#000" textLength="49.4" lengthAdjust="spacingAndGlyphs" stroke="#000" stroke-width="0.15" >25 Jan 2020</text>
<rect x="1158" y="803" width="1" height="3" fill="#000" />
<text x="1157.4" y="814.7" font-size="9.5" fill="#000" textLength="51.2" lengthAdjust="spacingAndGlyphs" stroke="#000" stroke-width="0.15" >13 Feb 2020</text>
<rect x="1222" y="803" width="1" height="3" fill="#000" />
<text x="1221.4" y="814.7" font-size="9.5" fill="#000" textLength="46.7" lengthAdjust="spacingAndGlyphs" stroke="#000" stroke-width="0.15" >3 Mar 2020</text>
<rect x="0" y="0" width="1641" height="20" fill="#f0f0f0" />
<rect x="0" y="19" width="1641" height="1" fill="#e3e3e3" />
<rect x="0" y="20" width="1641" height="1" fill="#b4b4b4" />
<rect x="0" y="21" width="1641" height="1" fill="#6e6e6e" />
<g fill="#4d4d4d" shape-rendering="geometricPrecision"><path d="M-1 3.7 L1.4 1.7 L4.9 5.3 L3.1 7.1 L-1 7.1 Z"/><path d="M5 11.3 L7 10.2 L9.9 10.2 L12.1 11.3 L8.5 15.4 Z"/><path d="M-0.3 9.6 L2.4 11.9 L6.8 6.4" fill="none" stroke="#4d4d4d" stroke-width="1.4"/><path d="M19 7 L24.2 7 L21.6 10.1 Z" fill="#000"/></g>
<rect x="29" y="0" width="1" height="20" fill="#f6f6f6" />
<rect x="30" y="0" width="1" height="20" fill="#9a9a9a" />
<rect x="31" y="0" width="1" height="20" fill="#fcfcfc" />
<rect x="34" y="0" width="3" height="1" fill="#9a9a9a" />
<rect x="34" y="2" width="3" height="1" fill="#9a9a9a" />
<rect x="34" y="4" width="3" height="1" fill="#9a9a9a" />
<rect x="34" y="6" width="3" height="1" fill="#9a9a9a" />
<rect x="34" y="8" width="3" height="1" fill="#9a9a9a" />
<rect x="34" y="10" width="3" height="1" fill="#9a9a9a" />
<rect x="34" y="12" width="3" height="1" fill="#9a9a9a" />
<rect x="34" y="14" width="3" height="1" fill="#9a9a9a" />
<rect x="34" y="16" width="3" height="1" fill="#9a9a9a" />
<rect x="209" y="0" width="24" height="18" fill="#f8f8f8" />
<rect x="208" y="0" width="1" height="18" fill="#a0a0a0" />
<rect x="291" y="0" width="1" height="20" fill="#a0a0a0" />
<rect x="292" y="0" width="1" height="20" fill="#ffffff" />
<text x="45.3" y="12.2" font-size="10" fill="#3c3c3c" textLength="13.2" lengthAdjust="spacingAndGlyphs" stroke="#3c3c3c" stroke-width="0.15" >M1</text>
<text x="73.5" y="12.2" font-size="10" fill="#3c3c3c" textLength="13.9" lengthAdjust="spacingAndGlyphs" stroke="#3c3c3c" stroke-width="0.15" >M5</text>
<text x="99.4" y="12.2" font-size="10" fill="#3c3c3c" textLength="17.6" lengthAdjust="spacingAndGlyphs" stroke="#3c3c3c" stroke-width="0.15" >M15</text>
<text x="127.6" y="12.2" font-size="10" fill="#3c3c3c" textLength="17.7" lengthAdjust="spacingAndGlyphs" stroke="#3c3c3c" stroke-width="0.15" >M30</text>
<text x="158.5" y="12.2" font-size="10" fill="#3c3c3c" textLength="11.9" lengthAdjust="spacingAndGlyphs" stroke="#3c3c3c" stroke-width="0.15" >H1</text>
<text x="185.5" y="12.2" font-size="10" fill="#3c3c3c" textLength="12.5" lengthAdjust="spacingAndGlyphs" stroke="#3c3c3c" stroke-width="0.15" >H4</text>
<text x="214" y="12.2" font-size="10" fill="#3c3c3c" textLength="12.7" lengthAdjust="spacingAndGlyphs" stroke="#3c3c3c" stroke-width="0.15" >D1</text>
<text x="241.7" y="12.2" font-size="10" fill="#3c3c3c" textLength="14.6" lengthAdjust="spacingAndGlyphs" stroke="#3c3c3c" stroke-width="0.15" >W1</text>
<text x="268.7" y="12.2" font-size="10" fill="#3c3c3c" textLength="14.7" lengthAdjust="spacingAndGlyphs" stroke="#3c3c3c" stroke-width="0.15" >MN</text>
<rect x="0" y="826" width="1641" height="24" fill="#f0f0f0" />
<rect x="0" y="823" width="1641" height="1" fill="#f4f4f4" />
<rect x="0" y="824" width="1641" height="1" fill="#e0e0e0" />
<rect x="0" y="825" width="1641" height="1" fill="#000" />
<rect x="8" y="825" width="102" height="18" fill="#fff" />
<rect x="7" y="825" width="1" height="19" fill="#000" />
<rect x="110" y="825" width="1" height="19" fill="#000" />
<rect x="7" y="843" width="104" height="1" fill="#000" />
<rect x="2" y="826" width="1" height="18" fill="#8a8a8a" />
<rect x="3" y="826" width="1" height="18" fill="#fff" />
<rect x="0" y="846" width="1641" height="1" fill="#f8f8f8" />
<rect x="0" y="847" width="1641" height="1" fill="#dcdcdc" />
<rect x="0" y="848" width="1641" height="1" fill="#b0b0b0" />
<rect x="0" y="849" width="1641" height="1" fill="#909090" />
<text x="19.5" y="839.6" font-size="13" fill="#000" textLength="79.5" lengthAdjust="spacingAndGlyphs" stroke="#000" stroke-width="0.15" >EURUSD,Daily</text>
<text x="121.5" y="839.6" font-size="13" fill="#7a7a7a" textLength="79.0" lengthAdjust="spacingAndGlyphs" stroke="#7a7a7a" stroke-width="0.15" >USDCHF,Daily</text>
<text x="222.5" y="839.6" font-size="13" fill="#7a7a7a" textLength="81.5" lengthAdjust="spacingAndGlyphs" stroke="#7a7a7a" stroke-width="0.15" >AUDUSD,Daily</text>
<text x="326.5" y="839.6" font-size="13" fill="#7a7a7a" textLength="81.0" lengthAdjust="spacingAndGlyphs" stroke="#7a7a7a" stroke-width="0.15" >USDCAD,Daily</text>
<text x="429.5" y="839.6" font-size="13" fill="#7a7a7a" textLength="82.5" lengthAdjust="spacingAndGlyphs" stroke="#7a7a7a" stroke-width="0.15" >USDCNH,Daily</text>
<text x="535.5" y="839.6" font-size="13" fill="#7a7a7a" textLength="79.5" lengthAdjust="spacingAndGlyphs" stroke="#7a7a7a" stroke-width="0.15" >EURUSD,Daily</text>
<text x="639.5" y="839.6" font-size="13" fill="#7a7a7a" textLength="67.0" lengthAdjust="spacingAndGlyphs" stroke="#7a7a7a" stroke-width="0.15" >GBPUSD,H1</text>
<text x="731" y="839.6" font-size="13" fill="#7a7a7a" textLength="71.5" lengthAdjust="spacingAndGlyphs" stroke="#7a7a7a" stroke-width="0.15" >XAUUSD,M5</text>
<text x="826.5" y="839.6" font-size="13" fill="#7a7a7a" textLength="49.0" lengthAdjust="spacingAndGlyphs" stroke="#7a7a7a" stroke-width="0.15" >HK50,H1</text>
<text x="898.5" y="839.6" font-size="13" fill="#7a7a7a" textLength="56.0" lengthAdjust="spacingAndGlyphs" stroke="#7a7a7a" stroke-width="0.15" >UK100,H1</text>
<text x="978.5" y="839.6" font-size="13" fill="#7a7a7a" textLength="56.0" lengthAdjust="spacingAndGlyphs" stroke="#7a7a7a" stroke-width="0.15" >UK100,H1</text>
<text x="1058.5" y="839.6" font-size="13" fill="#7a7a7a" textLength="56.0" lengthAdjust="spacingAndGlyphs" stroke="#7a7a7a" stroke-width="0.15" >GER30,H1</text>
<text x="1137.5" y="839.6" font-size="13" fill="#7a7a7a" textLength="54.0" lengthAdjust="spacingAndGlyphs" stroke="#7a7a7a" stroke-width="0.15" >FRA40,H1</text>
<rect x="211" y="829" width="1" height="13" fill="#8c8c8c" />
<rect x="315" y="829" width="1" height="13" fill="#8c8c8c" />
<rect x="419" y="829" width="1" height="13" fill="#8c8c8c" />
<rect x="523" y="829" width="1" height="13" fill="#8c8c8c" />
<rect x="627" y="829" width="1" height="13" fill="#8c8c8c" />
<rect x="719" y="829" width="1" height="13" fill="#8c8c8c" />
<rect x="815" y="829" width="1" height="13" fill="#8c8c8c" />
<rect x="887" y="829" width="1" height="13" fill="#8c8c8c" />
<rect x="967" y="829" width="1" height="13" fill="#8c8c8c" />
<rect x="1047" y="829" width="1" height="13" fill="#8c8c8c" />
<rect x="1127" y="829" width="1" height="13" fill="#8c8c8c" />
<rect x="1203" y="829" width="1" height="13" fill="#8c8c8c" />
<g shape-rendering="geometricPrecision" fill="#8c8c8c"><path d="M1617 831.5 L1617 837.5 L1613.6 834.5 Z"/><path d="M1633 831.5 L1633 837.5 L1636.4 834.5 Z"/></g>
</svg>
</body></html>
